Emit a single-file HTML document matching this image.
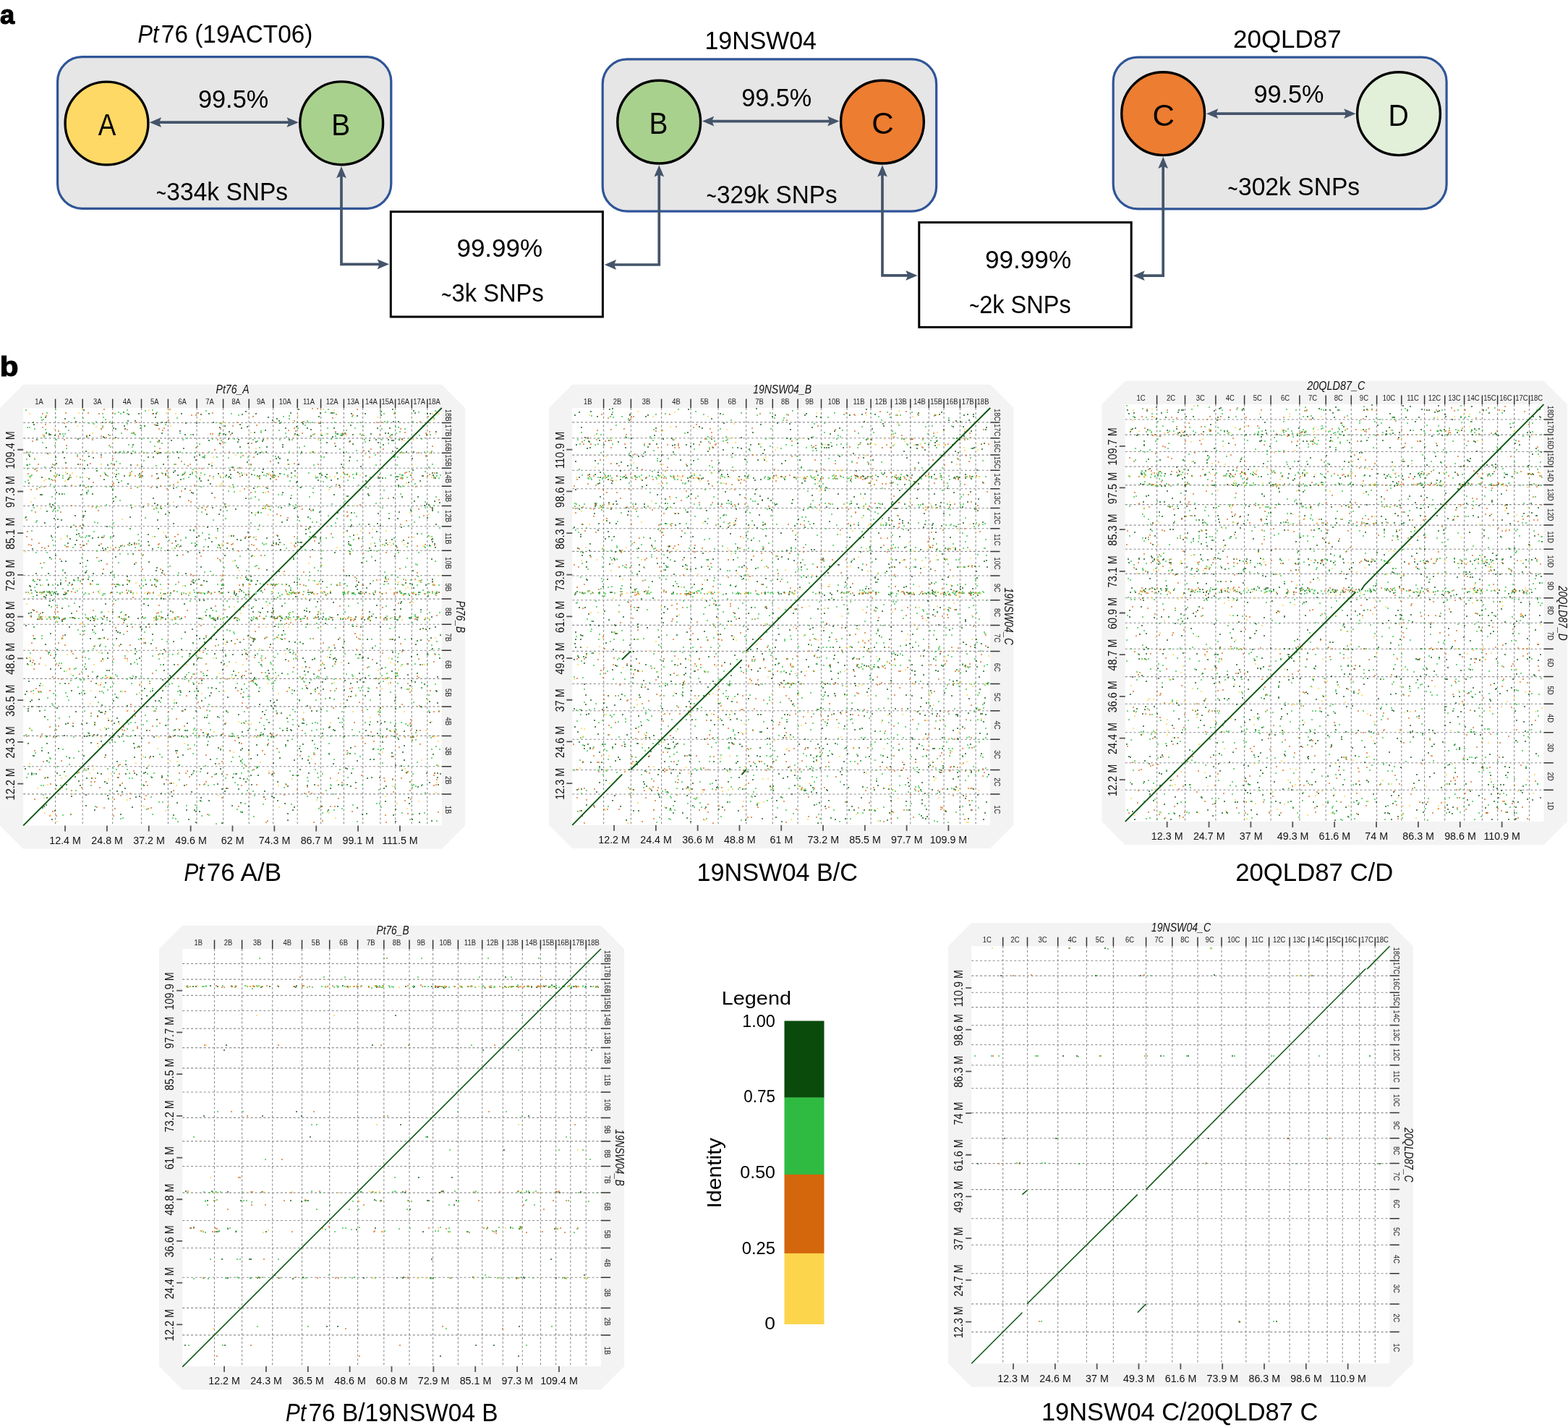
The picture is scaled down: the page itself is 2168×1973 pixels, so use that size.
<!DOCTYPE html>
<html><head><meta charset="utf-8"><style>
html,body{margin:0;padding:0;background:#fff;}
svg{display:block;}
text{font-family:'Liberation Sans', Arial, sans-serif;}
</style></head><body>
<svg width="2168" height="1973" viewBox="0 0 2168 1973">
<rect width="2168" height="1973" fill="#fff"/>
<rect x="79.6" y="78.6" width="461.2" height="209.7" rx="34" ry="34" fill="#e6e6e6" stroke="#2f5597" stroke-width="3.2"/>
<rect x="833.2" y="81.9" width="461.5" height="210.2" rx="34" ry="34" fill="#e6e6e6" stroke="#2f5597" stroke-width="3.2"/>
<rect x="1539.2" y="79.2" width="460.9" height="209.6" rx="34" ry="34" fill="#e6e6e6" stroke="#2f5597" stroke-width="3.2"/>
<rect x="540.3" y="292.7" width="293.1" height="145.3" fill="#fff" stroke="#000" stroke-width="3"/>
<rect x="1270.8" y="307.5" width="293.4" height="144.9" fill="#fff" stroke="#000" stroke-width="3"/>
<path d="M214.8 169.2 L404.8 169.2" fill="none" stroke="#44546a" stroke-width="3.7" stroke-linejoin="miter"/><path d="M206.8 169.2 L223.1 162.3 L220.1 169.2 L223.1 176.1 Z" fill="#44546a"/><path d="M412.8 169.2 L396.5 176.1 L399.5 169.2 L396.5 162.3 Z" fill="#44546a"/>
<path d="M979 167.6 L1152.5 167.6" fill="none" stroke="#44546a" stroke-width="3.7" stroke-linejoin="miter"/><path d="M971 167.6 L987.3 160.7 L984.3 167.6 L987.3 174.5 Z" fill="#44546a"/><path d="M1160.5 167.6 L1144.2 174.5 L1147.2 167.6 L1144.2 160.7 Z" fill="#44546a"/>
<path d="M1676 157.2 L1866.5 157.2" fill="none" stroke="#44546a" stroke-width="3.7" stroke-linejoin="miter"/><path d="M1668 157.2 L1684.3 150.3 L1681.3 157.2 L1684.3 164.1 Z" fill="#44546a"/><path d="M1874.5 157.2 L1858.2 164.1 L1861.2 157.2 L1858.2 150.3 Z" fill="#44546a"/>
<path d="M472 238 L472 365.3 L530 365.3" fill="none" stroke="#44546a" stroke-width="3.7" stroke-linejoin="miter"/><path d="M472 230 L478.9 246.3 L472 243.3 L465.1 246.3 Z" fill="#44546a"/><path d="M538 365.3 L521.7 372.2 L524.7 365.3 L521.7 358.4 Z" fill="#44546a"/>
<path d="M911.3 236.2 L911.3 366 L843.8 366" fill="none" stroke="#44546a" stroke-width="3.7" stroke-linejoin="miter"/><path d="M911.3 228.2 L918.2 244.5 L911.3 241.5 L904.4 244.5 Z" fill="#44546a"/><path d="M835.8 366 L852.1 359.1 L849.1 366 L852.1 372.9 Z" fill="#44546a"/>
<path d="M1220 236.2 L1220 380.9 L1260.6 380.9" fill="none" stroke="#44546a" stroke-width="3.7" stroke-linejoin="miter"/><path d="M1220 228.2 L1226.9 244.5 L1220 241.5 L1213.1 244.5 Z" fill="#44546a"/><path d="M1268.6 380.9 L1252.3 387.8 L1255.3 380.9 L1252.3 374 Z" fill="#44546a"/>
<path d="M1608.2 224.8 L1608.2 381.2 L1574.5 381.2" fill="none" stroke="#44546a" stroke-width="3.7" stroke-linejoin="miter"/><path d="M1608.2 216.8 L1615.1 233.1 L1608.2 230.1 L1601.3 233.1 Z" fill="#44546a"/><path d="M1566.5 381.2 L1582.8 374.3 L1579.8 381.2 L1582.8 388.1 Z" fill="#44546a"/>
<circle cx="147.5" cy="170.5" r="57.4" fill="#ffd966" stroke="#000" stroke-width="3.4"/>
<circle cx="472.2" cy="170.3" r="57.4" fill="#a9d18e" stroke="#000" stroke-width="3.4"/>
<circle cx="911.2" cy="168.6" r="57.4" fill="#a9d18e" stroke="#000" stroke-width="3.4"/>
<circle cx="1220" cy="168.6" r="57.4" fill="#ed7d31" stroke="#000" stroke-width="3.4"/>
<circle cx="1608.2" cy="157.2" r="57.4" fill="#ed7d31" stroke="#000" stroke-width="3.4"/>
<circle cx="1934" cy="157.2" r="57.4" fill="#e2f0d9" stroke="#000" stroke-width="3.4"/>
<text x="135.7" y="187.2" font-size="43.19" fill="#000" textLength="24.57" lengthAdjust="spacingAndGlyphs">A</text>
<text x="458.19" y="186.8" font-size="42.75" fill="#000" textLength="25.93" lengthAdjust="spacingAndGlyphs">B</text>
<text x="897.49" y="184.9" font-size="42.32" fill="#000" textLength="25.93" lengthAdjust="spacingAndGlyphs">B</text>
<text x="1205.29" y="184.9" font-size="42.32" fill="#000" textLength="30.48" lengthAdjust="spacingAndGlyphs">C</text>
<text x="1593.49" y="173.5" font-size="42.32" fill="#000" textLength="30.48" lengthAdjust="spacingAndGlyphs">C</text>
<text x="1919.47" y="174" font-size="42.32" fill="#000" textLength="28.28" lengthAdjust="spacingAndGlyphs">D</text>
<text x="190.48" y="58.8" font-size="34.35" font-style="italic" fill="#000" textLength="28.94" lengthAdjust="spacingAndGlyphs">Pt</text>
<text x="222.83" y="58.8" font-size="34.35" fill="#000" textLength="209.6" lengthAdjust="spacingAndGlyphs">76 (19ACT06)</text>
<text x="974.46" y="67.9" font-size="34.35" fill="#000" textLength="154.48" lengthAdjust="spacingAndGlyphs">19NSW04</text>
<text x="1705.05" y="65.7" font-size="34.35" fill="#000" textLength="149.54" lengthAdjust="spacingAndGlyphs">20QLD87</text>
<text x="274.06" y="149.2" font-size="34.35" fill="#000" textLength="97.07" lengthAdjust="spacingAndGlyphs">99.5%</text>
<text x="1025.26" y="146.8" font-size="34.35" fill="#000" textLength="97.07" lengthAdjust="spacingAndGlyphs">99.5%</text>
<text x="1733.46" y="142.4" font-size="34.35" fill="#000" textLength="97.07" lengthAdjust="spacingAndGlyphs">99.5%</text>
<text x="215.98" y="279.3" font-size="34.35" fill="#000" textLength="13.97" lengthAdjust="spacingAndGlyphs">~</text><text x="230.34" y="277" font-size="34.35" fill="#000" textLength="167.83" lengthAdjust="spacingAndGlyphs">334k SNPs</text>
<text x="976.68" y="283" font-size="34.35" fill="#000" textLength="13.97" lengthAdjust="spacingAndGlyphs">~</text><text x="991.05" y="280.7" font-size="34.35" fill="#000" textLength="166.51" lengthAdjust="spacingAndGlyphs">329k SNPs</text>
<text x="1697.58" y="272.6" font-size="34.35" fill="#000" textLength="13.97" lengthAdjust="spacingAndGlyphs">~</text><text x="1711.94" y="270.3" font-size="34.35" fill="#000" textLength="168.24" lengthAdjust="spacingAndGlyphs">302k SNPs</text>
<text x="631.43" y="355.2" font-size="34.35" fill="#000" textLength="118.67" lengthAdjust="spacingAndGlyphs">99.99%</text>
<text x="610.18" y="419.5" font-size="34.35" fill="#000" textLength="13.97" lengthAdjust="spacingAndGlyphs">~</text><text x="624.57" y="417.2" font-size="34.35" fill="#000" textLength="127.18" lengthAdjust="spacingAndGlyphs">3k SNPs</text>
<text x="1361.92" y="370.5" font-size="34.35" fill="#000" textLength="119.29" lengthAdjust="spacingAndGlyphs">99.99%</text>
<text x="1340.18" y="435.1" font-size="34.35" fill="#000" textLength="13.97" lengthAdjust="spacingAndGlyphs">~</text><text x="1354.17" y="432.8" font-size="34.35" fill="#000" textLength="126.57" lengthAdjust="spacingAndGlyphs">2k SNPs</text>
<text x="0.1" y="33.1" font-size="37.58" font-weight="bold" fill="#000" textLength="20.17" lengthAdjust="spacingAndGlyphs" stroke="#000" stroke-width="1.2">a</text>
<text x="-0.34" y="520.3" font-size="38.62" font-weight="bold" fill="#000" textLength="25.76" lengthAdjust="spacingAndGlyphs" stroke="#000" stroke-width="1.2">b</text>
<path d="M32.2 531.7 L610.8 531.7 L643.1 564 L643.1 1141.4 L610.8 1173.7 L32.2 1173.7 L-0.1 1141.4 L-0.1 564 Z" fill="#f3f3f3"/>
<rect x="32.2" y="564" width="578.6" height="577.4" fill="#fff"/>
<path d="M76.6 564V1141.4M114.2 564V1141.4M155.7 564V1141.4M195.5 564V1141.4M232.4 564V1141.4M272.1 564V1141.4M308.6 564V1141.4M344.2 564V1141.4M377.7 564V1141.4M411.2 564V1141.4M443.6 564V1141.4M475.4 564V1141.4M501.7 564V1141.4M525.9 564V1141.4M546.6 564V1141.4M569.3 564V1141.4M590.8 564V1141.4M32.2 584.5H610.8M32.2 605.9H610.8M32.2 626.3H610.8M32.2 647.2H610.8M32.2 672.2H610.8M32.2 699.5H610.8M32.2 727.8H610.8M32.2 761.3H610.8M32.2 795.8H610.8M32.2 828.1H610.8M32.2 863.2H610.8M32.2 899.3H610.8M32.2 938.4H610.8M32.2 976.9H610.8M32.2 1017.4H610.8M32.2 1059.8H610.8M32.2 1097.9H610.8" stroke="#8c8c8c" stroke-width="1.1" stroke-dasharray="3 2.9" fill="none"/>
<path d="M205 777h2M358 658h2M282 888h2M142 761h2M534 1008h2M365 988h2M584 589h2M598 1043h2M165 875h2M69 925h2M353 611h2M589 697h2M173 1070h2M223 792h2M424 863h2M271 962h2M72 830h2M390 681h2M547 755h2M186 582h2M141 793h2M519 608h2M484 588h2M80 1035h2M277 573h2M329 1020h2M217 588h2M239 1127h2M334 1012h2M127 803h2M414 1064h2M502 943h2M303 591h2M211 689h2M320 599h2M161 993h2M475 887h2M530 1090h2M275 629h2M208 890h2M49 793h2M356 709h2M484 754h2M383 741h2M454 1042h2M465 654h2M215 588h2M378 828h2M550 1022h2M166 1126h2M375 1071h2M89 672h2M482 637h2M412 566h2M579 1125h2M214 577h2M285 934h2M321 646h2M498 645h2M250 898h2M237 1101h2M155 677h2M350 885h2M378 1103h2M264 681h2M563 933h2M103 713h2M399 810h2M185 780h2M509 624h2M577 1088h2M41 914h2M91 820h2M254 655h2M116 959h2M570 789h2M77 681h2M406 703h2M224 789h2M331 815h2M57 660h2M574 891h2M271 879h2M84 719h2M431 760h2M427 704h2M89 579h2M604 936h2M533 747h2M542 566h2M386 750h2M224 940h2M493 943h2M243 972h2M331 888h2M532 1108h2M553 834h2M401 571h2M191 572h2M181 627h2M110 671h2M561 1068h2M487 614h2M608 1070h2M548 659h2M446 953h2M222 827h2M187 1102h2M40 631h2M283 897h2M35 865h2M38 1028h2M382 986h2M529 615h2M516 1050h2M63 619h2M34 960h2M554 832h2M304 1036h2M288 744h2M528 1026h2M522 710h2M183 615h2M218 731h2M373 662h2M521 998h2M312 657h2M204 739h2M558 1031h2M377 751h2M43 968h2M520 837h2M285 804h2M151 859h2M549 717h2M595 882h2M143 882h2M179 715h2M320 1114h2M483 1042h2M288 572h2M411 715h2M415 1039h2M140 975h2M61 991h2M118 791h2M398 848h2M596 773h2M127 1059h2M118 1114h2M355 803h2M526 574h2M565 1111h2M119 681h2M566 807h2M543 1127h2M506 1125h2M239 675h2M475 819h2M217 719h2M484 1087h2M249 663h2M139 1025h2M295 878h2M195 645h2M245 1047h2M156 592h2M202 977h2M386 852h2M321 759h2M292 682h2M336 1077h2M175 866h2M74 717h2M205 754h2M567 1004h2M553 842h2M303 613h2M287 756h2M76 768h2M397 636h2M331 587h2M477 1062h2M100 1004h2M501 809h2M78 979h2M207 1046h2M54 948h2M444 602h2M215 863h2M69 876h2M332 747h2M137 893h2M301 1034h2M300 1084h2M483 610h2M479 1063h2M269 755h2M231 697h2M290 1050h2M593 985h2M426 731h2M131 964h2M60 825h2M277 1063h2M511 1050h2M180 918h2M69 651h2M222 965h2M236 609h2M45 1045h2M263 808h2M373 1014h2M518 755h2M597 745h2M524 961h2M93 817h2M473 1005h2M192 1101h2M264 1071h2M300 731h2M519 938h2M339 822h2M223 584h2M521 1014h2M43 1071h2M365 1094h2M307 926h2M318 661h2M53 967h2M285 992h2M467 993h2M424 976h2M323 855h2M412 642h2M67 600h2M178 751h2M300 856h2M407 888h2M254 835h2M339 689h2M327 746h2M601 661h2M543 688h2M147 1083h2M340 801h2M175 998h2M292 749h2M267 733h2M448 924h2M116 1018h2M199 589h2M51 856h2M382 968h2M411 1072h2M459 604h2M576 738h2M546 980h2M202 962h2M300 991h2M487 601h2M223 1073h2M270 1137h2M291 958h2M304 1063h2M548 620h2M162 874h2M303 599h2M353 830h2M267 1066h2M387 760h2M545 769h2M417 1049h2M81 683h2M554 1059h2M550 672h2M277 665h2M525 727h2M112 1001h2M396 1007h2M157 642h2M85 859h2M266 889h2M349 887h2M604 972h2M222 1097h2M377 980h2M546 1058h2M127 683h2M211 1046h2M475 1018h2M549 761h2M267 919h2M545 1004h2M216 785h2M441 708h2M438 832h2M346 1072h2M267 946h2M406 805h2M308 600h2M185 1047h2M477 977h2M493 1117h2M168 1095h2M159 687h2M512 761h2M111 684h2M214 969h2M354 1030h2M328 785h2M96 745h2M310 768h2M112 730h2M175 976h2M521 724h2M480 686h2M268 1120h2M508 1017h2M582 1086h2M368 788h2M39 668h2M76 905h2M596 746h2M397 1125h2M568 941h2M386 585h2M339 569h2M213 696h2M431 819h2M410 666h2M41 970h2M305 814h2M67 837h2M335 964h2M455 965h2M527 924h2M312 1090h2M425 1051h2M438 1035h2M310 1094h2M580 870h2M244 768h2M555 687h2M64 1018h2M75 1121h2M577 687h2M381 634h2M394 912h2M156 693h2M600 693h2M510 1002h2M407 651h2M354 947h2M459 571h2M453 1120h2M91 1085h2M533 751h2M413 1035h2M485 726h2M549 857h2M256 793h2M544 843h2M34 1063h2M376 841h2M425 929h2M197 701h2M414 750h2M239 887h2M292 644h2M267 806h2M251 983h2M243 755h2M541 1046h2M376 581h2M152 792h2M569 1133h2M488 740h2M120 775h2M466 1115h2M528 661h2M55 684h2M241 651h2M287 664h2M370 577h2M114 726h2M160 872h2M127 744h2M379 976h2M181 702h2M390 615h2M334 573h2M399 697h2M418 890h2M93 751h2M366 595h2M522 661h2M573 571h2M185 1034h2M160 964h2M68 697h2M172 1090h2M602 725h2M510 758h2M313 888h2M358 974h2M63 1113h2M593 1082h2M568 908h2M67 662h2M308 884h2M141 871h2M497 940h2M171 589h2M142 604h2M239 653h2M481 917h2M173 1057h2M148 903h2M252 1044h2M374 976h2M125 1027h2M66 793h2M243 701h2M421 915h2M493 815h2M390 618h2M391 872h2M522 612h2M362 984h2M557 747h2M44 759h2M231 761h2M401 1009h2M315 607h2M117 792h2M581 885h2M121 1063h2M332 1037h2M211 572h2M272 911h2M280 1013h2M264 1095h2M451 612h2M306 1091h2M433 932h2M603 654h2M541 928h2M479 968h2M103 1074h2M282 992h2M277 784h2M150 927h2M443 782h2M216 674h2M590 716h2M332 1052h2M364 1102h2M347 1085h2M384 640h2M275 830h2M166 891h2M306 1138h2M338 744h2M431 912h2M429 959h2M46 844h2M242 1038h2M593 970h2M404 1072h2M460 833h2M115 713h2M420 928h2M334 1035h2M555 607h2M276 1107h2M177 573h2M339 1081h2M60 1115h2M409 667h2M347 709h2M397 1134h2M588 870h2M200 1068h2M571 813h2M284 851h2M369 675h2M343 1037h2M422 738h2M215 811h2M62 577h2M115 567h2M551 881h2M145 1044h2M255 676h2M89 792h2M463 915h2M408 825h2M482 796h2M259 763h2M343 1115h2M334 1123h2M133 651h2M244 1110h2M388 702h2M144 1081h2M156 969h2M140 985h2M139 775h2M478 796h2M205 863h2M572 693h2M163 667h2M573 943h2M228 711h2M289 962h2M593 869h2M463 617h2M542 902h2M66 1041h2M146 1008h2M499 778h2M293 702h2M57 684h2M261 904h2M77 641h2M97 1126h2M85 683h2M58 847h2M145 835h2M107 607h2M385 582h2M42 816h2M381 751h2M548 663h2M466 850h2M519 854h2M248 687h2M326 1070h2M398 642h2M330 1027h2M352 906h2M461 684h2M210 759h2M71 646h2M69 601h2M346 1049h2M541 1041h2M570 650h2M122 662h2M231 851h2M479 656h2M326 821h2M329 988h2M186 1017h2M236 1083h2M43 977h2M39 629h2M546 1119h2M198 835h2M159 811h2M464 912h2M239 724h2M597 897h2M382 579h2M143 605h2M161 1053h2M95 806h2M310 697h2M39 942h2M270 1122h2M119 1018h2M255 874h2M518 775h2M570 1019h2M281 803h2M90 1001h2M242 748h2M253 620h2M50 819h2M226 927h2M505 665h2M277 1103h2M294 584h2M93 663h2M302 711h2M389 878h2M260 1133h2M449 862h2M285 711h2M202 1062h2M347 769h2M173 850h2M526 569h2M342 613h2M182 1116h2M431 1024h2M427 944h2M149 996h2M143 852h2M163 998h2M241 1017h2M596 1135h2M70 701h2M484 963h2M455 1005h2M406 1116h2M176 669h2M362 841h2M46 1045h2M427 729h2M62 891h2M316 597h2M79 729h2M576 931h2M270 636h2M339 798h2M270 983h2M161 1094h2M248 955h2M278 941h2M159 770h2M229 584h2M334 657h2M62 826h2M98 1101h2M389 722h2M592 698h2M94 662h2M607 910h2M40 810h2M514 1018h2M35 715h2M508 683h2M342 879h2M355 1061h2M240 919h2M185 751h2M247 1058h2M404 1120h2M325 934h2M41 811h2M481 749h2M576 886h2M170 570h2M255 601h2M445 856h2M235 845h2M328 611h2M84 776h2M457 664h2M509 725h2M422 922h2M125 673h2M356 1072h2M581 843h2M550 583h2M427 830h2M351 598h2M466 709h2M138 985h2M389 838h2M225 919h2M342 802h2M424 592h2M225 828h2M183 766h2M108 1080h2M115 1045h2M179 731h2M485 709h2M506 813h2M97 729h2M341 590h2M440 576h2M236 1095h2M373 891h2M368 618h2M520 917h2M186 904h2M545 1011h2M233 709h2M385 790h2M141 758h2M186 897h2M149 1104h2M266 682h2M109 959h2M355 628h2M545 885h2M375 1101h2M581 977h2M145 759h2M399 887h2M541 746h2M298 884h2M257 1120h2M46 587h2M543 609h2M310 589h2M130 1002h2M147 927h2M176 582h2M493 575h2M184 1028h2M134 990h2M396 993h2M325 951h2M95 1048h2M410 601h2M342 736h2M397 1087h2M356 708h2M68 771h2M281 830h2M204 749h2M406 1051h2M53 977h2M411 750h2M67 902h2M126 1076h2M416 750h2M363 649h2M331 618h2M378 971h2M226 898h2M194 592h2M602 597h2M414 888h2M346 931h2M468 671h2M505 819h2M75 602h2M440 751h2M118 925h2M147 728h2M286 1030h2M418 586h2M192 655h2M248 596h2M291 841h2M420 844h2M110 779h2M120 643h2M71 1133h2M134 935h2M88 1067h2M597 654h2M266 805h2M104 984h2M123 1017h2M483 766h2M78 1069h2M388 986h2M90 640h2M413 968h2M346 892h2M545 1012h2M533 1087h2M556 1040h2M128 633h2M355 1044h2M456 1090h2M195 1021h2M396 897h2M322 928h2M215 789h2M597 749h2M496 905h2M425 819h2M408 751h2M68 831h2M67 601h2M386 634h2M209 1075h2M546 1136h2M76 632h2M267 918h2M566 948h2M271 952h2M443 981h2M75 703h2M493 1052h2M369 1030h2M605 1085h2M525 979h2M105 747h2M79 718h2M564 1103h2M148 1100h2M484 1034h2M165 625h2M427 1055h2M65 627h2M39 848h2M216 995h2M195 870h2M305 916h2M543 583h2M462 896h2M459 857h2M454 1006h2M129 1016h2M554 729h2M288 1107h2M127 871h2M319 886h2M341 639h2M246 633h2M386 1048h2M118 1099h2M114 715h2M130 1120h2M396 719h2M275 1122h2M38 980h2M460 911h2M191 1032h2M429 603h2M64 1052h2M122 1014h2M35 865h2M524 661h2M393 1111h2M412 1004h2M491 1082h2M154 1023h2M108 738h2M105 739h2M301 655h2M244 1038h2M549 915h2M109 839h2M159 605h2M373 969h2M333 953h2M262 733h2M228 1003h2M457 571h2M66 809h2M139 629h2M64 1103h2M275 764h2M307 899h2M90 590h2M445 943h2M531 998h2M558 1051h2M85 841h2M394 1030h2M350 675h2M569 634h2M58 1117h2M550 671h2M145 944h2M491 811h2M88 1017h2M103 753h2M314 964h2M130 999h2M532 599h2M473 646h2M525 853h2M89 878h2M119 604h2M434 911h2M210 877h2M90 776h2M365 1008h2M289 851h2M64 707h2M483 763h2M57 1038h2M496 931h2M255 936h2M500 1126h2M107 799h2M278 969h2M252 656h2M383 1107h2M204 837h2M428 729h2M444 657h2M509 685h2M481 752h2M329 1091h2M566 1081h2M537 717h2M584 869h2M255 981h2M444 1115h2M571 568h2M195 966h2M219 969h2M425 715h2M586 946h2M473 895h2M286 729h2M83 924h2M406 820h2M545 969h2M607 695h2M462 764h2M304 705h2M400 902h2M476 941h2M201 808h2M542 624h2M265 870h2M347 841h2M64 1028h2M129 858h2M504 962h2M551 708h2M558 1011h2M589 1069h2M140 862h2M556 899h2M350 939h2M72 698h2M418 1029h2M405 773h2M370 927h2M580 919h2M297 1056h2M429 594h2M449 659h2M580 665h2M348 941h2M401 689h2M116 648h2M311 907h2M484 728h2M567 657h2M298 1070h2M409 590h2M223 599h2M555 1065h2M175 797h2M290 669h2M104 583h2M422 732h2M377 1055h2M353 625h2M130 999h2M514 896h2M515 1036h2M332 1110h2M61 723h2M520 735h2M460 1056h2M383 1081h2M608 878h2M385 746h2M579 1137h2M389 931h2M188 1071h2M546 964h2M78 898h2M375 754h2M449 939h2M397 1024h2M200 889h2M202 1010h2M128 793h2M346 797h2M148 643h2M596 853h2M479 734h2M588 809h2M505 658h2M368 744h2M266 601h2M123 602h2M512 600h2M407 600h2M536 599h2M311 601h2M466 600h2M63 599h2M473 600h2M476 599h2M472 602h2M82 600h2M589 601h2M541 601h2M228 655h2M143 663h2M145 656h2M555 657h2M584 658h2M451 656h2M439 664h2M95 660h2M159 659h2M245 657h2M564 667h2M492 656h2M216 655h2M218 661h2M362 653h2M196 658h2M275 661h2M441 655h2M81 657h2M376 652h2M402 654h2M347 656h2M317 650h2M316 659h2M583 658h2M598 657h2M160 656h2M378 657h2M192 660h2M466 662h2M524 661h2M328 653h2M386 655h2M171 658h2M262 656h2M228 657h2M318 656h2M355 658h2M597 702h2M597 704h2M567 706h2M222 703h2M217 698h2M597 706h2M117 707h2M586 699h2M432 705h2M311 701h2M325 704h2M45 698h2M593 754h2M313 758h2M271 753h2M166 755h2M136 754h2M249 755h2M600 752h2M601 757h2M342 759h2M384 753h2M381 752h2M415 756h2M115 754h2M563 751h2M181 753h2M302 754h2M114 801h2M266 802h2M54 802h2M560 806h2M83 806h2M597 801h2M597 804h2M45 802h2M531 804h2M121 801h2M178 803h2M347 803h2M445 804h2M532 799h2M101 802h2M274 801h2M410 805h2M495 805h2M213 801h2M360 817h2M87 822h2M60 818h2M579 819h2M488 820h2M70 823h2M89 822h2M428 819h2M565 823h2M272 820h2M67 818h2M495 820h2M287 818h2M474 822h2M486 820h2M412 820h2M175 820h2M333 817h2M606 819h2M603 820h2M180 819h2M153 819h2M79 822h2M315 819h2M401 816h2M325 823h2M323 821h2M516 822h2M554 820h2M74 819h2M302 818h2M430 820h2M456 820h2M456 819h2M63 823h2M68 819h2M343 822h2M50 823h2M591 824h2M227 821h2M282 821h2M306 820h2M323 819h2M548 819h2M552 818h2M498 818h2M497 821h2M559 821h2M574 822h2M235 820h2M578 819h2M91 820h2M203 821h2M76 821h2M79 821h2M90 821h2M576 854h2M576 857h2M294 855h2M224 854h2M57 856h2M141 856h2M293 855h2M295 857h2M395 853h2M545 856h2M511 858h2M274 855h2M55 853h2M196 853h2M297 858h2M300 854h2M457 854h2M491 853h2M484 857h2M545 853h2M421 852h2M171 858h2M276 855h2M313 853h2M128 855h2M490 856h2M121 856h2M347 858h2M470 856h2M147 854h2M510 853h2M508 855h2M53 856h2M250 855h2M375 852h2M293 855h2M215 857h2M215 854h2M353 855h2M190 855h2M532 854h2M379 855h2M382 855h2M440 856h2M508 856h2M74 853h2M102 855h2M375 853h2M99 854h2M124 858h2M127 853h2M387 858h2M389 855h2M473 856h2M101 854h2M503 857h2M228 856h2M173 856h2M89 855h2M81 855h2M388 854h2M499 856h2M128 855h2M415 856h2M85 857h2M87 856h2M324 854h2M190 855h2M327 858h2M567 854h2M566 855h2M378 853h2M546 935h2M235 936h2M234 934h2M371 931h2M351 937h2M152 937h2M333 936h2M153 938h2M504 937h2M133 936h2M133 936h2M187 936h2M182 938h2M548 931h2M289 1019h2M286 1016h2M287 1015h2M320 1018h2M445 1014h2M528 1019h2M374 1019h2M377 1018h2M146 1016h2M305 1016h2M545 1018h2M134 1016h2M567 1019h2M169 1015h2M363 1015h2M359 1016h2M359 1017h2M83 808h2M209 809h2M374 808h2M465 809h2M308 809h2M493 809h2M79 809h2M99 808h2M569 808h2M50 808h2M335 808h2M395 808h2M306 809h2M353 808h2M215 572h2M594 572h2M250 572h2M442 571h2M590 572h2M353 572h2M485 572h2M504 572h2M576 905h2M497 905h2M590 905h2M334 905h2M339 904h2M341 905h2M321 905h2M262 904h2M296 904h2M590 904h2M224 904h2M65 1075h2M524 1075h2M604 1075h2M119 1076h2M321 1075h2M223 1075h2M513 1075h2M331 1076h2M507 1076h2M162 1075h2M217 627h2M432 625h2M86 625h2M474 626h2M595 626h2M221 626h2M159 626h2M367 625h2M523 945h2M484 945h2M89 945h2M352 945h2M132 945h2M254 1086h2M198 1086h2M226 1084h2M472 1086h2M434 1085h2M165 1086h2M77 1086h2M467 1085h2M110 1086h2M424 1086h2M479 1085h2M88 633h2M384 632h2M483 632h2M281 632h2M211 632h2M204 632h2M544 632h2M268 632h2M281 632h2M231 632h2M122 631h2M50 608h2M541 609h2M329 608h2M288 609h2M362 610h2M536 608h2M363 608h2M551 608h2M399 608h2M510 609h2M219 609h2M36 956h2M98 955h2M603 956h2M485 956h2M602 955h2M508 956h2M475 954h2M210 955h2M224 955h2M261 956h2M406 955h2M357 956h2M249 957h2M273 956h2M435 742h2M319 741h2M156 741h2M122 741h2M274 741h2M322 741h2M70 741h2M565 854h2M513 852h2M164 853h2M439 853h2M552 852h2M374 853h2M177 853h2M42 852h2M410 853h2M319 853h2M446 853h2M521 592h2M333 592h2M172 593h2M159 593h2M461 592h2M394 592h2M538 592h2M258 1010h2M247 1009h2M396 1010h2M462 1010h2M505 1010h2M390 1010h2M575 1010h2M402 1010h2M241 1009h2M342 1010h2M460 1009h2M255 1010h2M37 643h2M471 642h2M107 642h2M225 642h2M288 642h2M180 643h2M359 847h2M98 848h2M155 846h2M427 846h2M510 846h2M375 847h2M423 845h2M369 846h2M349 846h2M377 845h2M42 847h2M273 910h2M192 910h2M455 909h2M141 911h2M418 910h2M462 910h2M500 910h2M148 910h2M508 910h2M74 910h2M36 910h2M501 909h2M399 951h2M582 951h2M424 952h2M438 951h2M435 953h2M554 951h2M423 951h2M298 952h2M292 951h2M199 952h2M563 918h2M47 918h2M37 918h2M309 918h2M360 919h2M153 673h2M415 674h2M212 1019h2M250 1018h2M155 1019h2M77 1018h2M164 1019h2M285 1019h2M258 1019h2M235 1019h2M46 867h2M130 866h2M525 867h2M601 867h2M498 867h2M487 866h2M379 866h2M201 867h2M95 867h2M193 867h2M604 1069h2M306 1070h2M185 1069h2M286 1069h2M325 1070h2M139 1070h2M198 1069h2M43 1069h2M134 1069h2M485 1069h2M600 1069h2M376 1070h2M426 1069h2M49 1070h2M157 1000h2M258 1000h2M310 1001h2M594 999h2M119 1000h2M417 1000h2M526 1000h2M371 999h2M419 1000h2M93 1000h2M175 808h2M169 809h2M376 809h2M278 809h2M162 808h2M66 808h2M277 809h2M364 808h2M511 807h2M145 984h2M312 983h2M430 983h2M54 983h2M437 983h2M136 983h2M38 983h2M135 743h2M140 743h2M271 743h2M495 744h2M343 743h2M433 743h2M229 743h2M442 744h2M351 883h2M124 883h2M194 883h2M568 883h2M349 883h2M542 884h2M137 883h2M507 884h2M275 883h2M85 883h2M467 884h2M389 884h2M281 883h2M291 883h2M160 883h2M46 883h2M561 625h2M571 625h2M118 624h2M359 626h2M450 626h2M219 626h2M244 625h2M213 624h2M176 625h2M416 625h2M256 585h2M217 585h2M271 585h2M442 585h2M417 584h2M154 585h2M45 584h2M141 584h2" stroke="#135a16" stroke-width="2" stroke-opacity="0.72" fill="none"/>
<path d="M86 1127h2M158 1026h2M140 903h2M486 1009h2M423 1002h2M149 1007h2M199 874h2M35 567h2M88 855h2M487 1113h2M342 963h2M492 714h2M242 862h2M395 604h2M427 796h2M185 988h2M562 953h2M570 583h2M119 683h2M525 618h2M349 943h2M493 637h2M351 1100h2M163 778h2M414 888h2M245 795h2M452 1122h2M432 681h2M489 709h2M154 791h2M322 874h2M214 802h2M86 789h2M458 697h2M256 744h2M248 961h2M371 940h2M90 958h2M582 951h2M74 658h2M112 958h2M437 862h2M495 671h2M370 1023h2M582 978h2M495 951h2M354 1019h2M386 824h2M94 838h2M153 641h2M399 579h2M303 944h2M334 1055h2M231 1116h2M506 776h2M264 751h2M47 635h2M550 673h2M41 903h2M569 1086h2M40 1007h2M314 985h2M491 962h2M454 895h2M590 948h2M115 901h2M145 580h2M440 1118h2M255 810h2M100 934h2M465 717h2M606 983h2M220 1043h2M352 680h2M271 1117h2M528 689h2M359 807h2M147 857h2M524 985h2M379 941h2M358 619h2M195 624h2M73 754h2M530 678h2M188 960h2M404 1002h2M76 577h2M104 1093h2M450 1093h2M434 1018h2M486 576h2M486 820h2M240 972h2M109 741h2M509 952h2M549 798h2M65 965h2M578 570h2M501 590h2M384 878h2M88 928h2M489 1017h2M594 601h2M592 646h2M599 578h2M134 723h2M287 951h2M373 916h2M310 612h2M142 958h2M474 1019h2M574 1087h2M66 904h2M529 1035h2M357 691h2M247 1018h2M281 934h2M155 676h2M587 702h2M346 804h2M472 1118h2M476 693h2M520 1111h2M91 1091h2M323 680h2M488 746h2M282 791h2M596 898h2M428 883h2M438 1069h2M293 844h2M437 722h2M175 1008h2M551 608h2M199 828h2M262 831h2M288 1127h2M363 681h2M524 746h2M106 629h2M223 1047h2M518 893h2M352 687h2M346 723h2M486 864h2M170 877h2M410 745h2M59 1086h2M213 617h2M313 871h2M492 623h2M372 834h2M427 742h2M519 643h2M38 664h2M95 991h2M206 942h2M357 916h2M511 998h2M541 795h2M497 955h2M338 1111h2M584 816h2M424 1101h2M315 679h2M173 1052h2M438 1103h2M446 666h2M337 984h2M169 1131h2M101 1048h2M84 917h2M599 699h2M101 726h2M127 929h2M400 665h2M556 672h2M433 855h2M445 1124h2M507 981h2M434 1029h2M362 703h2M193 588h2M365 768h2M280 931h2M230 887h2M319 1053h2M476 807h2M171 855h2M288 739h2M248 599h2M545 570h2M66 902h2M449 570h2M89 827h2M531 791h2M385 595h2M210 907h2M360 596h2M175 1064h2M129 874h2M122 798h2M601 776h2M260 823h2M233 747h2M281 756h2M397 998h2M49 722h2M443 655h2M582 607h2M36 635h2M469 621h2M469 1064h2M405 902h2M110 877h2M326 782h2M413 969h2M179 937h2M564 953h2M553 683h2M260 930h2M552 597h2M419 942h2M607 1036h2M339 823h2M439 868h2M216 570h2M439 789h2M511 968h2M603 1135h2M394 1032h2M409 1072h2M72 747h2M367 658h2M67 854h2M64 764h2M361 921h2M587 694h2M76 1004h2M588 631h2M165 641h2M70 663h2M259 1036h2M132 583h2M404 929h2M138 891h2M34 716h2M606 905h2M322 674h2M319 646h2M554 999h2M434 785h2M354 782h2M330 647h2M81 702h2M277 654h2M324 1082h2M428 717h2M386 1007h2M341 800h2M268 1030h2M374 918h2M148 954h2M183 624h2M328 832h2M546 590h2M508 675h2M573 669h2M323 607h2M461 967h2M473 994h2M513 770h2M486 933h2M400 989h2M56 957h2M572 722h2M349 1094h2M78 1060h2M522 1036h2M217 611h2M520 762h2M121 900h2M433 740h2M269 825h2M73 959h2M160 1064h2M115 671h2M304 776h2M194 813h2M574 1013h2M601 568h2M389 822h2M91 1046h2M592 961h2M231 1072h2M156 723h2M368 995h2M421 588h2M332 1053h2M64 802h2M210 567h2M146 673h2M267 993h2M496 1012h2M234 783h2M361 899h2M190 739h2M564 1059h2M251 908h2M148 757h2M125 990h2M145 894h2M366 700h2M555 1124h2M286 820h2M210 1126h2M446 848h2M550 904h2M404 981h2M347 882h2M289 853h2M47 812h2M560 1001h2M285 904h2M562 772h2M70 839h2M405 911h2M57 879h2M166 1132h2M132 648h2M342 1066h2M283 1059h2M528 1055h2M191 747h2M259 1030h2M123 741h2M327 799h2M436 968h2M570 1126h2M294 719h2M40 1060h2M151 1027h2M215 644h2M463 723h2M45 825h2M160 638h2M156 892h2M57 785h2M180 999h2M155 1062h2M176 766h2M401 813h2M395 758h2M208 1102h2M140 1098h2M185 916h2M241 758h2M482 762h2M476 904h2M162 965h2M238 1131h2M278 708h2M402 1112h2M563 1003h2M102 578h2M313 831h2M329 574h2M435 999h2M523 1042h2M268 1007h2M290 790h2M481 838h2M152 742h2M334 1050h2M574 780h2M175 939h2M354 1060h2M460 1098h2M360 598h2M116 922h2M457 727h2M321 1047h2M119 789h2M224 1109h2M133 762h2M104 924h2M210 885h2M61 1076h2M426 1046h2M399 850h2M400 898h2M177 1001h2M586 1124h2M211 977h2M400 1066h2M502 771h2M332 1123h2M358 662h2M516 1035h2M316 839h2M266 1042h2M287 1025h2M230 626h2M221 971h2M496 725h2M71 687h2M402 685h2M538 869h2M53 850h2M72 809h2M129 735h2M423 841h2M212 962h2M74 643h2M428 736h2M360 1013h2M336 1062h2M165 766h2M340 789h2M526 1036h2M546 1000h2M535 937h2M514 743h2M364 1003h2M161 935h2M302 600h2M341 1077h2M382 881h2M535 583h2M424 582h2M461 939h2M232 994h2M532 797h2M478 595h2M200 1047h2M175 586h2M392 753h2M380 930h2M178 805h2M293 607h2M337 1000h2M156 689h2M349 839h2M408 910h2M579 602h2M105 733h2M472 984h2M309 785h2M536 613h2M319 572h2M57 1034h2M163 655h2M432 706h2M582 944h2M48 1041h2M135 808h2M188 901h2M490 1042h2M250 820h2M78 860h2M567 802h2M298 1139h2M183 1010h2M456 900h2M367 832h2M346 689h2M57 581h2M118 783h2M344 1007h2M149 601h2M301 892h2M220 904h2M43 734h2M606 897h2M154 729h2M181 945h2M596 1036h2M383 826h2M324 775h2M446 1008h2M270 965h2M86 814h2M449 966h2M116 637h2M392 1089h2M420 943h2M94 595h2M568 853h2M577 797h2M529 942h2M427 791h2M121 678h2M269 1113h2M198 637h2M204 606h2M56 577h2M197 767h2M249 747h2M88 683h2M198 855h2M589 966h2M450 744h2M328 825h2M131 876h2M571 1085h2M487 1063h2M72 975h2M352 712h2M394 1084h2M100 814h2M151 1093h2M607 847h2M421 933h2M348 1065h2M603 1058h2M216 1004h2M121 1013h2M167 1018h2M136 776h2M403 1022h2M573 852h2M311 1076h2M267 734h2M59 580h2M170 1025h2M545 631h2M407 658h2M509 934h2M403 959h2M469 806h2M389 684h2M76 962h2M200 568h2M518 629h2M245 1136h2M536 807h2M244 578h2M360 709h2M116 872h2M218 708h2M461 1120h2M148 658h2M182 992h2M219 1109h2M76 566h2M53 957h2M337 1057h2M478 932h2M182 618h2M546 931h2M65 995h2M149 1105h2M605 708h2M56 819h2M355 904h2M197 1002h2M453 713h2M94 968h2M165 692h2M308 837h2M592 807h2M421 1014h2M419 996h2M181 863h2M426 654h2M321 1015h2M522 984h2M569 1089h2M393 834h2M277 1108h2M331 843h2M515 803h2M431 1000h2M331 769h2M348 768h2M142 577h2M102 925h2M354 1062h2M283 965h2M552 978h2M493 1136h2M158 960h2M117 909h2M382 808h2M426 802h2M228 587h2M524 982h2M266 649h2M285 843h2M341 1093h2M79 706h2M542 1078h2M379 909h2M152 950h2M118 1065h2M509 922h2M542 900h2M160 650h2M576 1054h2M350 650h2M288 974h2M515 849h2M100 757h2M323 876h2M414 1032h2M397 932h2M175 996h2M316 915h2M70 773h2M167 665h2M149 648h2M283 746h2M50 720h2M311 717h2M523 1092h2M560 784h2M352 783h2M167 846h2M152 618h2M128 897h2M484 719h2M363 1112h2M432 675h2M593 755h2M242 1132h2M228 949h2M179 731h2M146 698h2M114 578h2M78 837h2M462 955h2M58 612h2M337 898h2M346 802h2M459 921h2M234 671h2M427 687h2M92 963h2M223 613h2M202 997h2M151 583h2M48 817h2M444 772h2M148 1063h2M296 1071h2M421 760h2M121 748h2M155 916h2M454 1028h2M582 738h2M299 1049h2M97 941h2M272 617h2M59 1099h2M143 950h2M579 715h2M48 648h2M75 616h2M384 701h2M586 756h2M534 852h2M286 989h2M574 1023h2M86 661h2M71 973h2M519 696h2M340 952h2M294 795h2M596 892h2M157 798h2M438 850h2M207 611h2M327 1119h2M457 607h2M247 1078h2M68 1048h2M356 732h2M151 981h2M107 950h2M399 575h2M121 679h2M110 660h2M436 839h2M282 630h2M188 912h2M141 589h2M175 567h2M504 611h2M537 710h2M336 957h2M525 568h2M350 1129h2M453 566h2M210 952h2M60 778h2M91 620h2M189 1033h2M267 816h2M603 887h2M60 604h2M384 863h2M541 911h2M383 904h2M108 1039h2M431 722h2M596 742h2M246 792h2M573 850h2M385 1040h2M278 1128h2M200 716h2M485 759h2M531 583h2M601 946h2M275 614h2M159 830h2M95 1057h2M177 615h2M69 670h2M397 657h2M112 929h2M237 980h2M480 1041h2M376 925h2M532 923h2M117 850h2M139 593h2M435 1034h2M276 1067h2M284 568h2M602 687h2M86 1036h2M425 1080h2M129 894h2M527 593h2M546 659h2M81 993h2M389 863h2M172 907h2M404 995h2M349 608h2M279 737h2M261 907h2M63 1019h2M300 734h2M600 904h2M317 872h2M215 980h2M587 1096h2M596 1048h2M443 762h2M393 877h2M524 1111h2M49 764h2M167 599h2M550 659h2M90 799h2M233 660h2M413 619h2M511 660h2M569 861h2M246 1058h2M43 706h2M257 1114h2M37 648h2M532 661h2M454 1043h2M497 1046h2M445 901h2M334 1097h2M326 783h2M433 1041h2M518 817h2M576 781h2M278 820h2M607 730h2M571 971h2M395 649h2M122 911h2M344 963h2M207 802h2M422 810h2M549 909h2M391 576h2M116 866h2M413 720h2M578 764h2M302 992h2M337 826h2M62 594h2M602 1032h2M115 1065h2M550 591h2M366 930h2M200 989h2M461 1050h2M130 722h2M451 812h2M478 686h2M135 971h2M61 646h2M418 994h2M202 1119h2M547 599h2M361 907h2M429 940h2M494 834h2M69 1049h2M246 949h2M508 762h2M209 828h2M34 666h2M131 1115h2M229 1003h2M305 586h2M202 828h2M156 945h2M526 1116h2M112 771h2M403 954h2M533 838h2M435 1064h2M300 757h2M564 727h2M517 751h2M332 1122h2M596 624h2M438 935h2M442 746h2M163 570h2M207 956h2M282 633h2M67 1054h2M550 764h2M339 997h2M129 586h2M102 834h2M321 670h2M443 782h2M420 617h2M96 854h2M195 607h2M114 873h2M548 643h2M405 771h2M545 1088h2M566 1133h2M155 1017h2M500 745h2M157 795h2M107 871h2M82 1072h2M384 684h2M330 1046h2M284 881h2M86 788h2M215 927h2M304 1037h2M358 726h2M186 601h2M183 599h2M539 602h2M412 602h2M394 599h2M432 601h2M452 600h2M497 600h2M502 602h2M465 606h2M63 598h2M89 600h2M87 603h2M86 600h2M309 600h2M473 600h2M444 602h2M464 600h2M463 599h2M258 606h2M463 603h2M185 600h2M181 599h2M470 602h2M471 600h2M263 601h2M556 657h2M555 657h2M552 656h2M451 661h2M590 658h2M97 660h2M451 660h2M251 657h2M253 662h2M599 659h2M603 658h2M86 658h2M179 657h2M368 655h2M487 656h2M351 657h2M492 654h2M608 657h2M606 661h2M41 659h2M42 658h2M492 656h2M438 660h2M340 657h2M191 657h2M282 656h2M265 655h2M144 654h2M364 657h2M311 659h2M436 661h2M436 660h2M40 659h2M43 657h2M380 658h2M377 658h2M78 656h2M488 661h2M265 653h2M270 658h2M315 660h2M255 653h2M376 660h2M92 655h2M161 663h2M555 660h2M304 660h2M192 660h2M402 660h2M181 652h2M178 658h2M565 652h2M475 655h2M333 654h2M294 659h2M275 663h2M524 656h2M476 656h2M387 655h2M223 654h2M587 652h2M260 660h2M231 658h2M480 664h2M562 660h2M556 661h2M392 656h2M357 659h2M539 657h2M540 657h2M408 698h2M408 702h2M132 702h2M407 701h2M180 698h2M133 700h2M366 703h2M567 704h2M400 698h2M221 702h2M46 702h2M273 703h2M215 702h2M216 703h2M594 701h2M212 704h2M528 702h2M480 699h2M313 706h2M279 702h2M73 705h2M373 705h2M372 700h2M75 696h2M72 707h2M594 755h2M314 751h2M66 755h2M562 756h2M89 754h2M482 754h2M483 753h2M269 751h2M271 753h2M528 753h2M531 754h2M301 753h2M164 757h2M245 753h2M186 757h2M222 758h2M218 757h2M191 752h2M193 755h2M543 752h2M587 757h2M362 751h2M178 754h2M304 758h2M171 755h2M367 752h2M364 753h2M306 801h2M269 803h2M557 801h2M83 802h2M47 804h2M45 803h2M110 804h2M533 801h2M102 803h2M410 799h2M581 805h2M492 800h2M200 802h2M195 803h2M413 801h2M434 803h2M124 808h2M217 803h2M216 804h2M177 803h2M441 804h2M107 802h2M110 803h2M371 803h2M582 802h2M43 820h2M375 821h2M375 818h2M578 822h2M488 821h2M486 821h2M135 818h2M475 819h2M473 819h2M353 819h2M353 821h2M69 820h2M71 818h2M165 820h2M177 817h2M117 820h2M168 819h2M58 819h2M273 820h2M591 819h2M591 818h2M497 819h2M183 821h2M142 821h2M221 820h2M476 821h2M286 820h2M211 820h2M474 821h2M57 820h2M490 822h2M281 820h2M261 820h2M399 822h2M480 821h2M395 818h2M183 820h2M402 821h2M603 818h2M515 820h2M448 819h2M307 820h2M553 820h2M73 821h2M115 822h2M35 819h2M282 821h2M343 817h2M401 820h2M397 822h2M144 821h2M141 823h2M228 821h2M106 817h2M398 822h2M399 819h2M445 820h2M528 821h2M244 818h2M419 818h2M601 820h2M601 821h2M384 820h2M552 817h2M403 819h2M68 821h2M161 819h2M450 823h2M560 821h2M560 821h2M122 821h2M571 819h2M499 821h2M426 822h2M234 823h2M291 820h2M580 819h2M403 820h2M405 818h2M64 818h2M65 819h2M564 821h2M565 823h2M336 819h2M557 821h2M597 820h2M587 821h2M481 818h2M362 819h2M253 820h2M268 819h2M239 817h2M91 820h2M593 819h2M250 821h2M77 818h2M518 818h2M427 819h2M60 819h2M89 856h2M565 855h2M124 854h2M139 854h2M470 856h2M295 855h2M347 854h2M393 856h2M547 857h2M509 855h2M278 856h2M449 856h2M222 855h2M420 855h2M200 854h2M539 855h2M586 857h2M64 856h2M410 856h2M455 853h2M215 852h2M215 856h2M355 856h2M217 856h2M309 854h2M481 853h2M593 857h2M212 854h2M216 856h2M400 854h2M509 856h2M346 857h2M241 854h2M242 856h2M317 855h2M118 854h2M134 856h2M435 853h2M121 855h2M108 855h2M551 854h2M55 855h2M222 854h2M380 855h2M77 854h2M450 855h2M295 855h2M294 854h2M74 854h2M593 857h2M353 854h2M533 857h2M411 854h2M248 856h2M237 857h2M419 855h2M418 855h2M74 856h2M450 857h2M453 856h2M397 855h2M291 855h2M167 855h2M103 855h2M171 856h2M367 852h2M79 853h2M80 854h2M389 854h2M130 855h2M131 852h2M414 856h2M365 855h2M328 855h2M398 853h2M330 857h2M328 855h2M290 852h2M534 857h2M349 856h2M577 854h2M307 856h2M304 856h2M329 930h2M159 933h2M369 936h2M367 935h2M370 939h2M105 937h2M121 935h2M111 940h2M110 940h2M369 938h2M487 935h2M414 936h2M417 939h2M418 938h2M353 939h2M546 930h2M527 934h2M115 940h2M266 932h2M440 936h2M451 936h2M384 934h2M153 937h2M260 941h2M257 933h2M299 936h2M194 935h2M534 931h2M537 937h2M204 938h2M145 934h2M141 937h2M183 935h2M254 939h2M437 937h2M547 935h2M549 934h2M320 933h2M320 1014h2M35 1016h2M444 1018h2M270 1017h2M274 1019h2M266 1014h2M549 1020h2M569 1024h2M361 1016h2M595 1020h2M523 1017h2M369 1018h2M307 809h2M598 809h2M479 810h2M213 808h2M197 810h2M160 808h2M606 809h2M164 809h2M163 808h2M576 809h2M55 809h2M378 808h2M557 809h2M141 572h2M64 571h2M158 572h2M175 572h2M166 572h2M461 571h2M530 572h2M491 905h2M311 905h2M238 905h2M270 906h2M232 905h2M404 904h2M245 904h2M591 905h2M456 905h2M439 1075h2M208 1074h2M178 1076h2M36 1075h2M424 1075h2M182 1076h2M480 1075h2M586 625h2M36 626h2M269 626h2M415 627h2M556 626h2M202 626h2M248 625h2M171 626h2M361 625h2M257 626h2M41 625h2M327 945h2M377 945h2M55 945h2M266 944h2M549 945h2M458 945h2M337 946h2M375 945h2M352 945h2M233 946h2M353 946h2M82 945h2M278 945h2M237 945h2M472 1085h2M281 1085h2M457 1086h2M583 1085h2M197 1085h2M83 1086h2M125 1086h2M295 1085h2M328 1085h2M281 1085h2M500 1085h2M287 1086h2M56 1086h2M456 1085h2M380 631h2M299 632h2M447 632h2M279 632h2M443 632h2M544 632h2M332 632h2M315 633h2M342 632h2M549 632h2M527 608h2M305 609h2M403 608h2M386 608h2M77 608h2M76 608h2M252 608h2M442 609h2M503 608h2M355 610h2M435 956h2M302 956h2M166 956h2M539 957h2M45 955h2M273 955h2M245 956h2M196 955h2M115 955h2M140 956h2M268 956h2M143 741h2M92 741h2M591 741h2M431 741h2M483 742h2M592 741h2M119 741h2M68 853h2M53 853h2M77 853h2M405 853h2M219 852h2M244 853h2M350 853h2M574 853h2M383 853h2M67 853h2M387 852h2M452 592h2M411 592h2M37 591h2M193 592h2M47 593h2M194 592h2M40 591h2M490 592h2M559 593h2M437 1009h2M430 1010h2M290 1009h2M77 1009h2M353 1009h2M538 1010h2M267 1009h2M547 1009h2M525 1010h2M257 1010h2M239 1010h2M270 1010h2M43 1010h2M40 642h2M597 642h2M254 642h2M36 643h2M346 642h2M346 643h2M240 642h2M433 643h2M166 847h2M222 846h2M377 846h2M581 846h2M593 847h2M140 846h2M139 847h2M238 847h2M298 845h2M400 847h2M476 846h2M283 846h2M439 846h2M357 846h2M404 846h2M219 911h2M494 910h2M104 910h2M360 910h2M298 910h2M274 909h2M495 910h2M434 910h2M276 910h2M508 951h2M340 952h2M417 952h2M499 951h2M358 951h2M376 952h2M221 919h2M117 918h2M590 918h2M447 919h2M189 918h2M81 917h2M38 919h2M555 919h2M573 918h2M414 674h2M553 673h2M243 674h2M189 674h2M455 674h2M368 675h2M355 673h2M121 673h2M54 674h2M74 674h2M505 674h2M277 673h2M101 1019h2M378 1019h2M294 1018h2M543 1018h2M323 1018h2M73 1019h2M127 1018h2M176 1018h2M179 1018h2M456 1018h2M318 1018h2M336 1018h2M528 1018h2M318 1018h2M253 1019h2M463 868h2M545 868h2M422 867h2M384 867h2M46 867h2M296 867h2M570 1070h2M333 1069h2M157 1069h2M106 1069h2M38 1070h2M322 1070h2M203 1070h2M445 1070h2M562 1068h2M212 1069h2M178 1069h2M46 1070h2M266 1069h2M504 999h2M186 999h2M438 1000h2M174 999h2M358 999h2M288 1000h2M333 1000h2M469 999h2M539 999h2M472 999h2M306 808h2M242 808h2M93 809h2M457 808h2M549 808h2M133 808h2M380 809h2M556 809h2M410 809h2M530 808h2M363 808h2M300 808h2M221 808h2M569 809h2M389 808h2M592 983h2M289 983h2M61 982h2M367 982h2M381 983h2M313 984h2M212 983h2M451 983h2M407 984h2M116 983h2M117 743h2M152 744h2M256 743h2M71 743h2M544 744h2M213 742h2M111 743h2M459 743h2M298 744h2M350 743h2M429 743h2M436 743h2M538 884h2M250 883h2M497 884h2M135 883h2M559 884h2M191 884h2M379 883h2M48 883h2M387 883h2M57 883h2M223 884h2M513 884h2M366 882h2M288 625h2M186 625h2M164 626h2M554 625h2M399 625h2M328 626h2M431 625h2M332 626h2M478 625h2M238 625h2M170 624h2M425 584h2M410 584h2M122 585h2M431 584h2M388 584h2M303 585h2M497 584h2M462 584h2M485 584h2M94 583h2" stroke="#3cc44e" stroke-width="2" stroke-opacity="0.72" fill="none"/>
<path d="M273 571h2M323 650h2M90 803h2M334 972h2M497 698h2M219 593h2M139 914h2M440 585h2M234 1083h2M339 903h2M125 986h2M42 677h2M361 930h2M395 862h2M47 1105h2M43 889h2M264 936h2M124 807h2M259 644h2M293 571h2M325 847h2M440 959h2M316 625h2M459 578h2M47 649h2M333 1028h2M201 1081h2M490 1032h2M510 737h2M268 671h2M346 942h2M216 802h2M219 611h2M425 816h2M368 698h2M110 635h2M191 761h2M324 890h2M499 1072h2M69 906h2M52 956h2M218 905h2M112 807h2M443 1097h2M599 984h2M603 570h2M414 1045h2M147 780h2M276 979h2M86 879h2M559 1019h2M533 1137h2M255 853h2M462 613h2M597 617h2M189 643h2M49 952h2M144 1047h2M286 1126h2M532 1127h2M329 762h2M213 809h2M72 1122h2M559 654h2M408 596h2M198 889h2M327 884h2M54 1064h2M580 1029h2M43 746h2M392 1099h2M192 1033h2M406 641h2M382 987h2M357 786h2M93 756h2M58 591h2M179 1104h2M446 889h2M82 773h2M355 1017h2M270 728h2M528 840h2M456 955h2M555 974h2M98 699h2M433 1137h2M163 1058h2M46 899h2M204 1118h2M456 1076h2M578 911h2M382 881h2M59 1053h2M262 1035h2M104 728h2M119 752h2M185 983h2M486 1122h2M332 959h2M337 676h2M179 1097h2M201 1100h2M580 583h2M84 1052h2M479 708h2M482 611h2M164 893h2M155 634h2M317 1038h2M413 700h2M313 1071h2M170 861h2M335 630h2M134 991h2M196 787h2M36 742h2M303 774h2M68 1005h2M68 955h2M232 984h2M457 738h2M72 936h2M277 938h2M352 873h2M542 1077h2M180 974h2M58 572h2M548 757h2M280 761h2M189 1007h2M474 653h2M360 768h2M430 1097h2M156 1128h2M397 716h2M531 1080h2M481 963h2M406 582h2M303 757h2M589 602h2M559 598h2M262 642h2M492 881h2M603 851h2M313 939h2M302 1056h2M435 1056h2M576 792h2M216 662h2M393 883h2M192 810h2M373 638h2M130 893h2M339 928h2M175 873h2M464 573h2M382 711h2M63 575h2M186 990h2M567 1105h2M284 1044h2M562 918h2M260 692h2M95 925h2M353 746h2M250 822h2M130 1081h2M243 1041h2M516 1025h2M548 1015h2M365 1043h2M550 834h2M520 584h2M566 833h2M552 786h2M220 620h2M528 903h2M98 901h2M484 858h2M434 1043h2M127 608h2M507 923h2M439 849h2M128 844h2M168 754h2M553 725h2M502 623h2M231 820h2M210 1004h2M410 911h2M133 1116h2M128 667h2M555 901h2M57 757h2M354 588h2M563 945h2M428 979h2M278 648h2M110 727h2M529 621h2M300 772h2M68 1128h2M442 1116h2M137 1089h2M296 688h2M350 1064h2M263 694h2M521 626h2M418 994h2M51 801h2M379 810h2M306 1053h2M158 1118h2M401 861h2M270 574h2M428 770h2M247 756h2M57 1015h2M368 881h2M250 679h2M139 603h2M243 994h2M533 764h2M80 920h2M179 657h2M563 1067h2M437 854h2M372 895h2M424 1088h2M219 837h2M257 962h2M116 1063h2M284 879h2M159 757h2M215 853h2M221 787h2M156 668h2M258 844h2M336 884h2M379 584h2M366 1105h2M284 1081h2M561 720h2M78 840h2M234 566h2M127 700h2M371 1069h2M46 925h2M179 892h2M150 616h2M588 630h2M277 769h2M578 704h2M189 1005h2M426 1095h2M490 876h2M72 664h2M331 647h2M419 809h2M419 583h2M369 1135h2M277 929h2M339 1059h2M314 1090h2M261 1074h2M84 939h2M304 614h2M527 584h2M292 1074h2M142 787h2M499 756h2M208 674h2M419 791h2M422 948h2M147 937h2M44 843h2M77 1128h2M164 1070h2M258 1066h2M553 890h2M115 877h2M184 598h2M462 1115h2M134 1028h2M224 595h2M460 979h2M438 565h2M204 697h2M245 739h2M277 865h2M405 923h2M493 566h2M141 1030h2M110 642h2M440 927h2M361 913h2M155 670h2M113 909h2M387 713h2M210 931h2M535 753h2M489 999h2M362 1038h2M146 605h2M239 670h2M285 982h2M370 1028h2M307 795h2M89 892h2M50 676h2M239 1093h2M139 632h2M85 1089h2M500 844h2M242 642h2M500 1021h2M492 898h2M37 735h2M144 987h2M165 1057h2M263 794h2M221 672h2M36 719h2M280 902h2M98 671h2M512 1012h2M420 1097h2M187 778h2M55 848h2M80 1004h2M125 942h2M155 571h2M512 621h2M282 1084h2M125 1081h2M198 626h2M208 1117h2M605 1123h2M297 893h2M370 680h2M306 1103h2M599 1072h2M546 938h2M566 1001h2M184 1066h2M215 896h2M62 587h2M55 779h2M196 652h2M347 613h2M566 1093h2M175 911h2M491 1090h2M495 745h2M339 742h2M91 616h2M487 574h2M344 1098h2M345 881h2M469 838h2M480 713h2M170 1005h2M394 816h2M554 1076h2M553 593h2M176 753h2M469 882h2M159 625h2M536 689h2M275 900h2M551 1033h2M433 1043h2M270 619h2M157 1105h2M151 602h2M543 1046h2M50 651h2M205 1027h2M91 756h2M492 866h2M296 622h2M131 1076h2M273 971h2M264 574h2M53 751h2M310 843h2M559 1107h2M285 701h2M47 1038h2M139 593h2M183 826h2M479 714h2M573 801h2M602 823h2M445 1135h2M80 596h2M514 912h2M456 1115h2M382 1035h2M196 768h2M384 659h2M226 794h2M230 651h2M569 1023h2M510 663h2M434 748h2M523 988h2M50 846h2M567 995h2M464 670h2M283 705h2M230 676h2M555 608h2M474 788h2M410 1092h2M439 1086h2M357 867h2M83 708h2M128 1017h2M479 1038h2M472 1082h2M143 566h2M520 802h2M166 1100h2M354 759h2M323 817h2M112 1089h2M431 565h2M175 594h2M278 939h2M427 923h2M593 597h2M266 796h2M156 759h2M45 913h2M252 983h2M591 576h2M367 1137h2M543 1095h2M90 647h2M44 610h2M467 1104h2M592 886h2M398 914h2M576 755h2M563 1125h2M213 587h2M331 659h2M585 713h2M61 758h2M44 916h2M414 808h2M108 1068h2M80 603h2M216 848h2M397 642h2M143 1117h2M336 839h2M415 727h2M250 638h2M324 1024h2M474 867h2M433 741h2M392 790h2M228 901h2M64 900h2M124 641h2M479 1043h2M94 945h2M254 1004h2M445 917h2M341 979h2M98 1093h2M262 678h2M603 1078h2M159 868h2M365 815h2M501 765h2M599 915h2M524 601h2M229 1078h2M297 838h2M300 871h2M360 993h2M246 805h2M398 595h2M252 767h2M536 801h2M504 1028h2M286 927h2M156 835h2M606 691h2M168 1083h2M80 889h2M553 626h2M567 999h2M137 956h2M496 971h2M232 581h2M199 1105h2M153 997h2M245 667h2M256 1069h2M461 892h2M346 681h2M138 947h2M351 909h2M349 576h2M45 879h2M133 771h2M206 1048h2M328 955h2M329 1115h2M335 810h2M579 976h2M192 947h2M307 611h2M321 589h2M119 602h2M417 599h2M477 600h2M302 602h2M434 600h2M499 602h2M538 604h2M290 600h2M293 600h2M60 602h2M473 599h2M318 601h2M463 597h2M588 599h2M228 657h2M146 657h2M96 657h2M600 654h2M76 659h2M77 658h2M179 654h2M376 657h2M599 661h2M38 655h2M340 656h2M186 658h2M194 659h2M193 658h2M590 658h2M75 664h2M270 652h2M593 656h2M375 659h2M358 661h2M370 656h2M555 662h2M553 661h2M209 658h2M138 658h2M378 660h2M373 657h2M194 657h2M330 655h2M522 659h2M381 663h2M224 655h2M561 653h2M570 663h2M482 659h2M397 659h2M289 658h2M135 706h2M363 703h2M596 702h2M221 700h2M370 700h2M417 704h2M429 706h2M48 708h2M278 702h2M313 751h2M66 755h2M164 760h2M139 752h2M350 754h2M319 753h2M321 752h2M185 753h2M600 754h2M347 753h2M406 754h2M407 756h2M381 753h2M218 753h2M219 752h2M111 757h2M110 753h2M188 752h2M39 753h2M42 754h2M587 753h2M237 751h2M305 803h2M560 802h2M264 804h2M597 805h2M534 804h2M492 803h2M490 798h2M175 802h2M113 801h2M580 803h2M527 821h2M524 819h2M510 821h2M89 819h2M165 821h2M570 821h2M330 818h2M38 819h2M438 821h2M54 819h2M533 820h2M175 820h2M174 816h2M597 818h2M296 819h2M480 819h2M396 821h2M606 819h2M304 820h2M180 817h2M98 818h2M408 820h2M128 819h2M518 819h2M452 821h2M152 820h2M429 819h2M433 821h2M211 819h2M291 821h2M342 822h2M225 821h2M447 818h2M240 817h2M418 822h2M66 819h2M498 819h2M449 822h2M288 819h2M569 820h2M503 821h2M404 819h2M204 819h2M206 820h2M557 823h2M586 821h2M256 821h2M103 819h2M544 820h2M548 819h2M544 822h2M548 820h2M413 819h2M276 820h2M274 819h2M59 819h2M398 856h2M459 854h2M143 853h2M480 855h2M73 853h2M101 854h2M53 856h2M415 859h2M326 854h2M408 857h2M454 856h2M354 854h2M484 854h2M69 856h2M424 856h2M424 854h2M169 856h2M120 855h2M130 856h2M380 855h2M383 853h2M489 856h2M488 858h2M477 856h2M57 853h2M222 853h2M56 856h2M587 856h2M412 853h2M246 853h2M534 855h2M241 856h2M297 856h2M499 855h2M363 855h2M241 854h2M86 856h2M573 856h2M574 856h2M364 856h2M530 855h2M530 857h2M435 854h2M349 941h2M337 934h2M334 934h2M418 937h2M109 932h2M121 935h2M245 938h2M369 934h2M268 932h2M578 937h2M576 935h2M532 938h2M316 1018h2M375 1016h2M274 1017h2M307 1015h2M382 1016h2M597 1018h2M525 1018h2M374 1015h2M330 809h2M154 808h2M369 808h2M469 809h2M600 809h2M345 808h2M157 808h2M98 809h2M555 808h2M544 572h2M136 572h2M210 572h2M121 571h2M90 571h2M100 904h2M601 905h2M408 905h2M62 1075h2M530 1076h2M163 1075h2M578 626h2M279 626h2M206 945h2M539 944h2M274 945h2M203 1086h2M395 1085h2M165 1085h2M602 1085h2M354 1085h2M257 1085h2M69 1084h2M333 1086h2M599 1086h2M275 1085h2M510 632h2M106 631h2M350 632h2M300 608h2M88 608h2M566 957h2M396 956h2M594 955h2M172 956h2M42 956h2M55 956h2M345 742h2M228 741h2M406 742h2M382 740h2M241 742h2M509 853h2M552 853h2M358 852h2M501 853h2M42 853h2M577 853h2M141 591h2M304 593h2M226 592h2M406 592h2M75 1010h2M168 1009h2M580 1010h2M417 1010h2M567 1010h2M171 1010h2M206 1010h2M539 1011h2M277 1009h2M52 642h2M72 642h2M439 642h2M157 643h2M346 642h2M105 845h2M238 846h2M218 847h2M79 846h2M376 847h2M75 846h2M340 911h2M55 910h2M105 910h2M172 910h2M366 910h2M156 911h2M278 910h2M520 951h2M464 952h2M483 952h2M486 951h2M53 918h2M284 918h2M245 919h2M77 918h2M462 918h2M583 919h2M574 673h2M180 675h2M367 674h2M469 674h2M118 674h2M60 673h2M233 1019h2M571 1019h2M73 1019h2M55 1019h2M239 1018h2M533 1019h2M36 1018h2M182 867h2M206 867h2M247 1069h2M561 1069h2M378 1069h2M600 1069h2M467 1069h2M311 1000h2M100 1000h2M336 999h2M220 1000h2M380 808h2M598 808h2M232 808h2M438 808h2M500 809h2M500 982h2M175 983h2M214 983h2M606 984h2M142 743h2M564 743h2M540 884h2M85 882h2M495 883h2M148 884h2M432 883h2M352 884h2M365 883h2M36 625h2M146 584h2M327 584h2M188 584h2M88 585h2M591 584h2" stroke="#d9732a" stroke-width="2" stroke-opacity="0.72" fill="none"/>
<path d="M351 769h2M228 1121h2M461 567h2M78 1136h2M384 807h2M66 628h2M89 665h2M371 704h2M602 1096h2M186 700h2M51 1090h2M499 893h2M591 968h2M125 955h2M187 1055h2M60 1103h2M489 699h2M234 856h2M558 609h2M483 764h2M526 829h2M217 1035h2M501 1021h2M456 999h2M111 862h2M222 815h2M97 1125h2M548 1111h2M239 694h2M563 812h2M527 885h2M176 901h2M571 608h2M446 1021h2M132 590h2M454 677h2M533 734h2M232 1112h2M246 902h2M243 1086h2M113 565h2M585 870h2M504 628h2M58 948h2M562 1118h2M109 814h2M539 916h2M369 945h2M164 1001h2M285 1014h2M453 897h2M292 640h2M511 992h2M553 921h2M295 1012h2M318 825h2M434 955h2M43 920h2M369 837h2M542 1087h2M61 1124h2M235 589h2M295 977h2M514 732h2M91 928h2M137 816h2M566 709h2M430 1049h2M187 806h2M454 1124h2M605 1025h2M306 668h2M321 776h2M559 1063h2M135 1032h2M468 939h2M353 709h2M523 981h2M391 794h2M558 984h2M301 1100h2M343 1041h2M446 566h2M47 689h2M369 608h2M83 745h2M567 1081h2M311 891h2M191 673h2M437 1106h2M316 741h2M144 1006h2M497 878h2M233 567h2M547 932h2M136 902h2M403 1077h2M139 944h2M222 952h2M129 919h2M92 905h2M322 1040h2M465 1079h2M444 781h2M127 1059h2M55 703h2M97 932h2M96 924h2M525 937h2M537 937h2M491 938h2M456 817h2M441 846h2M157 655h2M463 1131h2M302 672h2M45 959h2M410 658h2M461 944h2M234 1052h2M570 833h2M197 1046h2M366 681h2M313 921h2M555 749h2M113 863h2M402 751h2M465 757h2M346 1001h2M306 1032h2M381 936h2M470 973h2M278 959h2M142 913h2M452 908h2M586 919h2M127 624h2M42 694h2M398 848h2M560 814h2M397 642h2M126 702h2M313 886h2M148 763h2M445 916h2M342 1000h2M385 1116h2M245 666h2M329 998h2M417 923h2M512 752h2M384 882h2M532 1101h2M34 763h2M376 818h2M244 1053h2M101 1098h2M353 620h2M330 789h2M205 567h2M394 904h2M426 779h2M128 1064h2M582 1051h2M371 1066h2M62 920h2M370 712h2M192 958h2M498 734h2M124 973h2M84 1076h2M603 1082h2M358 897h2M231 625h2M427 730h2M599 580h2M148 993h2M306 937h2M522 940h2M176 982h2M74 593h2M40 1056h2M198 1115h2M218 625h2M332 848h2M308 659h2M306 797h2M106 589h2M538 750h2M539 815h2M276 580h2M578 1108h2M529 978h2M466 808h2M281 895h2M521 577h2M205 1058h2M40 572h2M359 1054h2M531 939h2M60 665h2M419 985h2M260 943h2M561 668h2M36 835h2M347 826h2M550 805h2M323 839h2M528 1040h2M152 757h2M346 598h2M493 739h2M605 796h2M309 956h2M168 718h2M175 1106h2M47 633h2M331 679h2M239 1083h2M367 867h2M332 799h2M237 758h2M421 827h2M605 1058h2M77 1091h2M69 1127h2M198 799h2M325 629h2M302 931h2M475 817h2M160 1009h2M550 926h2M325 916h2M246 1008h2M225 736h2M240 968h2M175 914h2M487 984h2M391 867h2M471 916h2M601 600h2M231 1032h2M305 670h2M411 575h2M149 1077h2M62 663h2M254 1028h2M474 737h2M210 742h2M90 1073h2M135 947h2M384 959h2M491 960h2M355 659h2M522 927h2M406 602h2M478 602h2M127 599h2M450 600h2M443 599h2M58 601h2M470 659h2M455 659h2M119 660h2M76 658h2M90 653h2M180 656h2M567 656h2M105 659h2M99 654h2M497 657h2M462 659h2M435 658h2M337 655h2M96 661h2M596 660h2M41 661h2M269 652h2M303 658h2M294 662h2M371 654h2M276 657h2M480 655h2M254 656h2M482 658h2M233 660h2M365 702h2M136 701h2M592 711h2M214 702h2M313 700h2M558 753h2M529 753h2M306 752h2M306 754h2M540 754h2M584 755h2M546 804h2M532 801h2M178 805h2M432 803h2M440 807h2M578 803h2M136 820h2M434 822h2M183 821h2M188 820h2M222 824h2M408 822h2M405 818h2M443 818h2M397 821h2M199 820h2M303 821h2M219 823h2M261 819h2M262 820h2M556 823h2M56 822h2M40 821h2M399 822h2M572 820h2M591 821h2M401 857h2M54 852h2M541 854h2M509 856h2M221 857h2M62 853h2M326 856h2M486 856h2M217 855h2M483 854h2M475 854h2M213 856h2M240 855h2M52 855h2M279 854h2M131 856h2M384 852h2M394 855h2M510 857h2M555 857h2M592 855h2M587 854h2M587 854h2M379 857h2M173 855h2M78 853h2M77 859h2M499 852h2M470 854h2M212 858h2M171 851h2M307 855h2M329 930h2M154 937h2M151 936h2M372 937h2M146 936h2M323 937h2M319 937h2M567 1018h2M327 1020h2M358 1019h2M394 809h2M58 809h2M597 572h2M242 572h2M229 571h2M606 572h2M108 571h2M271 904h2M594 626h2M194 945h2M536 945h2M65 1085h2M384 1086h2M294 632h2M155 608h2M439 608h2M168 956h2M595 742h2M353 742h2M525 853h2M162 853h2M302 852h2M138 1009h2M42 1009h2M588 1010h2M544 1010h2M569 643h2M139 642h2M149 846h2M40 909h2M294 910h2M226 910h2M537 910h2M41 911h2M565 952h2M527 952h2M399 952h2M569 952h2M257 919h2M335 919h2M545 918h2M444 919h2M358 673h2M402 675h2M342 674h2M318 674h2M139 1019h2M603 1018h2M575 1018h2M599 1019h2M219 1019h2M350 1019h2M398 867h2M442 868h2M153 1070h2M123 1069h2M596 998h2M131 1000h2M437 808h2M126 808h2M278 808h2M374 809h2M599 808h2M252 810h2M343 809h2M571 743h2M92 743h2M434 744h2M297 743h2M139 883h2M86 883h2M198 883h2M601 882h2M428 625h2M435 626h2M347 626h2M217 625h2M306 585h2M309 584h2" stroke="#fdd54d" stroke-width="2" stroke-opacity="0.72" fill="none"/>
<path d="M76.6 551.5V564M114.2 551.5V564M155.7 551.5V564M195.5 551.5V564M232.4 551.5V564M272.1 551.5V564M308.6 551.5V564M344.2 551.5V564M377.7 551.5V564M411.2 551.5V564M443.6 551.5V564M475.4 551.5V564M501.7 551.5V564M525.9 551.5V564M546.6 551.5V564M569.3 551.5V564M590.8 551.5V564M610.8 584.5H624.1M610.8 605.9H624.1M610.8 626.3H624.1M610.8 647.2H624.1M610.8 672.2H624.1M610.8 699.5H624.1M610.8 727.8H624.1M610.8 761.3H624.1M610.8 795.8H624.1M610.8 828.1H624.1M610.8 863.2H624.1M610.8 899.3H624.1M610.8 938.4H624.1M610.8 976.9H624.1M610.8 1017.4H624.1M610.8 1059.8H624.1M610.8 1097.9H624.1" stroke="#333" stroke-width="1.5" fill="none"/>
<path d="M90.06 1141.4V1149.4M147.92 1141.4V1149.4M205.78 1141.4V1149.4M263.64 1141.4V1149.4M321.5 1141.4V1149.4M379.36 1141.4V1149.4M437.22 1141.4V1149.4M495.08 1141.4V1149.4M552.94 1141.4V1149.4M24.2 1083.66H32.2M24.2 1025.92H32.2M24.2 968.18H32.2M24.2 910.44H32.2M24.2 852.7H32.2M24.2 794.96H32.2M24.2 737.22H32.2M24.2 679.48H32.2M24.2 621.74H32.2" stroke="#555" stroke-width="1.8" fill="none"/>
<text x="48.27" y="559.2" font-size="11.01" fill="#222" textLength="11.59" lengthAdjust="spacingAndGlyphs">1A</text>
<text x="89.38" y="559.2" font-size="11.01" fill="#222" textLength="11.59" lengthAdjust="spacingAndGlyphs">2A</text>
<text x="128.99" y="559.2" font-size="11.01" fill="#222" textLength="11.59" lengthAdjust="spacingAndGlyphs">3A</text>
<text x="169.72" y="559.2" font-size="11.01" fill="#222" textLength="11.59" lengthAdjust="spacingAndGlyphs">4A</text>
<text x="207.98" y="559.2" font-size="11.01" fill="#222" textLength="11.59" lengthAdjust="spacingAndGlyphs">5A</text>
<text x="246.23" y="559.2" font-size="11.01" fill="#222" textLength="11.59" lengthAdjust="spacingAndGlyphs">6A</text>
<text x="284.33" y="559.2" font-size="11.01" fill="#222" textLength="11.59" lengthAdjust="spacingAndGlyphs">7A</text>
<text x="320.42" y="559.2" font-size="11.01" fill="#222" textLength="11.59" lengthAdjust="spacingAndGlyphs">8A</text>
<text x="354.96" y="559.2" font-size="11.01" fill="#222" textLength="11.59" lengthAdjust="spacingAndGlyphs">9A</text>
<text x="385.68" y="559.2" font-size="11.01" fill="#222" textLength="16.85" lengthAdjust="spacingAndGlyphs">10A</text>
<text x="418.98" y="559.2" font-size="11.01" fill="#222" textLength="16.15" lengthAdjust="spacingAndGlyphs">11A</text>
<text x="450.73" y="559.2" font-size="11.01" fill="#222" textLength="16.85" lengthAdjust="spacingAndGlyphs">12A</text>
<text x="479.78" y="559.2" font-size="11.01" fill="#222" textLength="16.85" lengthAdjust="spacingAndGlyphs">13A</text>
<text x="505.03" y="559.2" font-size="11.01" fill="#222" textLength="16.85" lengthAdjust="spacingAndGlyphs">14A</text>
<text x="527.48" y="559.2" font-size="11.01" fill="#222" textLength="16.85" lengthAdjust="spacingAndGlyphs">15A</text>
<text x="549.18" y="559.2" font-size="11.01" fill="#222" textLength="16.85" lengthAdjust="spacingAndGlyphs">16A</text>
<text x="571.28" y="559.2" font-size="11.01" fill="#222" textLength="16.85" lengthAdjust="spacingAndGlyphs">17A</text>
<text x="592.03" y="559.2" font-size="11.01" fill="#222" textLength="16.85" lengthAdjust="spacingAndGlyphs">18A</text>
<text transform="translate(616.3 1119.65) rotate(90)" x="-5.9" y="0" font-size="11.01" fill="#222" textLength="11.59" lengthAdjust="spacingAndGlyphs">1B</text>
<text transform="translate(616.3 1078.85) rotate(90)" x="-5.78" y="0" font-size="11.01" fill="#222" textLength="11.59" lengthAdjust="spacingAndGlyphs">2B</text>
<text transform="translate(616.3 1038.6) rotate(90)" x="-5.72" y="0" font-size="11.01" fill="#222" textLength="11.59" lengthAdjust="spacingAndGlyphs">3B</text>
<text transform="translate(616.3 997.15) rotate(90)" x="-5.65" y="0" font-size="11.01" fill="#222" textLength="11.59" lengthAdjust="spacingAndGlyphs">4B</text>
<text transform="translate(616.3 957.65) rotate(90)" x="-5.73" y="0" font-size="11.01" fill="#222" textLength="11.59" lengthAdjust="spacingAndGlyphs">5B</text>
<text transform="translate(616.3 918.85) rotate(90)" x="-5.78" y="0" font-size="11.01" fill="#222" textLength="11.59" lengthAdjust="spacingAndGlyphs">6B</text>
<text transform="translate(616.3 881.25) rotate(90)" x="-5.78" y="0" font-size="11.01" fill="#222" textLength="11.59" lengthAdjust="spacingAndGlyphs">7B</text>
<text transform="translate(616.3 845.65) rotate(90)" x="-5.74" y="0" font-size="11.01" fill="#222" textLength="11.59" lengthAdjust="spacingAndGlyphs">8B</text>
<text transform="translate(616.3 811.95) rotate(90)" x="-5.75" y="0" font-size="11.01" fill="#222" textLength="11.59" lengthAdjust="spacingAndGlyphs">9B</text>
<text transform="translate(616.3 778.55) rotate(90)" x="-8.54" y="0" font-size="11.01" fill="#222" textLength="16.85" lengthAdjust="spacingAndGlyphs">10B</text>
<text transform="translate(616.3 744.55) rotate(90)" x="-8.18" y="0" font-size="11.01" fill="#222" textLength="16.15" lengthAdjust="spacingAndGlyphs">11B</text>
<text transform="translate(616.3 713.65) rotate(90)" x="-8.54" y="0" font-size="11.01" fill="#222" textLength="16.85" lengthAdjust="spacingAndGlyphs">12B</text>
<text transform="translate(616.3 685.85) rotate(90)" x="-8.54" y="0" font-size="11.01" fill="#222" textLength="16.85" lengthAdjust="spacingAndGlyphs">13B</text>
<text transform="translate(616.3 659.7) rotate(90)" x="-8.54" y="0" font-size="11.01" fill="#222" textLength="16.85" lengthAdjust="spacingAndGlyphs">14B</text>
<text transform="translate(616.3 636.75) rotate(90)" x="-8.54" y="0" font-size="11.01" fill="#222" textLength="16.85" lengthAdjust="spacingAndGlyphs">15B</text>
<text transform="translate(616.3 616.1) rotate(90)" x="-8.54" y="0" font-size="11.01" fill="#222" textLength="16.85" lengthAdjust="spacingAndGlyphs">16B</text>
<text transform="translate(616.3 595.2) rotate(90)" x="-8.54" y="0" font-size="11.01" fill="#222" textLength="16.85" lengthAdjust="spacingAndGlyphs">17B</text>
<text transform="translate(616.3 574.25) rotate(90)" x="-8.54" y="0" font-size="11.01" fill="#222" textLength="16.85" lengthAdjust="spacingAndGlyphs">18B</text>
<text x="68.25" y="1166.7" font-size="15.36" fill="#111" textLength="43.68" lengthAdjust="spacingAndGlyphs">12.4 M</text>
<text x="126.29" y="1166.7" font-size="15.36" fill="#111" textLength="43.68" lengthAdjust="spacingAndGlyphs">24.8 M</text>
<text x="184.24" y="1166.7" font-size="15.36" fill="#111" textLength="43.68" lengthAdjust="spacingAndGlyphs">37.2 M</text>
<text x="242.21" y="1166.7" font-size="15.36" fill="#111" textLength="43.68" lengthAdjust="spacingAndGlyphs">49.6 M</text>
<text x="305.84" y="1166.7" font-size="15.36" fill="#111" textLength="31.76" lengthAdjust="spacingAndGlyphs">62 M</text>
<text x="357.73" y="1166.7" font-size="15.36" fill="#111" textLength="43.68" lengthAdjust="spacingAndGlyphs">74.3 M</text>
<text x="415.65" y="1166.7" font-size="15.36" fill="#111" textLength="43.68" lengthAdjust="spacingAndGlyphs">86.7 M</text>
<text x="473.49" y="1166.7" font-size="15.36" fill="#111" textLength="43.68" lengthAdjust="spacingAndGlyphs">99.1 M</text>
<text x="528.22" y="1166.7" font-size="15.36" fill="#111" textLength="49.5" lengthAdjust="spacingAndGlyphs">111.5 M</text>
<text transform="translate(20.4 1084.36) rotate(-90)" x="-22.05" y="0" font-size="16.23" fill="#111" textLength="44.17" lengthAdjust="spacingAndGlyphs">12.2 M</text>
<text transform="translate(20.4 1026.62) rotate(-90)" x="-21.87" y="0" font-size="16.23" fill="#111" textLength="44.17" lengthAdjust="spacingAndGlyphs">24.3 M</text>
<text transform="translate(20.4 968.88) rotate(-90)" x="-21.78" y="0" font-size="16.23" fill="#111" textLength="44.17" lengthAdjust="spacingAndGlyphs">36.5 M</text>
<text transform="translate(20.4 911.14) rotate(-90)" x="-21.67" y="0" font-size="16.23" fill="#111" textLength="44.17" lengthAdjust="spacingAndGlyphs">48.6 M</text>
<text transform="translate(20.4 853.4) rotate(-90)" x="-21.87" y="0" font-size="16.23" fill="#111" textLength="44.17" lengthAdjust="spacingAndGlyphs">60.8 M</text>
<text transform="translate(20.4 795.66) rotate(-90)" x="-21.87" y="0" font-size="16.23" fill="#111" textLength="44.17" lengthAdjust="spacingAndGlyphs">72.9 M</text>
<text transform="translate(20.4 737.92) rotate(-90)" x="-21.81" y="0" font-size="16.23" fill="#111" textLength="44.17" lengthAdjust="spacingAndGlyphs">85.1 M</text>
<text transform="translate(20.4 680.18) rotate(-90)" x="-21.83" y="0" font-size="16.23" fill="#111" textLength="44.17" lengthAdjust="spacingAndGlyphs">97.3 M</text>
<text transform="translate(20.4 622.44) rotate(-90)" x="-26.06" y="0" font-size="16.23" fill="#111" textLength="52.2" lengthAdjust="spacingAndGlyphs">109.4 M</text>
<text x="298.58" y="543.8" font-size="15.8" font-style="italic" fill="#111" textLength="46.17" lengthAdjust="spacingAndGlyphs">Pt76_A</text>
<text transform="translate(630.9 852.7) rotate(90)" x="-22.26" y="0" font-size="15.8" font-style="italic" fill="#111" textLength="44.57" lengthAdjust="spacingAndGlyphs">Pt76_B</text>
<path d="M791.3 531.7 L1369.2 531.7 L1401.5 564 L1401.5 1140.8 L1369.2 1173.1 L791.3 1173.1 L759 1140.8 L759 564 Z" fill="#f3f3f3"/>
<rect x="791.3" y="564" width="577.9" height="576.8" fill="#fff"/>
<path d="M834.6 564V1140.8M872.4 564V1140.8M914.6 564V1140.8M955.1 564V1140.8M993 564V1140.8M1031.7 564V1140.8M1068.3 564V1140.8M1103.1 564V1140.8M1135.5 564V1140.8M1171.1 564V1140.8M1204.1 564V1140.8M1232.4 564V1140.8M1258.8 564V1140.8M1284.3 564V1140.8M1305.1 564V1140.8M1327.4 564V1140.8M1349.1 564V1140.8M791.3 583.9H1369.2M791.3 605.8H1369.2M791.3 629.1H1369.2M791.3 650.3H1369.2M791.3 675.7H1369.2M791.3 702.5H1369.2M791.3 730.7H1369.2M791.3 762.4H1369.2M791.3 796H1369.2M791.3 829.8H1369.2M791.3 864.4H1369.2M791.3 900.4H1369.2M791.3 945.5H1369.2M791.3 982.8H1369.2M791.3 1022.2H1369.2M791.3 1064.5H1369.2M791.3 1098H1369.2" stroke="#8c8c8c" stroke-width="1.1" stroke-dasharray="3 2.9" fill="none"/>
<path d="M1092 1016h2M1194 990h2M1017 1055h2M1208 1092h2M1038 926h2M1049 712h2M1153 959h2M1114 912h2M975 1116h2M1275 1131h2M1349 790h2M1119 870h2M1213 1086h2M804 768h2M1053 1132h2M1318 681h2M1152 987h2M910 1064h2M1171 842h2M914 629h2M1029 635h2M1076 877h2M993 652h2M1250 670h2M948 977h2M1174 743h2M1187 744h2M974 721h2M1136 1007h2M1272 786h2M1335 928h2M1302 766h2M1301 630h2M1001 1063h2M1011 879h2M1167 1004h2M951 686h2M1290 1074h2M919 788h2M1107 646h2M842 566h2M1221 589h2M1247 720h2M946 1045h2M814 761h2M1076 1070h2M1302 801h2M1144 792h2M1360 776h2M894 868h2M1009 738h2M1226 1134h2M1250 757h2M1334 857h2M1128 576h2M846 1107h2M1143 1000h2M1030 708h2M866 920h2M1341 680h2M932 776h2M1121 1095h2M1080 1136h2M1322 926h2M1043 683h2M1168 805h2M1121 760h2M910 1099h2M978 624h2M1044 786h2M1125 907h2M1331 888h2M1350 922h2M1181 945h2M1158 683h2M1009 809h2M845 874h2M1128 1096h2M1106 778h2M1048 947h2M859 960h2M1231 941h2M1058 839h2M1024 605h2M1133 1046h2M1330 701h2M955 1070h2M940 918h2M1046 804h2M995 650h2M1210 805h2M1243 678h2M1060 1021h2M1074 585h2M1206 636h2M1179 627h2M1278 1097h2M998 1116h2M1054 627h2M1120 1086h2M980 787h2M846 926h2M822 656h2M1290 745h2M977 802h2M1323 1068h2M856 761h2M968 611h2M1276 933h2M804 1128h2M1010 859h2M1304 594h2M1124 928h2M1154 944h2M871 812h2M1356 1042h2M917 779h2M1264 933h2M990 853h2M1306 1121h2M1015 906h2M957 742h2M1299 840h2M858 639h2M1082 1076h2M1354 953h2M1226 1047h2M1282 854h2M1181 1009h2M803 1121h2M850 876h2M1206 940h2M1210 773h2M1001 916h2M1310 798h2M1301 727h2M956 995h2M832 981h2M1087 761h2M813 849h2M1037 898h2M1334 656h2M1287 806h2M1298 1095h2M881 863h2M1161 1067h2M943 957h2M808 840h2M1202 756h2M1278 989h2M856 797h2M1066 938h2M798 1012h2M1183 651h2M1065 692h2M1203 765h2M1356 890h2M1150 1043h2M1056 636h2M1320 624h2M1358 667h2M1225 790h2M899 1039h2M931 696h2M1171 799h2M819 859h2M1064 1087h2M1185 1045h2M832 1029h2M804 879h2M1158 781h2M865 1134h2M1094 1098h2M952 970h2M908 779h2M895 618h2M862 659h2M1276 729h2M1293 736h2M979 908h2M1252 892h2M916 607h2M1222 654h2M950 730h2M985 942h2M863 1032h2M849 1100h2M1228 1091h2M1366 1071h2M842 723h2M1028 782h2M1358 722h2M872 606h2M999 622h2M854 1047h2M877 815h2M880 647h2M1273 965h2M1044 677h2M1229 1124h2M822 1005h2M935 1057h2M1339 966h2M911 1102h2M1079 737h2M1006 729h2M840 962h2M949 874h2M1107 929h2M842 780h2M1128 1046h2M802 884h2M1304 710h2M914 994h2M1128 652h2M884 964h2M870 630h2M1180 687h2M807 1031h2M810 777h2M1157 817h2M1243 778h2M826 1015h2M1130 842h2M821 710h2M1061 689h2M848 742h2M1075 773h2M1272 977h2M1123 868h2M1159 781h2M952 1044h2M1105 1076h2M831 1064h2M947 781h2M1301 570h2M1178 911h2M1215 879h2M947 931h2M891 625h2M1005 1109h2M869 581h2M1309 675h2M1209 573h2M1317 1010h2M810 904h2M930 1124h2M935 852h2M1092 594h2M949 1131h2M932 1032h2M976 831h2M961 786h2M950 598h2M1000 585h2M883 781h2M1158 916h2M1140 1115h2M1240 906h2M1073 1107h2M940 636h2M1011 1027h2M1154 1028h2M949 1100h2M1260 797h2M816 569h2M811 802h2M1225 790h2M922 1095h2M877 926h2M1010 934h2M1212 702h2M1315 639h2M1040 598h2M807 917h2M1144 962h2M997 996h2M951 566h2M909 936h2M1249 1057h2M1191 1007h2M1025 1032h2M1321 843h2M1239 703h2M959 808h2M841 857h2M1305 958h2M1132 672h2M1175 664h2M835 845h2M1147 600h2M1342 1066h2M1053 692h2M1051 587h2M930 1026h2M949 708h2M857 651h2M995 787h2M1148 1131h2M1198 957h2M1142 863h2M892 919h2M1152 829h2M1277 899h2M850 865h2M918 1023h2M1288 730h2M829 687h2M909 653h2M1017 789h2M1189 1052h2M828 1082h2M1058 741h2M1130 1029h2M892 661h2M903 1017h2M922 702h2M1362 594h2M908 684h2M1313 743h2M1315 810h2M1338 783h2M860 988h2M995 572h2M1110 705h2M955 955h2M953 884h2M957 1083h2M1128 1051h2M1278 622h2M815 864h2M795 638h2M1102 959h2M982 996h2M1205 593h2M1180 823h2M1056 622h2M919 696h2M955 683h2M1053 904h2M1269 571h2M1338 1132h2M1274 1111h2M829 660h2M1053 691h2M1138 872h2M1103 718h2M1140 946h2M1175 727h2M935 878h2M874 937h2M1268 984h2M886 1003h2M1084 1017h2M865 702h2M1015 848h2M890 1084h2M914 855h2M841 695h2M1200 952h2M1307 1122h2M1084 1007h2M954 973h2M1122 591h2M1219 845h2M1193 633h2M1338 986h2M828 1040h2M1342 596h2M1359 1133h2M1011 970h2M1054 808h2M1046 1113h2M1151 866h2M970 814h2M1357 621h2M1194 583h2M966 590h2M794 574h2M902 827h2M958 637h2M1017 704h2M1146 721h2M793 729h2M1022 684h2M1195 683h2M893 671h2M796 615h2M1166 1085h2M1200 921h2M1235 728h2M809 974h2M1274 920h2M930 810h2M1047 636h2M1006 692h2M1043 1101h2M1031 740h2M1246 873h2M1303 921h2M1012 627h2M1060 1007h2M1330 1045h2M904 602h2M1176 696h2M995 877h2M1034 1045h2M1349 914h2M1200 814h2M847 898h2M916 861h2M838 720h2M1295 846h2M1281 1129h2M1334 1042h2M1232 1122h2M880 794h2M1100 842h2M978 950h2M828 668h2M1177 1115h2M1076 917h2M1052 1012h2M1243 718h2M827 865h2M1034 966h2M1196 814h2M1060 1059h2M1058 800h2M1242 1037h2M926 1118h2M1192 1088h2M1334 859h2M824 1095h2M1114 798h2M1253 633h2M949 787h2M1245 1065h2M1142 701h2M945 933h2M1279 1132h2M1329 868h2M989 837h2M840 735h2M1126 663h2M1084 1043h2M814 656h2M1352 690h2M1214 923h2M807 946h2M1350 799h2M1233 694h2M802 742h2M811 620h2M922 771h2M1311 581h2M1359 998h2M919 724h2M815 752h2M1293 927h2M882 631h2M917 847h2M878 1007h2M810 988h2M1228 822h2M1181 935h2M1043 664h2M1050 686h2M1330 813h2M1324 1022h2M888 631h2M1068 848h2M1139 848h2M1045 565h2M1020 1013h2M1006 1081h2M1214 737h2M1170 1109h2M971 765h2M1050 924h2M1018 994h2M806 908h2M820 1114h2M848 772h2M1255 733h2M808 605h2M803 982h2M1054 759h2M1361 1124h2M1190 1103h2M857 1115h2M861 853h2M1018 919h2M875 1121h2M800 1026h2M1220 586h2M973 1022h2M1297 864h2M1091 586h2M1211 1080h2M985 773h2M1299 700h2M1202 934h2M1153 906h2M887 673h2M1350 650h2M1007 1027h2M1050 1012h2M1323 990h2M1335 891h2M1324 626h2M1347 783h2M1134 577h2M1072 1130h2M1280 972h2M1185 981h2M1279 1015h2M1038 747h2M1096 848h2M1299 983h2M999 1002h2M846 565h2M1273 1128h2M1231 867h2M857 967h2M803 591h2M1354 1014h2M1317 942h2M1231 1107h2M1316 615h2M1237 905h2M1086 930h2M1179 910h2M1176 777h2M1153 596h2M827 724h2M927 942h2M906 592h2M1080 770h2M1024 620h2M1213 872h2M909 1071h2M933 710h2M1149 939h2M1357 987h2M1157 703h2M837 1079h2M1364 1015h2M889 941h2M993 1119h2M1220 656h2M955 856h2M1112 665h2M1033 870h2M1209 798h2M1171 1042h2M1268 677h2M1330 1005h2M1021 855h2M1067 576h2M813 610h2M1002 680h2M912 638h2M1228 716h2M1177 895h2M1132 819h2M1105 636h2M1363 591h2M1019 619h2M1213 922h2M1209 799h2M1321 728h2M1125 1113h2M1099 746h2M949 644h2M1006 859h2M1294 760h2M1312 871h2M1339 581h2M837 889h2M1063 703h2M931 794h2M1327 583h2M1341 1029h2M1021 1075h2M798 907h2M1066 705h2M1113 1093h2M836 745h2M1347 892h2M1261 877h2M1310 843h2M957 1114h2M1337 694h2M1256 1087h2M1186 785h2M1165 619h2M941 742h2M882 1121h2M1295 987h2M1145 829h2M1349 658h2M1068 933h2M1095 974h2M1160 631h2M1263 666h2M1269 1068h2M1103 943h2M1080 641h2M1091 871h2M1114 572h2M1112 729h2M802 878h2M967 943h2M1345 576h2M852 876h2M1334 1104h2M1344 814h2M1079 1102h2M816 968h2M1232 904h2M1074 801h2M834 615h2M993 640h2M812 606h2M1161 985h2M987 1002h2M930 625h2M849 864h2M1349 980h2M1292 819h2M795 874h2M1285 1058h2M1314 815h2M900 754h2M799 909h2M1363 1109h2M1005 966h2M1272 760h2M794 1005h2M1040 1078h2M825 576h2M1360 972h2M1087 998h2M802 739h2M1088 988h2M934 959h2M1027 800h2M1137 772h2M1268 615h2M927 1069h2M920 1117h2M898 744h2M1345 724h2M1286 955h2M1261 1022h2M992 877h2M1088 1074h2M926 933h2M1140 678h2M1249 624h2M877 658h2M805 1054h2M1303 1059h2M1317 590h2M1226 953h2M1353 936h2M1041 908h2M1187 821h2M867 712h2M989 836h2M951 665h2M988 831h2M1299 904h2M960 771h2M1317 1077h2M1326 1116h2M1188 1008h2M1257 890h2M794 890h2M815 1034h2M805 764h2M1197 566h2M1120 701h2M1331 590h2M1321 582h2M1286 787h2M1285 976h2M1091 932h2M809 909h2M1361 965h2M1098 1072h2M1255 1082h2M1334 661h2M892 576h2M895 953h2M989 1079h2M1034 848h2M1023 923h2M886 828h2M947 923h2M1144 990h2M954 617h2M882 990h2M962 901h2M881 867h2M1363 775h2M1158 931h2M1326 608h2M1252 1108h2M1141 674h2M1267 689h2M973 873h2M1209 1121h2M826 733h2M910 881h2M1274 1082h2M919 690h2M1213 801h2M1134 662h2M995 728h2M1340 1113h2M846 1033h2M841 742h2M1016 720h2M974 929h2M1046 730h2M1137 951h2M886 950h2M901 804h2M1149 822h2M819 903h2M1349 884h2M1079 944h2M1276 907h2M1083 941h2M1132 1110h2M855 846h2M950 708h2M932 1108h2M866 1016h2M1008 1063h2M800 704h2M1200 897h2M1237 703h2M1087 911h2M870 892h2M1300 658h2M1274 1106h2M1145 1107h2M1269 669h2M954 787h2M875 901h2M1151 895h2M1213 858h2M943 1124h2M1117 891h2M934 1029h2M880 844h2M1265 1050h2M1035 621h2M815 768h2M1289 850h2M880 1057h2M1196 661h2M1154 1133h2M1331 1100h2M1143 1093h2M1282 831h2M838 978h2M983 579h2M1046 897h2M1243 742h2M1068 1087h2M1168 868h2M1298 1008h2M1184 865h2M1140 957h2M916 914h2M954 1136h2M1321 1088h2M1351 1099h2M829 653h2M1160 592h2M1120 1044h2M1323 1007h2M1117 922h2M948 615h2M834 972h2M1193 743h2M1292 612h2M1085 637h2M1228 719h2M1093 969h2M850 763h2M956 1091h2M924 756h2M1112 1022h2M1263 822h2M1277 710h2M867 644h2M851 693h2M1217 1022h2M1024 797h2M993 973h2M1330 1046h2M925 755h2M1000 712h2M1189 763h2M1168 1132h2M1300 695h2M970 592h2M887 664h2M943 947h2M1146 881h2M1342 1068h2M852 641h2M1033 1067h2M1019 960h2M849 975h2M1098 1086h2M1149 617h2M810 801h2M1012 1028h2M795 677h2M1269 640h2M1163 1071h2M856 1050h2M1191 788h2M869 1064h2M1290 843h2M922 761h2M945 771h2M1128 797h2M1030 1134h2M810 1113h2M890 701h2M1267 620h2M883 790h2M1294 990h2M1287 659h2M1130 899h2M1174 878h2M839 801h2M857 663h2M1095 691h2M1327 815h2M1130 1138h2M1209 1011h2M822 637h2M800 570h2M1291 683h2M889 1081h2M1324 1074h2M1167 960h2M1122 685h2M1309 1091h2M1179 926h2M997 656h2M1228 780h2M937 710h2M1303 1062h2M983 607h2M1260 607h2M1294 610h2M1332 603h2M841 609h2M1121 605h2M814 611h2M1204 608h2M854 611h2M928 606h2M1092 607h2M1087 606h2M1197 608h2M865 605h2M1249 607h2M1322 606h2M828 609h2M1117 607h2M1080 659h2M1021 659h2M1244 663h2M1244 660h2M846 665h2M1213 659h2M1097 660h2M840 658h2M1079 659h2M1239 662h2M965 662h2M1041 661h2M1254 658h2M1253 657h2M1069 658h2M865 660h2M864 661h2M852 658h2M955 658h2M953 660h2M1192 658h2M1195 662h2M1193 659h2M1005 656h2M1115 659h2M1084 663h2M1291 656h2M1318 661h2M1199 659h2M840 663h2M950 661h2M1325 660h2M1322 659h2M1324 661h2M909 657h2M1130 657h2M1051 663h2M800 660h2M1319 660h2M1343 659h2M1184 658h2M1033 659h2M1271 660h2M969 662h2M971 661h2M1342 662h2M1063 662h2M1260 657h2M1182 658h2M1185 659h2M1006 659h2M1029 658h2M920 704h2M1347 704h2M1186 702h2M1199 704h2M868 707h2M844 704h2M976 706h2M1351 706h2M822 700h2M823 698h2M1313 698h2M1258 760h2M1320 760h2M1125 760h2M959 758h2M1310 760h2M858 762h2M1196 820h2M1091 818h2M1076 821h2M1253 819h2M1255 821h2M1330 820h2M1341 821h2M1257 821h2M959 820h2M1304 822h2M1305 819h2M1057 819h2M1033 820h2M1249 820h2M950 821h2M1339 820h2M843 819h2M1003 821h2M1163 819h2M1210 819h2M1311 822h2M827 820h2M1321 818h2M1322 818h2M1241 817h2M954 822h2M874 819h2M1083 819h2M1079 821h2M1075 819h2M1257 820h2M1030 819h2M1163 819h2M1020 821h2M1342 820h2M890 818h2M1293 824h2M1147 820h2M804 820h2M794 822h2M1275 821h2M1192 821h2M1288 820h2M1289 821h2M1262 820h2M828 819h2M797 818h2M795 820h2M1351 823h2M930 819h2M845 819h2M928 821h2M1057 821h2M1090 822h2M948 821h2M1231 821h2M1139 823h2M1289 818h2M1288 816h2M1280 821h2M1283 819h2M852 921h2M1194 920h2M1197 921h2M1334 920h2M1184 921h2M1207 922h2M1146 920h2M1147 921h2M872 921h2M871 921h2M1077 947h2M1317 947h2M1093 947h2M1143 945h2M988 946h2M1008 946h2M1089 945h2M1182 948h2M1265 943h2M1364 945h2M1007 947h2M1008 946h2M1322 941h2M1282 946h2M919 948h2M1044 946h2M1096 945h2M944 944h2M944 946h2M916 1065h2M1119 1063h2M1163 1062h2M1194 1068h2M1133 1062h2M1299 1068h2M891 1066h2M1008 1064h2M930 1064h2M939 1069h2M1301 1065h2M803 1091h2M900 1093h2M875 1092h2M950 1088h2M1318 1091h2M1288 1092h2M1172 1089h2M1320 1092h2M1068 1093h2M1123 1089h2M1345 1091h2M1142 1092h2M950 1089h2M1221 1090h2M1111 1093h2M943 1091h2M991 1088h2M990 1089h2M1026 1091h2M797 1092h2M1272 1092h2M893 1087h2M1360 613h2M958 614h2M1135 614h2M907 614h2M1102 613h2M1120 811h2M1105 812h2M1175 812h2M1327 811h2M937 811h2M833 811h2M1016 811h2M1252 811h2M1249 812h2M1124 1053h2M1219 1054h2M831 1054h2M986 1053h2M1049 1053h2M1166 1053h2M816 1054h2M1068 1053h2M1289 1054h2M918 1053h2M850 1052h2M953 1053h2M1019 1053h2M879 1053h2M962 1020h2M892 1020h2M1323 1021h2M1063 1021h2M1009 1020h2M1193 1022h2M1082 1020h2M897 1020h2M1260 1020h2M1302 1020h2M930 1020h2M1141 1021h2M1063 1021h2M1015 1021h2M815 619h2M1346 619h2M1145 619h2M1344 620h2M1142 619h2M1139 619h2M864 619h2M985 619h2M1258 619h2M1127 620h2M1236 784h2M810 784h2M943 783h2M1229 785h2M1332 784h2M1265 784h2M921 784h2M1323 784h2M1107 784h2M1146 783h2M969 784h2M1364 784h2M1129 784h2M1025 784h2M1276 1036h2M1267 1035h2M1137 1035h2M1050 1034h2M1267 1034h2M896 1034h2M1291 1035h2M1132 1034h2M923 1035h2M1169 1034h2M1289 1035h2M1302 1035h2M815 1035h2M807 1035h2M925 1035h2M1187 1034h2M1116 1034h2M919 1034h2M890 697h2M1071 698h2M1250 697h2M1047 697h2M852 697h2M1010 697h2M1184 697h2M878 697h2M1348 697h2M847 697h2M992 697h2M1232 697h2M822 696h2M1275 697h2M1073 697h2M1022 1029h2M880 1028h2M863 1029h2M1143 1029h2M850 1029h2M1104 1029h2M936 1028h2M812 1029h2M923 1029h2M1270 1029h2M881 1028h2M978 774h2M1238 774h2M1013 774h2M1180 773h2M1089 773h2M1097 775h2M849 774h2M1038 774h2M1136 774h2M1305 773h2M1280 1045h2M954 1045h2M1050 1046h2M1144 1045h2M896 1046h2M1220 1045h2M1201 1046h2M1046 1045h2M1066 996h2M1009 995h2M821 996h2M1210 840h2M918 839h2M922 842h2M800 840h2M1059 841h2M882 840h2M1038 840h2M1355 987h2M813 987h2M1362 988h2M1205 987h2M976 988h2M1175 988h2M1084 988h2M1003 988h2M1271 987h2M1229 987h2M1321 988h2M1288 987h2M1015 987h2M1323 988h2M1051 988h2M1047 988h2M1129 981h2M915 980h2M1254 980h2M1237 980h2M1134 979h2M1177 980h2M793 980h2M963 980h2M895 574h2M1292 574h2M1332 574h2M1191 573h2M1345 573h2M1337 573h2M870 573h2M1112 574h2M845 573h2M1298 573h2M1174 574h2M870 574h2M1071 574h2M1071 919h2M1301 920h2M1185 919h2M1009 918h2M1167 920h2M1128 918h2M1330 919h2M1260 919h2M850 920h2M932 919h2M1331 723h2M1124 724h2M1289 724h2M939 724h2M1278 725h2M1255 723h2M851 724h2M1247 723h2M1152 911h2M793 912h2M1072 911h2M947 911h2M1187 911h2M1055 911h2M966 911h2M1215 911h2M1290 911h2M879 911h2M1125 928h2M1296 928h2M959 928h2M1260 927h2M1359 928h2M1264 928h2M960 928h2M1148 928h2M1047 928h2M881 927h2M881 928h2M802 895h2M1194 895h2M795 895h2M1160 895h2M1131 895h2M1261 895h2M1347 895h2M1222 895h2M1365 895h2M1071 895h2M1208 895h2M845 668h2M1108 668h2M1202 668h2M979 669h2M1232 668h2M826 669h2M943 962h2M972 962h2M883 961h2M1252 961h2M809 961h2M1260 962h2M1154 962h2M1315 962h2M1320 758h2M1285 757h2M798 758h2M1306 758h2M882 758h2M1019 757h2M1093 758h2M1217 757h2M1020 697h2M1094 696h2M1020 697h2M1293 698h2M1219 697h2M997 697h2M1232 697h2M1089 1061h2M1065 1060h2M1230 1060h2M1318 1060h2M1283 1060h2M828 1060h2M1037 1059h2M1045 1060h2M1054 726h2M1034 726h2M1229 726h2M1057 725h2M1098 727h2M933 726h2M1186 726h2M1224 726h2M1288 726h2M1014 726h2M1042 726h2M804 725h2M876 884h2M795 884h2M1072 885h2M1229 884h2M1040 884h2M1013 884h2M964 884h2M1294 884h2M1048 614h2M932 615h2M1292 616h2M897 614h2M1199 614h2M1266 615h2M1283 615h2M1144 615h2M1356 614h2M929 616h2M1037 615h2M1145 615h2M1256 1120h2M1194 1120h2M1180 1120h2M1173 1120h2M1342 1120h2M1020 1121h2M1201 1120h2M1280 1119h2" stroke="#135a16" stroke-width="2" stroke-opacity="0.72" fill="none"/>
<path d="M1340 922h2M810 1093h2M1349 847h2M794 696h2M1252 1114h2M1189 612h2M1255 1095h2M998 755h2M1031 886h2M1134 641h2M1010 1075h2M1267 848h2M996 1044h2M889 979h2M1128 1075h2M1156 839h2M829 932h2M1269 893h2M804 779h2M1083 578h2M1141 731h2M924 1132h2M1063 851h2M935 860h2M994 837h2M926 1101h2M852 1068h2M1092 879h2M1279 771h2M1066 606h2M801 1051h2M1176 714h2M1358 974h2M1201 993h2M1036 623h2M1350 810h2M886 1071h2M798 1122h2M1065 713h2M801 614h2M979 611h2M1348 944h2M935 976h2M965 962h2M912 725h2M1331 1126h2M909 871h2M1177 972h2M872 782h2M1121 892h2M948 724h2M891 1038h2M977 858h2M1200 642h2M926 1133h2M1308 808h2M1226 1021h2M1122 1074h2M1123 604h2M1064 1046h2M887 947h2M1215 702h2M912 912h2M909 732h2M1067 847h2M967 1110h2M1132 909h2M830 601h2M880 759h2M1238 824h2M805 1030h2M1241 660h2M1218 881h2M967 1081h2M803 914h2M1043 693h2M1315 878h2M1041 1095h2M960 1063h2M1219 717h2M1032 705h2M1192 1124h2M1267 1008h2M1010 581h2M1121 1060h2M1142 1003h2M1184 1043h2M1103 787h2M935 1090h2M1355 900h2M925 764h2M950 1111h2M1358 1047h2M1281 849h2M936 1073h2M1081 922h2M1110 796h2M1149 1042h2M989 1027h2M995 593h2M1244 661h2M1171 1066h2M1228 999h2M1292 901h2M976 1132h2M1325 774h2M1006 1034h2M1085 843h2M1348 803h2M1008 1109h2M1313 1038h2M1041 1072h2M1236 835h2M1043 1056h2M1160 1136h2M1026 834h2M832 804h2M1039 720h2M1346 1033h2M840 1115h2M933 1081h2M1175 832h2M1350 979h2M1064 571h2M931 1034h2M1274 647h2M1016 752h2M852 755h2M947 668h2M905 748h2M1087 573h2M999 846h2M1312 1045h2M1295 1136h2M1110 1042h2M797 997h2M980 745h2M1318 727h2M1137 980h2M1088 805h2M1276 845h2M1006 1021h2M984 646h2M1140 998h2M1211 1077h2M793 1065h2M933 804h2M1299 655h2M1330 737h2M1337 757h2M1113 753h2M1356 996h2M1279 590h2M962 1103h2M1209 1026h2M1137 967h2M1121 798h2M1262 808h2M949 782h2M1216 1135h2M1344 853h2M1085 946h2M1153 571h2M1008 1099h2M1119 725h2M1108 715h2M1293 908h2M1040 693h2M900 770h2M1112 781h2M910 892h2M951 1089h2M919 572h2M917 767h2M952 758h2M1209 1051h2M1336 659h2M1241 691h2M812 787h2M1055 998h2M942 960h2M908 634h2M1310 672h2M1161 604h2M1198 839h2M1011 632h2M959 1116h2M1033 745h2M805 879h2M928 914h2M943 668h2M1120 1025h2M957 825h2M1361 876h2M824 839h2M980 644h2M1049 748h2M858 930h2M1033 735h2M1149 711h2M1209 708h2M1175 1132h2M1341 996h2M1208 919h2M1090 1090h2M1059 874h2M1240 713h2M1230 577h2M1132 832h2M1291 807h2M1191 918h2M1163 883h2M926 725h2M1051 618h2M816 873h2M1334 1079h2M911 799h2M1334 808h2M1267 1061h2M1036 709h2M1337 1030h2M1308 1026h2M934 688h2M1068 998h2M1311 845h2M1038 1101h2M1214 576h2M1042 914h2M868 579h2M863 939h2M1029 795h2M1101 934h2M879 707h2M930 1114h2M820 1033h2M974 677h2M1287 958h2M838 1038h2M1067 777h2M817 870h2M843 989h2M1242 588h2M1060 1107h2M1336 741h2M1164 902h2M845 811h2M1310 1137h2M983 654h2M1107 798h2M1158 809h2M859 872h2M981 1010h2M1251 1005h2M1218 654h2M1221 1116h2M840 1050h2M1169 810h2M1260 570h2M923 634h2M899 921h2M1238 832h2M920 782h2M824 600h2M1294 752h2M1265 840h2M906 696h2M1129 740h2M1036 961h2M1235 903h2M1317 752h2M976 881h2M1219 1070h2M1159 1000h2M964 686h2M1095 568h2M1027 866h2M1024 996h2M1237 599h2M843 1060h2M1097 976h2M1103 767h2M1240 1131h2M921 878h2M1028 760h2M823 973h2M978 604h2M1170 980h2M1243 1073h2M1018 1045h2M1063 964h2M1125 660h2M999 959h2M855 910h2M807 609h2M1005 789h2M1234 600h2M1283 1100h2M1021 784h2M1029 796h2M1228 811h2M987 799h2M1297 898h2M1138 776h2M1358 637h2M1364 1074h2M1123 1062h2M1214 696h2M1233 720h2M1054 732h2M1041 744h2M1297 970h2M810 730h2M802 798h2M1113 715h2M1224 723h2M1125 883h2M1345 1060h2M1096 1019h2M1108 965h2M1025 801h2M911 949h2M1060 863h2M1128 623h2M1352 1117h2M1257 786h2M1123 692h2M1252 703h2M1233 596h2M916 674h2M1054 760h2M1012 646h2M999 713h2M1061 893h2M1024 1134h2M1056 1056h2M953 906h2M828 877h2M898 604h2M1230 1101h2M1037 1108h2M1262 1062h2M805 1019h2M1039 914h2M1026 902h2M1139 961h2M1037 690h2M1034 657h2M793 936h2M1211 889h2M1234 616h2M995 863h2M1210 845h2M1306 1004h2M1101 631h2M1207 598h2M1192 925h2M1316 1035h2M1126 701h2M1128 1112h2M1074 1117h2M1293 997h2M1180 909h2M977 989h2M1164 595h2M903 623h2M1341 633h2M882 1005h2M956 812h2M960 1004h2M996 1129h2M1015 963h2M988 867h2M907 929h2M1003 955h2M845 774h2M960 714h2M1235 1020h2M830 626h2M1001 869h2M835 1036h2M1185 1124h2M917 796h2M909 1097h2M1109 774h2M873 752h2M1312 712h2M1302 647h2M1040 1009h2M1346 728h2M1103 1004h2M1324 849h2M872 644h2M1177 775h2M1003 604h2M1259 1111h2M1103 958h2M1136 1041h2M1330 1115h2M946 737h2M840 1016h2M1212 805h2M1342 946h2M989 904h2M991 667h2M1125 1081h2M986 687h2M1043 840h2M1190 922h2M1360 921h2M1115 787h2M796 982h2M1111 720h2M1176 693h2M1156 887h2M1327 930h2M1158 1021h2M855 1019h2M873 632h2M1339 1019h2M1067 834h2M1013 1009h2M1177 994h2M1247 906h2M1274 1031h2M1186 599h2M872 1020h2M1226 915h2M1269 1001h2M973 746h2M1150 658h2M1172 848h2M1096 1125h2M1076 1017h2M1164 948h2M1327 701h2M1054 756h2M1126 669h2M1244 893h2M1017 810h2M898 681h2M1134 674h2M800 649h2M1010 694h2M1240 670h2M1137 963h2M1082 581h2M1196 1047h2M881 771h2M1120 1009h2M807 953h2M832 784h2M1202 939h2M1208 1120h2M889 743h2M1241 1000h2M893 1013h2M964 635h2M1362 1007h2M1008 789h2M1214 819h2M865 785h2M946 599h2M1114 1045h2M1166 1008h2M942 1081h2M1114 1097h2M1279 720h2M961 1105h2M987 610h2M1349 723h2M931 628h2M1118 806h2M969 1116h2M980 837h2M1307 878h2M858 709h2M1213 914h2M903 904h2M881 714h2M897 944h2M1181 962h2M943 902h2M847 939h2M817 859h2M1084 886h2M1016 762h2M1236 911h2M859 576h2M1099 791h2M944 831h2M796 880h2M1024 571h2M1139 585h2M1006 963h2M1363 830h2M1144 577h2M1070 578h2M1185 619h2M828 1062h2M920 801h2M851 588h2M1159 630h2M1119 650h2M1145 661h2M857 659h2M1316 869h2M878 1047h2M1312 940h2M1189 744h2M1283 676h2M1244 574h2M982 895h2M1154 777h2M932 663h2M1293 805h2M1218 639h2M844 1006h2M1123 780h2M1188 816h2M1213 793h2M1293 913h2M1123 819h2M847 577h2M1163 826h2M1105 1087h2M1166 836h2M1015 1016h2M1010 1088h2M1009 810h2M1282 600h2M945 812h2M1063 968h2M1008 942h2M870 1098h2M1093 761h2M889 627h2M1207 718h2M995 716h2M1018 912h2M1013 1011h2M1221 889h2M1240 1016h2M1063 898h2M922 696h2M891 802h2M853 721h2M1307 823h2M1211 876h2M1334 716h2M1029 1091h2M959 973h2M797 833h2M993 940h2M794 700h2M995 994h2M1310 780h2M901 652h2M1295 1049h2M1346 984h2M1303 1032h2M910 1023h2M1213 710h2M1123 877h2M935 934h2M1123 623h2M927 1103h2M992 1089h2M871 926h2M913 894h2M1157 739h2M1178 1000h2M1270 1126h2M921 1035h2M1359 979h2M830 814h2M1137 669h2M855 837h2M953 936h2M1154 637h2M874 944h2M1233 740h2M915 736h2M1048 849h2M1007 1033h2M1256 664h2M1198 900h2M1138 920h2M1139 598h2M831 800h2M799 736h2M1320 612h2M988 831h2M871 1031h2M1029 880h2M1331 684h2M817 903h2M1065 906h2M1219 675h2M1223 792h2M1016 765h2M832 996h2M1226 570h2M1328 687h2M895 817h2M1288 589h2M1133 1132h2M863 784h2M813 662h2M959 1104h2M965 938h2M1031 820h2M1218 581h2M903 594h2M873 792h2M1137 860h2M1066 903h2M1060 973h2M796 834h2M1315 589h2M803 1097h2M826 641h2M961 569h2M1290 603h2M1216 1011h2M1032 639h2M1234 753h2M1243 1086h2M949 688h2M1039 1102h2M807 971h2M1149 875h2M892 985h2M843 887h2M1134 691h2M972 849h2M845 991h2M947 705h2M1143 1073h2M1311 578h2M1118 865h2M1205 777h2M1080 993h2M843 771h2M1222 1014h2M859 810h2M900 990h2M1244 904h2M1066 1104h2M1325 1066h2M860 782h2M886 753h2M1177 638h2M931 901h2M1044 1090h2M1318 606h2M862 1026h2M1315 908h2M1237 797h2M969 815h2M1334 749h2M1062 751h2M1350 888h2M978 717h2M817 575h2M911 700h2M1338 1073h2M995 972h2M897 658h2M907 1137h2M1151 754h2M1065 803h2M1072 1051h2M1285 872h2M1158 938h2M1293 1062h2M1193 908h2M1278 1114h2M1353 783h2M1270 701h2M894 843h2M981 1084h2M1256 913h2M1008 988h2M1307 868h2M1276 844h2M843 576h2M858 814h2M1336 904h2M1161 1081h2M936 1008h2M1251 1085h2M994 893h2M879 814h2M1059 731h2M885 998h2M1047 855h2M1323 809h2M1064 617h2M1099 740h2M1343 1107h2M1353 1026h2M1193 713h2M1101 1076h2M985 863h2M1120 855h2M935 1040h2M1362 746h2M1121 730h2M1005 608h2M889 784h2M835 656h2M1203 572h2M1272 942h2M1195 859h2M1220 865h2M1120 658h2M876 978h2M857 814h2M1335 953h2M811 1038h2M1246 844h2M1189 683h2M1359 1022h2M867 832h2M848 874h2M984 1083h2M1353 856h2M1107 647h2M1105 983h2M1267 870h2M811 856h2M907 662h2M1116 679h2M828 664h2M911 1130h2M835 824h2M1191 735h2M1081 1103h2M900 767h2M1213 870h2M923 1004h2M1217 1044h2M913 976h2M1148 612h2M1195 1020h2M1125 586h2M1221 979h2M995 808h2M1226 1028h2M1283 971h2M1231 773h2M1078 971h2M1145 634h2M925 1046h2M1198 985h2M803 598h2M1234 832h2M937 566h2M1046 1111h2M1186 888h2M1075 854h2M854 998h2M923 1096h2M1072 769h2M1120 958h2M1015 853h2M1227 966h2M1054 722h2M1099 843h2M832 770h2M984 1021h2M1080 762h2M1248 855h2M1112 878h2M1003 712h2M1177 639h2M983 1033h2M1363 768h2M805 937h2M812 817h2M900 1077h2M1265 757h2M1353 958h2M846 570h2M1360 874h2M853 912h2M835 820h2M1000 722h2M1107 788h2M913 1008h2M1131 1126h2M852 773h2M986 882h2M1143 675h2M935 821h2M833 1071h2M1321 1123h2M1291 872h2M1199 639h2M1065 593h2M1351 767h2M823 831h2M1095 911h2M1291 1135h2M1322 926h2M1070 1038h2M959 621h2M1302 678h2M1005 828h2M812 818h2M1074 788h2M1239 821h2M1176 666h2M1040 761h2M1080 801h2M1344 827h2M1290 878h2M917 788h2M1248 732h2M931 1043h2M1124 1048h2M1295 847h2M986 803h2M908 637h2M1184 869h2M904 924h2M1264 647h2M844 761h2M1019 771h2M1345 837h2M864 998h2M1265 888h2M890 616h2M1149 827h2M1123 1000h2M957 895h2M995 939h2M1191 590h2M1265 774h2M1020 1091h2M1083 928h2M1310 906h2M869 668h2M1075 869h2M845 747h2M984 827h2M1020 841h2M1034 758h2M827 999h2M1117 721h2M1287 700h2M1286 609h2M869 627h2M1192 780h2M1323 634h2M1221 836h2M795 733h2M955 642h2M1033 700h2M969 978h2M1039 856h2M1192 983h2M1275 843h2M1146 1038h2M914 660h2M1348 800h2M935 807h2M1145 886h2M832 824h2M1295 609h2M999 610h2M1294 605h2M1101 608h2M900 606h2M902 609h2M976 607h2M1275 608h2M1199 607h2M1158 602h2M1156 607h2M798 608h2M929 608h2M1088 606h2M1337 607h2M1058 607h2M1198 607h2M1246 607h2M1326 605h2M864 604h2M826 606h2M843 606h2M1003 609h2M1157 662h2M1153 660h2M1300 660h2M1299 659h2M1312 663h2M1135 659h2M1301 660h2M901 659h2M886 657h2M1033 661h2M906 660h2M965 661h2M1242 662h2M1287 661h2M845 661h2M1121 660h2M1362 659h2M930 658h2M860 660h2M832 661h2M918 659h2M1204 659h2M843 658h2M1210 657h2M1233 659h2M883 659h2M1100 662h2M866 661h2M1056 661h2M1061 660h2M1057 659h2M812 661h2M1113 661h2M1236 659h2M1152 657h2M1151 662h2M1301 663h2M878 660h2M959 657h2M1176 659h2M931 661h2M936 663h2M1341 660h2M967 657h2M916 657h2M1083 661h2M1084 662h2M1021 664h2M1292 662h2M1320 662h2M1324 662h2M838 660h2M1165 660h2M1162 659h2M832 662h2M1249 659h2M998 659h2M1110 662h2M1242 663h2M1323 659h2M996 658h2M1001 660h2M911 658h2M1153 661h2M873 661h2M873 661h2M1238 660h2M1242 663h2M1245 656h2M1130 657h2M1132 665h2M1061 663h2M826 660h2M1279 658h2M1311 658h2M1123 661h2M804 657h2M1284 659h2M1173 661h2M1171 662h2M1202 659h2M816 661h2M817 663h2M816 661h2M1273 662h2M956 658h2M1344 659h2M1064 661h2M1062 660h2M1182 661h2M926 658h2M927 659h2M836 661h2M880 660h2M832 699h2M833 702h2M1016 700h2M1193 700h2M967 703h2M1201 705h2M1118 701h2M1116 703h2M922 702h2M926 701h2M895 700h2M1256 700h2M1060 704h2M803 702h2M800 699h2M829 699h2M1295 702h2M1348 703h2M831 705h2M830 701h2M1310 703h2M1313 704h2M1279 701h2M1360 758h2M1361 758h2M903 759h2M1258 761h2M1227 760h2M1298 762h2M1295 759h2M987 759h2M1019 759h2M834 761h2M832 759h2M802 763h2M1311 758h2M1309 759h2M1202 761h2M1202 758h2M1169 757h2M1037 820h2M1095 820h2M1068 821h2M999 822h2M1330 818h2M1328 820h2M1231 819h2M1230 823h2M1019 819h2M1317 820h2M1322 817h2M1320 820h2M806 820h2M806 821h2M1056 820h2M857 822h2M1270 822h2M962 818h2M1012 820h2M952 821h2M953 818h2M957 820h2M1296 819h2M1329 819h2M849 820h2M1199 820h2M1358 818h2M1359 819h2M1094 819h2M1175 821h2M1210 822h2M1029 821h2M1034 819h2M948 817h2M1206 817h2M1306 821h2M1341 819h2M1344 819h2M1067 819h2M1172 819h2M894 821h2M894 821h2M982 820h2M836 821h2M1325 820h2M1162 820h2M948 821h2M1127 821h2M987 819h2M1170 818h2M882 821h2M1136 821h2M1203 819h2M1353 819h2M1319 822h2M895 820h2M893 821h2M1192 816h2M1194 818h2M1048 822h2M1045 821h2M966 817h2M877 817h2M1354 820h2M859 818h2M1021 820h2M1351 820h2M1353 820h2M1353 820h2M1345 819h2M1064 820h2M1068 821h2M1066 819h2M920 818h2M1330 819h2M1332 820h2M801 819h2M1283 821h2M1278 820h2M1282 819h2M983 821h2M1166 820h2M1169 820h2M968 820h2M964 817h2M828 821h2M828 819h2M1017 821h2M1019 820h2M1349 820h2M808 820h2M899 819h2M897 821h2M1345 822h2M1084 819h2M816 821h2M1312 821h2M1310 818h2M930 821h2M881 818h2M1034 821h2M1034 819h2M1047 822h2M1046 821h2M1061 819h2M1259 820h2M1259 820h2M819 820h2M1233 820h2M1291 819h2M1291 822h2M977 821h2M1316 819h2M1319 821h2M1364 919h2M968 923h2M917 922h2M1338 923h2M1244 920h2M962 921h2M1334 922h2M1186 923h2M1202 923h2M1147 923h2M1205 925h2M1208 922h2M1096 922h2M1053 946h2M1325 945h2M1318 945h2M1147 946h2M933 946h2M1307 952h2M1309 947h2M1008 948h2M1008 945h2M1106 946h2M943 951h2M919 945h2M1366 944h2M1365 944h2M1365 946h2M1088 944h2M1091 950h2M1361 947h2M1006 947h2M1325 949h2M922 947h2M1136 943h2M1135 949h2M1094 945h2M1022 1061h2M1210 1065h2M1270 1064h2M1267 1067h2M1123 1066h2M1348 1071h2M1031 1063h2M1030 1065h2M1027 1065h2M962 1065h2M1352 1066h2M1061 1063h2M1298 1064h2M1298 1067h2M893 1067h2M1005 1066h2M1107 1067h2M1334 1065h2M1093 1066h2M1098 1058h2M828 1062h2M826 1065h2M968 1062h2M968 1063h2M838 1066h2M837 1065h2M897 1090h2M1273 1094h2M1112 1091h2M1065 1092h2M1124 1092h2M889 1089h2M915 1094h2M1265 1088h2M1067 1089h2M1107 1092h2M1295 1097h2M920 1095h2M984 1091h2M868 1089h2M1270 1089h2M1269 1087h2M1233 1092h2M1237 1094h2M1315 1090h2M1265 1093h2M1198 1089h2M1278 613h2M846 614h2M1253 614h2M1203 613h2M826 614h2M840 812h2M1059 812h2M896 812h2M1167 812h2M1197 811h2M966 1053h2M1175 1053h2M980 1053h2M937 1052h2M927 1053h2M1189 1052h2M1181 1053h2M995 1053h2M991 1020h2M802 1020h2M1190 1020h2M1305 1020h2M1336 1020h2M1348 1021h2M1248 1020h2M1315 1021h2M1362 1020h2M1314 619h2M1012 619h2M1122 619h2M1079 620h2M1135 619h2M980 619h2M1342 620h2M1294 619h2M1114 619h2M1047 785h2M923 784h2M983 784h2M1324 784h2M1263 784h2M1333 784h2M1232 784h2M1059 783h2M1139 784h2M1037 1035h2M1298 1035h2M1007 1035h2M1205 1035h2M1311 1035h2M1167 1035h2M887 1034h2M1234 1034h2M1064 1035h2M1247 1035h2M1339 1034h2M846 1035h2M1007 696h2M874 697h2M1174 697h2M1309 697h2M1070 696h2M1166 697h2M959 697h2M982 698h2M796 697h2M910 1029h2M1064 1029h2M836 1029h2M1157 1029h2M834 1029h2M1204 1029h2M902 1028h2M945 1029h2M834 1029h2M1060 1029h2M1203 1029h2M1014 1029h2M976 774h2M1321 774h2M1296 774h2M1052 775h2M926 774h2M1249 774h2M1306 774h2M1233 774h2M1232 1045h2M1066 1045h2M1018 1045h2M1355 1045h2M1259 1046h2M872 1046h2M1275 1046h2M1330 1045h2M1134 1045h2M1059 1045h2M1074 1046h2M981 1046h2M1129 1045h2M1280 1046h2M928 995h2M961 995h2M1351 995h2M896 996h2M948 995h2M894 995h2M1034 995h2M1219 996h2M1087 995h2M864 994h2M1303 995h2M1175 995h2M1144 841h2M1212 841h2M949 840h2M954 839h2M974 840h2M991 842h2M1311 840h2M1339 840h2M876 840h2M949 988h2M848 988h2M834 988h2M802 988h2M953 988h2M892 987h2M1124 987h2M1311 987h2M896 981h2M1146 980h2M1288 980h2M1352 981h2M814 981h2M801 981h2M1214 980h2M821 980h2M1319 980h2M964 980h2M1131 981h2M999 573h2M1166 573h2M972 573h2M1269 574h2M906 573h2M1238 574h2M1046 574h2M1185 919h2M1129 918h2M820 920h2M1222 920h2M1330 918h2M1304 920h2M933 919h2M1075 918h2M1237 920h2M977 724h2M1186 723h2M1073 725h2M1006 724h2M921 724h2M1225 724h2M1314 725h2M1101 724h2M1269 723h2M1361 724h2M1324 725h2M1031 724h2M1347 911h2M1215 912h2M1142 910h2M887 928h2M1161 929h2M973 928h2M1031 928h2M978 929h2M1093 928h2M839 928h2M1064 928h2M1010 928h2M1024 928h2M1079 929h2M1000 928h2M1035 896h2M1142 895h2M1298 894h2M1147 895h2M1103 894h2M1137 895h2M944 895h2M954 896h2M1175 894h2M1297 896h2M1309 668h2M996 668h2M946 669h2M1234 667h2M921 668h2M1327 669h2M1258 669h2M854 962h2M1003 963h2M917 962h2M1210 962h2M1170 961h2M1351 961h2M930 962h2M863 962h2M905 758h2M1241 757h2M852 757h2M1093 757h2M1252 756h2M1233 758h2M1099 758h2M1331 758h2M1190 757h2M1237 757h2M1140 696h2M1147 697h2M1327 698h2M1004 696h2M1120 697h2M1235 696h2M1196 697h2M807 697h2M824 696h2M1331 697h2M1269 698h2M1150 697h2M1216 697h2M1272 698h2M966 698h2M1145 1060h2M1362 1062h2M1114 1060h2M924 1060h2M1175 726h2M1156 726h2M1249 727h2M1307 726h2M1313 726h2M1056 725h2M1220 726h2M1352 727h2M1217 726h2M992 725h2M1358 725h2M861 885h2M881 884h2M827 884h2M1276 884h2M1093 884h2M889 883h2M848 884h2M977 885h2M1084 884h2M1254 615h2M1136 615h2M822 615h2M1086 615h2M1170 615h2M1162 614h2M1186 615h2M1156 615h2M1094 616h2M1121 616h2M826 614h2M1253 1120h2M925 1120h2M932 1120h2M903 1120h2M927 1120h2M1086 1120h2M1152 1120h2M1204 1120h2" stroke="#3cc44e" stroke-width="2" stroke-opacity="0.72" fill="none"/>
<path d="M1331 1055h2M796 1064h2M868 833h2M900 924h2M844 594h2M1203 631h2M1333 670h2M850 999h2M1090 1038h2M931 608h2M1162 792h2M1185 1056h2M820 714h2M861 902h2M865 601h2M1117 1129h2M833 677h2M1101 907h2M871 839h2M1313 841h2M888 803h2M1118 900h2M1018 971h2M1355 915h2M968 895h2M937 978h2M1038 941h2M1015 677h2M1317 1100h2M1291 956h2M966 695h2M914 902h2M1110 991h2M1206 648h2M1036 939h2M890 785h2M821 1116h2M1034 1083h2M1300 901h2M972 1062h2M1113 1000h2M960 754h2M848 910h2M801 1121h2M1287 736h2M1070 649h2M1326 760h2M836 931h2M972 1133h2M1232 720h2M1205 662h2M1129 909h2M838 717h2M859 761h2M934 590h2M1258 1099h2M917 710h2M917 816h2M855 784h2M1169 571h2M1050 572h2M859 821h2M1017 856h2M1182 709h2M1022 1089h2M906 596h2M1186 1117h2M880 840h2M978 783h2M807 1138h2M1041 769h2M901 756h2M825 595h2M1236 795h2M1075 793h2M1168 1109h2M831 1045h2M1354 735h2M1309 850h2M1195 889h2M1319 1022h2M1121 991h2M1032 820h2M986 865h2M915 595h2M1094 610h2M1117 1102h2M917 911h2M893 772h2M1184 911h2M1340 658h2M856 947h2M987 908h2M1221 1136h2M958 591h2M962 1045h2M1217 744h2M841 1003h2M1289 754h2M870 785h2M1272 792h2M1182 708h2M912 734h2M814 817h2M981 593h2M985 1138h2M1236 1066h2M1242 695h2M1302 1117h2M1155 1074h2M820 658h2M1187 923h2M807 911h2M1304 668h2M907 761h2M923 755h2M941 664h2M1055 913h2M1242 1029h2M1333 1133h2M953 869h2M1090 945h2M816 770h2M993 1114h2M865 781h2M1196 571h2M1345 866h2M1208 670h2M1142 862h2M869 676h2M1006 774h2M931 931h2M929 856h2M876 750h2M1086 1013h2M1127 884h2M926 1017h2M1289 636h2M804 611h2M1178 807h2M1364 680h2M985 811h2M1078 804h2M961 689h2M897 1069h2M1015 698h2M844 641h2M1026 1015h2M996 976h2M1181 596h2M1055 968h2M1125 1090h2M1261 945h2M964 926h2M932 755h2M1126 636h2M935 835h2M1297 939h2M1006 1007h2M1172 704h2M1356 905h2M879 1007h2M1184 958h2M1059 1065h2M1034 922h2M823 736h2M901 705h2M1362 878h2M1128 1130h2M1302 852h2M1340 599h2M871 801h2M1156 995h2M1091 765h2M1337 922h2M1333 597h2M1023 742h2M925 763h2M916 740h2M1310 614h2M937 753h2M1223 1011h2M1298 990h2M913 790h2M825 1054h2M1208 844h2M1154 594h2M1047 940h2M1152 779h2M1009 838h2M1003 669h2M983 598h2M1313 788h2M805 725h2M1186 959h2M989 726h2M881 871h2M1146 973h2M1303 733h2M966 911h2M1281 1037h2M980 1016h2M1077 999h2M1338 684h2M1278 996h2M1083 1108h2M980 960h2M1209 696h2M1291 575h2M887 1136h2M1112 934h2M1300 1116h2M1096 973h2M1283 1016h2M1093 840h2M1246 602h2M1044 817h2M984 672h2M935 842h2M903 1132h2M936 1082h2M1225 1061h2M862 593h2M867 968h2M1212 936h2M1242 729h2M1359 594h2M1302 814h2M963 860h2M855 644h2M966 662h2M792 1029h2M1033 1130h2M810 1106h2M1252 569h2M1034 1036h2M1272 907h2M1062 700h2M978 665h2M916 1040h2M1129 784h2M857 824h2M1241 713h2M1130 589h2M1039 592h2M857 861h2M978 1123h2M1285 776h2M957 876h2M1252 851h2M1234 1123h2M1262 1130h2M1141 1118h2M902 663h2M1254 1076h2M871 1100h2M983 637h2M874 855h2M892 1103h2M1107 1091h2M841 1016h2M1214 854h2M795 709h2M962 587h2M1285 756h2M844 664h2M1020 664h2M1226 744h2M1243 951h2M974 1118h2M1343 782h2M917 818h2M980 621h2M1137 995h2M1224 669h2M1036 797h2M1017 717h2M1144 995h2M1068 1007h2M1201 901h2M1005 612h2M833 937h2M937 1078h2M903 1080h2M1163 868h2M1282 749h2M852 681h2M823 671h2M1288 757h2M1274 852h2M948 642h2M932 710h2M829 636h2M1044 966h2M1038 1130h2M1026 1115h2M797 1103h2M1264 648h2M1284 745h2M925 687h2M883 917h2M1097 1035h2M1006 798h2M1292 789h2M905 1107h2M982 779h2M872 1056h2M1184 640h2M875 576h2M1275 855h2M1342 975h2M871 580h2M1231 653h2M945 942h2M1195 875h2M973 1092h2M1092 813h2M807 808h2M907 772h2M1040 1010h2M906 940h2M1313 1041h2M943 840h2M1161 658h2M1138 774h2M1221 754h2M1186 633h2M1301 1041h2M1029 688h2M928 837h2M1100 869h2M1292 852h2M922 646h2M1023 875h2M1237 842h2M1027 930h2M1225 659h2M834 982h2M1032 786h2M896 969h2M875 932h2M1274 618h2M877 628h2M1163 899h2M1047 1116h2M1094 631h2M1201 1110h2M797 938h2M1248 818h2M1074 769h2M1231 1132h2M1362 893h2M1095 734h2M1016 725h2M1229 917h2M1335 630h2M971 1092h2M833 880h2M1333 731h2M1235 686h2M1091 657h2M1169 985h2M1292 1007h2M1066 764h2M1108 840h2M1235 1004h2M1011 670h2M916 997h2M1291 668h2M892 1017h2M882 1012h2M1335 1101h2M1145 1116h2M827 815h2M1197 847h2M951 984h2M1310 984h2M834 967h2M866 969h2M1200 886h2M1154 641h2M1305 643h2M808 734h2M883 744h2M914 1021h2M1086 1137h2M1098 842h2M917 731h2M925 1063h2M1192 886h2M1290 599h2M1333 1007h2M839 1119h2M1028 664h2M1205 827h2M922 1040h2M1358 1073h2M1023 668h2M1192 740h2M1179 1034h2M1312 701h2M1216 569h2M857 689h2M858 764h2M891 950h2M960 918h2M941 692h2M935 1099h2M840 578h2M1052 808h2M1324 635h2M1200 641h2M970 808h2M887 973h2M871 656h2M1083 950h2M1182 877h2M1308 914h2M1013 651h2M932 907h2M981 613h2M1009 835h2M948 679h2M1211 664h2M1013 847h2M1257 939h2M1040 629h2M1087 581h2M907 960h2M978 1112h2M1310 854h2M1339 638h2M944 795h2M1366 614h2M1076 1002h2M1135 810h2M838 681h2M1274 951h2M1055 865h2M928 859h2M1045 946h2M986 835h2M1075 855h2M1264 666h2M1197 781h2M1319 843h2M984 618h2M1133 1040h2M1336 595h2M995 661h2M793 781h2M835 897h2M976 996h2M1339 1107h2M872 576h2M859 1031h2M1334 659h2M919 651h2M1342 694h2M1090 966h2M942 734h2M887 649h2M1161 733h2M1052 765h2M1138 649h2M1043 856h2M937 614h2M993 953h2M793 672h2M992 992h2M1034 920h2M1285 808h2M953 977h2M983 604h2M1341 605h2M1258 608h2M1261 607h2M1332 606h2M1333 608h2M844 609h2M836 610h2M974 607h2M812 605h2M1275 606h2M1203 608h2M1235 604h2M824 608h2M1113 662h2M1085 659h2M814 659h2M1099 660h2M1068 661h2M1112 662h2M1111 660h2M943 658h2M1137 661h2M878 663h2M893 660h2M1080 659h2M1252 663h2M958 661h2M1190 659h2M1189 661h2M1238 657h2M1237 660h2M1072 657h2M864 657h2M852 658h2M1353 659h2M1024 663h2M1294 662h2M1176 662h2M1189 660h2M1192 663h2M936 658h2M1340 660h2M1324 662h2M1198 661h2M1250 661h2M836 658h2M797 663h2M1324 663h2M1155 658h2M812 657h2M1239 661h2M1134 663h2M1072 665h2M1154 662h2M1155 658h2M920 661h2M931 659h2M1279 658h2M1324 661h2M1320 661h2M964 661h2M1155 662h2M1283 656h2M917 661h2M1205 658h2M1184 659h2M1273 659h2M1259 661h2M1181 657h2M930 660h2M836 659h2M1349 704h2M1012 700h2M1279 705h2M1282 701h2M1201 700h2M795 703h2M866 701h2M844 702h2M805 701h2M831 701h2M1351 699h2M1294 702h2M996 700h2M820 704h2M875 700h2M878 704h2M1235 703h2M1226 763h2M959 763h2M960 763h2M1022 758h2M1310 760h2M1313 759h2M913 760h2M800 759h2M1110 763h2M1110 757h2M1171 760h2M1193 820h2M804 819h2M1211 820h2M894 819h2M1132 821h2M954 819h2M951 820h2M1341 818h2M1173 818h2M857 818h2M963 820h2M1300 821h2M1329 820h2M1199 821h2M1097 821h2M1303 820h2M951 820h2M952 822h2M1246 818h2M1250 822h2M946 821h2M1321 823h2M948 823h2M1340 821h2M985 821h2M1210 821h2M940 821h2M879 822h2M1052 820h2M1325 819h2M920 819h2M1203 820h2M877 819h2M983 819h2M1023 821h2M973 821h2M892 817h2M1285 821h2M1204 819h2M1201 819h2M1341 823h2M1191 820h2M1166 820h2M1255 820h2M1260 822h2M1178 820h2M1274 818h2M1342 823h2M1084 820h2M877 823h2M1090 820h2M1347 820h2M881 820h2M818 819h2M951 821h2M1313 823h2M1272 820h2M1318 817h2M1098 817h2M1254 923h2M968 919h2M847 919h2M834 923h2M1333 921h2M1184 919h2M997 921h2M1293 920h2M1219 921h2M1220 922h2M1223 924h2M1094 922h2M1095 921h2M1092 920h2M1057 923h2M1080 945h2M1317 946h2M1231 945h2M1107 945h2M1152 946h2M1154 945h2M1212 947h2M1215 946h2M1218 944h2M1138 945h2M918 1067h2M920 1065h2M1027 1065h2M863 1067h2M978 1064h2M1360 1068h2M1358 1063h2M1248 1062h2M1246 1065h2M918 1063h2M1105 1063h2M1312 1066h2M1313 1065h2M1231 1064h2M1334 1066h2M827 1067h2M941 1065h2M1301 1068h2M1300 1065h2M807 1090h2M997 1089h2M1269 1094h2M1064 1088h2M1207 1089h2M1341 1090h2M1343 1090h2M1139 1089h2M948 1090h2M989 1092h2M1264 1091h2M1338 1090h2M890 1093h2M1108 1089h2M1296 1093h2M1302 1091h2M919 1092h2M870 1091h2M908 1093h2M909 1089h2M902 1088h2M899 1091h2M799 1091h2M1196 1093h2M821 1091h2M1188 614h2M816 614h2M989 614h2M890 614h2M806 614h2M1202 614h2M1306 615h2M1145 811h2M1237 811h2M797 812h2M827 1054h2M1247 1054h2M931 1053h2M1069 1053h2M1086 1053h2M1041 1054h2M1265 1054h2M1035 1053h2M805 1053h2M1052 1053h2M1108 1052h2M874 1053h2M1145 1054h2M977 1021h2M1342 1020h2M1086 1020h2M1281 1021h2M985 1020h2M878 1021h2M1124 618h2M844 619h2M932 619h2M1219 619h2M1275 619h2M1230 619h2M938 619h2M909 619h2M1174 618h2M799 784h2M1343 784h2M1252 784h2M911 784h2M1061 785h2M1233 784h2M1032 1035h2M1330 1035h2M1199 1034h2M1112 1036h2M1113 1034h2M1127 1035h2M1343 1034h2M819 1035h2M1319 697h2M822 698h2M1145 696h2M984 695h2M1013 1029h2M978 1029h2M943 774h2M1169 774h2M891 774h2M1308 773h2M1134 774h2M1250 774h2M1150 774h2M949 1045h2M897 1045h2M986 1046h2M820 1045h2M873 1046h2M1235 1045h2M1299 1045h2M1335 995h2M1299 996h2M1261 995h2M1057 840h2M1254 840h2M805 841h2M1178 988h2M939 987h2M1091 989h2M1149 988h2M1099 987h2M1134 988h2M1162 987h2M918 987h2M986 988h2M1186 989h2M925 987h2M1026 981h2M1042 980h2M1354 981h2M1024 981h2M1194 981h2M1246 980h2M1180 573h2M925 573h2M1229 573h2M831 573h2M1089 574h2M1240 574h2M1268 573h2M1181 574h2M997 920h2M1340 918h2M1147 919h2M987 919h2M1092 918h2M866 918h2M1286 919h2M1306 918h2M936 920h2M1172 724h2M1242 724h2M1008 723h2M928 724h2M872 725h2M1057 724h2M1353 725h2M1243 724h2M1088 911h2M797 911h2M1043 912h2M1236 912h2M826 912h2M1039 912h2M1242 928h2M1325 928h2M830 927h2M1062 928h2M1074 928h2M882 928h2M1180 928h2M1320 928h2M1244 928h2M1228 895h2M1060 895h2M1341 894h2M1283 894h2M1315 895h2M1324 896h2M1200 668h2M812 669h2M1359 668h2M1219 669h2M915 668h2M1230 668h2M992 961h2M1236 961h2M1086 962h2M850 962h2M834 961h2M1026 962h2M960 962h2M912 962h2M1055 758h2M1231 758h2M930 758h2M970 758h2M1132 698h2M834 698h2M841 697h2M1260 698h2M1029 697h2M896 1060h2M1091 1060h2M1216 1060h2M1141 1060h2M1314 1060h2M1323 1061h2M1289 1060h2M1313 1061h2M1065 1061h2M1106 725h2M1111 726h2M910 726h2M1008 727h2M1180 725h2M927 727h2M1089 725h2M993 884h2M1155 884h2M1051 884h2M978 885h2M997 885h2M1119 885h2M930 884h2M1225 615h2M898 614h2M863 614h2M966 615h2M988 615h2M937 616h2M922 615h2M1127 616h2M1300 1119h2M1343 1120h2M1100 1119h2M855 1119h2M966 1120h2M834 1119h2M1249 1120h2M903 1120h2M1001 1120h2" stroke="#d9732a" stroke-width="2" stroke-opacity="0.72" fill="none"/>
<path d="M989 921h2M951 1069h2M1295 598h2M1169 949h2M822 646h2M1304 912h2M1118 1083h2M955 885h2M1250 610h2M886 722h2M1186 770h2M1054 1077h2M803 707h2M1031 1011h2M1325 1012h2M1085 788h2M1025 1013h2M1091 1019h2M1019 793h2M1285 962h2M1048 1110h2M1138 868h2M1189 895h2M1061 936h2M1027 744h2M1317 797h2M1107 1003h2M1027 1108h2M821 602h2M1178 734h2M951 912h2M860 801h2M906 887h2M852 1077h2M1093 1133h2M1351 622h2M1225 915h2M1328 943h2M1333 623h2M1213 1135h2M881 1110h2M1010 766h2M1270 840h2M964 1103h2M1322 642h2M1007 761h2M1116 1133h2M1007 992h2M945 946h2M1156 650h2M1289 702h2M1035 729h2M1274 775h2M1086 1036h2M828 904h2M1127 651h2M805 1018h2M1034 802h2M912 642h2M1325 825h2M1294 768h2M1192 843h2M1339 782h2M1055 634h2M873 926h2M1315 1039h2M1099 1067h2M1158 1006h2M1297 1103h2M1293 1076h2M937 933h2M1227 989h2M910 669h2M1102 979h2M1061 1077h2M1101 738h2M826 847h2M1264 773h2M1312 694h2M1066 959h2M932 958h2M991 876h2M985 959h2M1008 1045h2M1336 1137h2M816 704h2M1212 1118h2M1366 907h2M946 786h2M1103 1087h2M1105 815h2M998 1094h2M1218 998h2M1095 921h2M1132 679h2M1161 739h2M1344 949h2M801 1062h2M1058 632h2M1146 808h2M1254 877h2M915 596h2M959 655h2M1295 838h2M1077 950h2M867 1138h2M962 660h2M1332 619h2M1004 594h2M1045 891h2M846 779h2M992 856h2M1096 867h2M974 1134h2M1197 574h2M1116 985h2M934 1011h2M1134 676h2M1291 1079h2M875 640h2M1262 820h2M1199 790h2M1191 716h2M1299 659h2M847 827h2M1325 733h2M1242 568h2M1202 748h2M1233 846h2M890 1015h2M1016 612h2M917 1026h2M1196 630h2M1032 902h2M1183 1126h2M916 642h2M926 690h2M970 827h2M938 850h2M1315 900h2M1203 666h2M1304 597h2M1318 834h2M1306 908h2M1314 809h2M964 794h2M874 1056h2M1057 862h2M1008 1067h2M1187 870h2M1283 1030h2M1234 1092h2M1006 1092h2M973 802h2M850 874h2M1122 795h2M837 631h2M1226 1063h2M855 846h2M1105 660h2M1012 966h2M810 906h2M1199 898h2M926 590h2M978 576h2M1163 651h2M1263 863h2M1356 613h2M1333 593h2M1008 677h2M1186 949h2M861 923h2M900 693h2M898 900h2M1014 881h2M803 1007h2M1343 851h2M1340 760h2M1169 701h2M1161 650h2M807 1008h2M1011 984h2M1010 864h2M935 760h2M1252 885h2M1055 1109h2M1268 868h2M962 966h2M880 974h2M1266 984h2M1213 792h2M1280 858h2M1126 905h2M1250 606h2M1241 1104h2M1180 1035h2M1099 931h2M902 576h2M1338 1137h2M1356 994h2M1217 724h2M913 839h2M1014 586h2M1130 885h2M1101 780h2M1163 852h2M995 1048h2M971 1095h2M1197 759h2M793 939h2M816 847h2M1283 958h2M1128 571h2M1029 1120h2M1033 794h2M1070 1024h2M1028 1001h2M1261 576h2M1341 772h2M842 1083h2M992 969h2M1075 661h2M1110 879h2M824 774h2M1059 638h2M1031 787h2M948 1061h2M1037 944h2M1256 750h2M982 653h2M1174 895h2M881 569h2M1048 1052h2M932 570h2M967 665h2M1118 838h2M833 882h2M1296 615h2M1211 908h2M1071 622h2M889 1021h2M833 720h2M1193 689h2M1257 693h2M1290 975h2M979 763h2M879 968h2M1231 1124h2M1241 586h2M1012 605h2M1341 946h2M1229 1086h2M1200 726h2M1282 760h2M1068 910h2M1329 1057h2M1352 1093h2M1283 755h2M844 789h2M1066 971h2M918 1116h2M1251 926h2M845 605h2M1232 604h2M1233 601h2M1222 607h2M1108 606h2M1007 606h2M1115 659h2M1069 662h2M843 663h2M885 662h2M873 660h2M1186 661h2M1073 659h2M851 664h2M1353 659h2M1340 660h2M916 657h2M1019 662h2M942 660h2M1008 660h2M1349 659h2M1248 659h2M939 659h2M910 660h2M1153 658h2M1129 661h2M796 660h2M1126 659h2M1282 658h2M956 661h2M836 660h2M1031 662h2M1132 705h2M1194 699h2M1198 703h2M1280 705h2M1279 701h2M877 704h2M927 702h2M896 701h2M829 702h2M833 758h2M1262 762h2M1317 757h2M1177 756h2M859 762h2M1140 762h2M1096 822h2M1200 818h2M1188 819h2M1190 821h2M1300 822h2M1245 819h2M1030 821h2M993 819h2M941 821h2M981 818h2M979 819h2M1326 821h2M1355 821h2M1030 819h2M866 820h2M1329 819h2M1277 821h2M1293 817h2M1350 821h2M1309 820h2M881 822h2M877 818h2M1350 820h2M883 822h2M956 819h2M1293 820h2M1098 821h2M959 921h2M1201 922h2M1095 944h2M1191 947h2M916 945h2M1262 946h2M1361 946h2M1325 944h2M1092 947h2M862 1064h2M1349 1066h2M1197 1069h2M1064 1062h2M838 1064h2M873 1092h2M1012 1091h2M952 1092h2M953 1093h2M1323 1089h2M1324 1093h2M1319 1093h2M1069 1091h2M1222 1089h2M1109 1091h2M1029 1086h2M897 1091h2M1236 614h2M1209 614h2M1272 614h2M1270 811h2M941 812h2M1144 811h2M1128 1053h2M1336 1053h2M1288 1053h2M1301 1053h2M1311 1021h2M1277 1020h2M1162 1019h2M1074 619h2M1171 784h2M1329 784h2M1175 783h2M1056 784h2M1277 784h2M1088 1035h2M1221 1035h2M842 697h2M1286 697h2M887 1029h2M1231 773h2M1309 774h2M886 774h2M803 775h2M1053 774h2M1247 775h2M1294 774h2M831 1045h2M1160 1046h2M841 1045h2M1281 996h2M992 995h2M1139 841h2M1076 841h2M1306 842h2M983 987h2M1247 988h2M916 988h2M837 988h2M952 988h2M999 981h2M1294 574h2M814 574h2M1234 919h2M798 919h2M971 723h2M1202 724h2M1014 723h2M937 911h2M975 929h2M1167 928h2M1125 928h2M887 928h2M1114 928h2M909 929h2M811 895h2M1169 895h2M828 894h2M1130 668h2M1000 668h2M1167 962h2M1336 961h2M1199 962h2M1103 961h2M975 962h2M1233 757h2M809 757h2M865 757h2M1005 758h2M1167 697h2M903 1060h2M1029 1060h2M814 725h2M1340 725h2M1192 885h2M1048 884h2M879 884h2M1017 885h2M1343 884h2M1202 884h2M1050 614h2M1305 615h2M1210 615h2M1298 615h2M1140 615h2M1263 615h2M1200 1120h2M1305 1120h2M836 1120h2" stroke="#fdd54d" stroke-width="2" stroke-opacity="0.72" fill="none"/>
<path d="M834.6 551.5V564M872.4 551.5V564M914.6 551.5V564M955.1 551.5V564M993 551.5V564M1031.7 551.5V564M1068.3 551.5V564M1103.1 551.5V564M1135.5 551.5V564M1171.1 551.5V564M1204.1 551.5V564M1232.4 551.5V564M1258.8 551.5V564M1284.3 551.5V564M1305.1 551.5V564M1327.4 551.5V564M1349.1 551.5V564M1369.2 583.9H1382.5M1369.2 605.8H1382.5M1369.2 629.1H1382.5M1369.2 650.3H1382.5M1369.2 675.7H1382.5M1369.2 702.5H1382.5M1369.2 730.7H1382.5M1369.2 762.4H1382.5M1369.2 796H1382.5M1369.2 829.8H1382.5M1369.2 864.4H1382.5M1369.2 900.4H1382.5M1369.2 945.5H1382.5M1369.2 982.8H1382.5M1369.2 1022.2H1382.5M1369.2 1064.5H1382.5M1369.2 1098H1382.5" stroke="#333" stroke-width="1.5" fill="none"/>
<path d="M849.09 1140.8V1148.8M906.88 1140.8V1148.8M964.67 1140.8V1148.8M1022.46 1140.8V1148.8M1080.25 1140.8V1148.8M1138.04 1140.8V1148.8M1195.83 1140.8V1148.8M1253.62 1140.8V1148.8M1311.41 1140.8V1148.8M783.3 1083.12H791.3M783.3 1025.44H791.3M783.3 967.76H791.3M783.3 910.08H791.3M783.3 852.4H791.3M783.3 794.72H791.3M783.3 737.04H791.3M783.3 679.36H791.3M783.3 621.68H791.3" stroke="#555" stroke-width="1.8" fill="none"/>
<text x="807.05" y="559.2" font-size="11.01" fill="#222" textLength="11.59" lengthAdjust="spacingAndGlyphs">1B</text>
<text x="847.72" y="559.2" font-size="11.01" fill="#222" textLength="11.59" lengthAdjust="spacingAndGlyphs">2B</text>
<text x="887.78" y="559.2" font-size="11.01" fill="#222" textLength="11.59" lengthAdjust="spacingAndGlyphs">3B</text>
<text x="929.2" y="559.2" font-size="11.01" fill="#222" textLength="11.59" lengthAdjust="spacingAndGlyphs">4B</text>
<text x="968.32" y="559.2" font-size="11.01" fill="#222" textLength="11.59" lengthAdjust="spacingAndGlyphs">5B</text>
<text x="1006.57" y="559.2" font-size="11.01" fill="#222" textLength="11.59" lengthAdjust="spacingAndGlyphs">6B</text>
<text x="1044.22" y="559.2" font-size="11.01" fill="#222" textLength="11.59" lengthAdjust="spacingAndGlyphs">7B</text>
<text x="1079.96" y="559.2" font-size="11.01" fill="#222" textLength="11.59" lengthAdjust="spacingAndGlyphs">8B</text>
<text x="1113.55" y="559.2" font-size="11.01" fill="#222" textLength="11.59" lengthAdjust="spacingAndGlyphs">9B</text>
<text x="1144.76" y="559.2" font-size="11.01" fill="#222" textLength="16.85" lengthAdjust="spacingAndGlyphs">10B</text>
<text x="1179.42" y="559.2" font-size="11.01" fill="#222" textLength="16.15" lengthAdjust="spacingAndGlyphs">11B</text>
<text x="1209.71" y="559.2" font-size="11.01" fill="#222" textLength="16.85" lengthAdjust="spacingAndGlyphs">12B</text>
<text x="1237.06" y="559.2" font-size="11.01" fill="#222" textLength="16.85" lengthAdjust="spacingAndGlyphs">13B</text>
<text x="1263.01" y="559.2" font-size="11.01" fill="#222" textLength="16.85" lengthAdjust="spacingAndGlyphs">14B</text>
<text x="1286.16" y="559.2" font-size="11.01" fill="#222" textLength="16.85" lengthAdjust="spacingAndGlyphs">15B</text>
<text x="1307.71" y="559.2" font-size="11.01" fill="#222" textLength="16.85" lengthAdjust="spacingAndGlyphs">16B</text>
<text x="1329.71" y="559.2" font-size="11.01" fill="#222" textLength="16.85" lengthAdjust="spacingAndGlyphs">17B</text>
<text x="1350.61" y="559.2" font-size="11.01" fill="#222" textLength="16.85" lengthAdjust="spacingAndGlyphs">18B</text>
<text transform="translate(1374.7 1119.4) rotate(90)" x="-6.23" y="0" font-size="11.01" fill="#222" textLength="12.11" lengthAdjust="spacingAndGlyphs">1C</text>
<text transform="translate(1374.7 1081.25) rotate(90)" x="-6.11" y="0" font-size="11.01" fill="#222" textLength="12.11" lengthAdjust="spacingAndGlyphs">2C</text>
<text transform="translate(1374.7 1043.35) rotate(90)" x="-6.05" y="0" font-size="11.01" fill="#222" textLength="12.11" lengthAdjust="spacingAndGlyphs">3C</text>
<text transform="translate(1374.7 1002.5) rotate(90)" x="-5.98" y="0" font-size="11.01" fill="#222" textLength="12.11" lengthAdjust="spacingAndGlyphs">4C</text>
<text transform="translate(1374.7 964.15) rotate(90)" x="-6.06" y="0" font-size="11.01" fill="#222" textLength="12.11" lengthAdjust="spacingAndGlyphs">5C</text>
<text transform="translate(1374.7 922.95) rotate(90)" x="-6.11" y="0" font-size="11.01" fill="#222" textLength="12.11" lengthAdjust="spacingAndGlyphs">6C</text>
<text transform="translate(1374.7 882.4) rotate(90)" x="-6.11" y="0" font-size="11.01" fill="#222" textLength="12.11" lengthAdjust="spacingAndGlyphs">7C</text>
<text transform="translate(1374.7 847.1) rotate(90)" x="-6.07" y="0" font-size="11.01" fill="#222" textLength="12.11" lengthAdjust="spacingAndGlyphs">8C</text>
<text transform="translate(1374.7 812.9) rotate(90)" x="-6.09" y="0" font-size="11.01" fill="#222" textLength="12.11" lengthAdjust="spacingAndGlyphs">9C</text>
<text transform="translate(1374.7 779.2) rotate(90)" x="-8.87" y="0" font-size="11.01" fill="#222" textLength="17.38" lengthAdjust="spacingAndGlyphs">10C</text>
<text transform="translate(1374.7 746.55) rotate(90)" x="-8.51" y="0" font-size="11.01" fill="#222" textLength="16.67" lengthAdjust="spacingAndGlyphs">11C</text>
<text transform="translate(1374.7 716.6) rotate(90)" x="-8.87" y="0" font-size="11.01" fill="#222" textLength="17.38" lengthAdjust="spacingAndGlyphs">12C</text>
<text transform="translate(1374.7 689.1) rotate(90)" x="-8.87" y="0" font-size="11.01" fill="#222" textLength="17.38" lengthAdjust="spacingAndGlyphs">13C</text>
<text transform="translate(1374.7 663) rotate(90)" x="-8.87" y="0" font-size="11.01" fill="#222" textLength="17.38" lengthAdjust="spacingAndGlyphs">14C</text>
<text transform="translate(1374.7 639.7) rotate(90)" x="-8.87" y="0" font-size="11.01" fill="#222" textLength="17.38" lengthAdjust="spacingAndGlyphs">15C</text>
<text transform="translate(1374.7 617.45) rotate(90)" x="-8.87" y="0" font-size="11.01" fill="#222" textLength="17.38" lengthAdjust="spacingAndGlyphs">16C</text>
<text transform="translate(1374.7 594.85) rotate(90)" x="-8.87" y="0" font-size="11.01" fill="#222" textLength="17.38" lengthAdjust="spacingAndGlyphs">17C</text>
<text transform="translate(1374.7 573.95) rotate(90)" x="-8.87" y="0" font-size="11.01" fill="#222" textLength="17.38" lengthAdjust="spacingAndGlyphs">18C</text>
<text x="827.28" y="1166.1" font-size="15.36" fill="#111" textLength="43.68" lengthAdjust="spacingAndGlyphs">12.2 M</text>
<text x="885.25" y="1166.1" font-size="15.36" fill="#111" textLength="43.68" lengthAdjust="spacingAndGlyphs">24.4 M</text>
<text x="943.13" y="1166.1" font-size="15.36" fill="#111" textLength="43.68" lengthAdjust="spacingAndGlyphs">36.6 M</text>
<text x="1001.03" y="1166.1" font-size="15.36" fill="#111" textLength="43.68" lengthAdjust="spacingAndGlyphs">48.8 M</text>
<text x="1064.59" y="1166.1" font-size="15.36" fill="#111" textLength="31.76" lengthAdjust="spacingAndGlyphs">61 M</text>
<text x="1116.41" y="1166.1" font-size="15.36" fill="#111" textLength="43.68" lengthAdjust="spacingAndGlyphs">73.2 M</text>
<text x="1174.26" y="1166.1" font-size="15.36" fill="#111" textLength="43.68" lengthAdjust="spacingAndGlyphs">85.5 M</text>
<text x="1232.03" y="1166.1" font-size="15.36" fill="#111" textLength="43.68" lengthAdjust="spacingAndGlyphs">97.7 M</text>
<text x="1285.64" y="1166.1" font-size="15.36" fill="#111" textLength="51.62" lengthAdjust="spacingAndGlyphs">109.9 M</text>
<text transform="translate(779.5 1083.82) rotate(-90)" x="-22.05" y="0" font-size="16.23" fill="#111" textLength="44.17" lengthAdjust="spacingAndGlyphs">12.3 M</text>
<text transform="translate(779.5 1026.14) rotate(-90)" x="-21.87" y="0" font-size="16.23" fill="#111" textLength="44.17" lengthAdjust="spacingAndGlyphs">24.6 M</text>
<text transform="translate(779.5 968.46) rotate(-90)" x="-15.75" y="0" font-size="16.23" fill="#111" textLength="32.12" lengthAdjust="spacingAndGlyphs">37 M</text>
<text transform="translate(779.5 910.78) rotate(-90)" x="-21.67" y="0" font-size="16.23" fill="#111" textLength="44.17" lengthAdjust="spacingAndGlyphs">49.3 M</text>
<text transform="translate(779.5 853.1) rotate(-90)" x="-21.87" y="0" font-size="16.23" fill="#111" textLength="44.17" lengthAdjust="spacingAndGlyphs">61.6 M</text>
<text transform="translate(779.5 795.42) rotate(-90)" x="-21.87" y="0" font-size="16.23" fill="#111" textLength="44.17" lengthAdjust="spacingAndGlyphs">73.9 M</text>
<text transform="translate(779.5 737.74) rotate(-90)" x="-21.81" y="0" font-size="16.23" fill="#111" textLength="44.17" lengthAdjust="spacingAndGlyphs">86.3 M</text>
<text transform="translate(779.5 680.06) rotate(-90)" x="-21.83" y="0" font-size="16.23" fill="#111" textLength="44.17" lengthAdjust="spacingAndGlyphs">98.6 M</text>
<text transform="translate(779.5 622.38) rotate(-90)" x="-25.52" y="0" font-size="16.23" fill="#111" textLength="51.13" lengthAdjust="spacingAndGlyphs">110.9 M</text>
<text x="1041.15" y="543.8" font-size="15.8" font-style="italic" fill="#111" textLength="80.88" lengthAdjust="spacingAndGlyphs">19NSW04_B</text>
<text transform="translate(1389.3 852.4) rotate(90)" x="-39.86" y="0" font-size="15.8" font-style="italic" fill="#111" textLength="79.29" lengthAdjust="spacingAndGlyphs">19NSW04_C</text>
<path d="M1555.8 526.8 L2134.5 526.8 L2166.8 559.1 L2166.8 1135.9 L2134.5 1168.2 L1555.8 1168.2 L1523.5 1135.9 L1523.5 559.1 Z" fill="#f3f3f3"/>
<rect x="1555.8" y="559.1" width="578.7" height="576.8" fill="#fff"/>
<path d="M1599.6 559.1V1135.9M1638.5 559.1V1135.9M1680.9 559.1V1135.9M1720.6 559.1V1135.9M1757.1 559.1V1135.9M1796.9 559.1V1135.9M1833.2 559.1V1135.9M1868.3 559.1V1135.9M1903.6 559.1V1135.9M1937.8 559.1V1135.9M1969.6 559.1V1135.9M1997.7 559.1V1135.9M2024.6 559.1V1135.9M2049.4 559.1V1135.9M2070.6 559.1V1135.9M2093.7 559.1V1135.9M2114.5 559.1V1135.9M1555.8 580H2134.5M1555.8 601.1H2134.5M1555.8 624.5H2134.5M1555.8 645.1H2134.5M1555.8 670.6H2134.5M1555.8 697.6H2134.5M1555.8 726.1H2134.5M1555.8 759.3H2134.5M1555.8 793.4H2134.5M1555.8 826.7H2134.5M1555.8 861.3H2134.5M1555.8 897.2H2134.5M1555.8 935.6H2134.5M1555.8 973.2H2134.5M1555.8 1012.8H2134.5M1555.8 1054.7H2134.5M1555.8 1092.3H2134.5" stroke="#8c8c8c" stroke-width="1.1" stroke-dasharray="3 2.9" fill="none"/>
<path d="M1750 718h2M1739 761h2M1852 770h2M1632 849h2M1863 921h2M1795 592h2M1787 938h2M1613 679h2M1840 935h2M1743 604h2M2088 770h2M1892 927h2M1577 839h2M1626 593h2M1822 1097h2M1767 964h2M1739 1046h2M1641 855h2M1775 853h2M1693 787h2M1863 1129h2M1691 747h2M2084 1068h2M2121 934h2M1971 933h2M2080 1060h2M2064 1088h2M2002 869h2M1979 1032h2M1582 981h2M1851 1060h2M2008 1116h2M1712 860h2M2018 827h2M2062 1133h2M1696 933h2M1847 723h2M1776 975h2M1745 1069h2M1865 612h2M2026 835h2M2118 1106h2M1590 732h2M1949 1003h2M1873 845h2M1606 950h2M1621 732h2M1721 1093h2M1820 754h2M2033 1012h2M1952 860h2M1929 851h2M2017 1036h2M2038 1015h2M1577 1016h2M2095 1116h2M1584 686h2M1711 931h2M2036 951h2M2048 1003h2M1920 591h2M1581 616h2M1687 804h2M2128 806h2M2083 698h2M1923 1100h2M1994 1026h2M2109 1062h2M2102 1093h2M1840 1030h2M2069 1116h2M1811 633h2M1605 853h2M1885 844h2M2093 758h2M1713 949h2M1652 703h2M2027 852h2M2019 927h2M1756 709h2M1628 570h2M2061 1098h2M1659 996h2M1963 703h2M1557 1029h2M1589 648h2M1686 1066h2M1627 1028h2M1846 622h2M1623 1067h2M1756 1097h2M1738 993h2M1715 793h2M2083 1123h2M1784 710h2M1774 595h2M1705 773h2M1645 823h2M1932 844h2M2075 683h2M2032 886h2M1798 1032h2M1915 1115h2M2128 566h2M1961 1079h2M1754 668h2M2106 820h2M1903 897h2M2067 953h2M1776 1045h2M1867 856h2M1993 822h2M1935 856h2M1679 921h2M1816 1064h2M1922 889h2M1966 1110h2M1683 905h2M1654 1123h2M2126 891h2M1840 701h2M2117 819h2M1579 827h2M2062 643h2M1769 1110h2M1819 967h2M1583 977h2M1976 1074h2M1647 658h2M1727 995h2M1821 820h2M1729 1120h2M1639 842h2M1744 1006h2M2070 1097h2M1877 1010h2M1626 794h2M1605 1070h2M1963 935h2M1933 605h2M2080 905h2M1602 708h2M2105 853h2M2065 945h2M1578 934h2M2055 643h2M1587 635h2M1905 966h2M2035 964h2M1568 1133h2M1958 702h2M2045 913h2M2032 634h2M1802 833h2M1835 1017h2M1600 657h2M1620 1003h2M1825 884h2M1589 1098h2M1742 1065h2M1904 588h2M1593 753h2M1940 723h2M2068 911h2M1882 626h2M1740 1089h2M1697 937h2M1633 1013h2M1707 736h2M1885 946h2M1857 963h2M1623 1125h2M1761 1081h2M1661 1103h2M2117 709h2M1829 781h2M1848 943h2M1849 1051h2M1838 618h2M2007 580h2M1725 649h2M2085 1133h2M1850 748h2M1915 718h2M1818 1028h2M2096 996h2M1832 750h2M2059 1043h2M2096 859h2M1925 786h2M1724 929h2M1624 862h2M2032 1094h2M1702 882h2M1934 598h2M1826 667h2M1670 826h2M2092 863h2M1669 1120h2M1581 816h2M1930 935h2M2123 796h2M1984 631h2M1792 696h2M1721 1076h2M1598 563h2M1659 767h2M2000 1113h2M1560 572h2M1692 966h2M1975 805h2M2003 1057h2M1710 672h2M1746 922h2M1986 616h2M1935 850h2M1954 1083h2M1734 876h2M1946 644h2M1649 745h2M2080 860h2M2061 858h2M2034 562h2M1807 903h2M1623 1020h2M2114 909h2M1612 1031h2M1770 994h2M1845 986h2M1668 640h2M1921 818h2M1567 571h2M1884 594h2M1750 599h2M1574 772h2M1561 844h2M1928 710h2M1707 995h2M2012 972h2M1877 1112h2M2001 1119h2M1677 1044h2M2030 958h2M1958 1071h2M1935 884h2M1757 761h2M2130 797h2M1838 888h2M1966 1051h2M2093 954h2M2114 754h2M1900 908h2M2111 883h2M2010 1030h2M1883 672h2M1718 1086h2M1717 567h2M1705 949h2M1715 873h2M2013 822h2M1685 968h2M1632 603h2M1660 1102h2M1627 1111h2M1789 662h2M2067 646h2M1629 994h2M1612 1066h2M1626 972h2M1600 924h2M1798 696h2M1997 1003h2M1673 587h2M1685 565h2M1630 598h2M1599 987h2M1860 1116h2M1734 784h2M2114 604h2M1925 1111h2M1992 1089h2M1688 819h2M2068 768h2M1667 743h2M1603 1086h2M2017 905h2M1858 867h2M1846 563h2M1913 656h2M2041 624h2M1858 932h2M2053 1117h2M1728 1097h2M1724 833h2M1707 1109h2M1896 560h2M1661 989h2M1581 615h2M1817 1014h2M1959 747h2M1970 661h2M1773 1091h2M1701 804h2M1815 801h2M2015 676h2M2031 736h2M1635 903h2M1950 850h2M1958 765h2M2129 905h2M2023 644h2M1972 643h2M2053 782h2M1589 800h2M1998 682h2M2069 1090h2M1588 1094h2M2094 613h2M1709 919h2M1889 609h2M1734 913h2M2123 1042h2M1991 665h2M1812 1023h2M1846 717h2M1842 729h2M1959 940h2M1934 811h2M1762 1016h2M1829 963h2M1988 561h2M1767 950h2M2060 876h2M1920 1125h2M1926 1095h2M1709 974h2M1727 882h2M1905 895h2M2095 1132h2M1602 1069h2M1631 694h2M2009 963h2M1634 859h2M1925 599h2M1750 1061h2M2030 1113h2M2008 719h2M1846 1009h2M1835 989h2M2095 1024h2M2068 952h2M1676 1128h2M1981 797h2M1638 1085h2M1803 713h2M1986 664h2M1687 564h2M1672 1073h2M1991 697h2M1669 912h2M2104 791h2M1867 832h2M1969 759h2M2037 1012h2M1576 669h2M2114 835h2M1969 618h2M2051 733h2M1595 977h2M1781 908h2M1936 1025h2M1666 978h2M1956 583h2M1852 661h2M2001 717h2M1655 982h2M1637 660h2M1982 1069h2M1852 1071h2M1595 773h2M2007 894h2M2088 591h2M1574 773h2M1633 717h2M1796 969h2M1915 718h2M1948 719h2M1979 603h2M2109 784h2M2062 847h2M1879 849h2M1820 1115h2M2063 765h2M1919 858h2M1974 949h2M1617 701h2M1805 832h2M2062 694h2M1908 980h2M1854 1022h2M1815 940h2M2079 660h2M1715 936h2M1864 812h2M1811 702h2M2091 876h2M1685 722h2M2111 598h2M1818 1081h2M1921 619h2M1828 744h2M2059 967h2M1750 813h2M1612 810h2M1816 924h2M1667 1075h2M1717 965h2M1582 1052h2M1685 1042h2M1863 920h2M1635 746h2M1644 1037h2M1591 769h2M1697 826h2M1744 1023h2M1996 594h2M2048 844h2M1716 1011h2M2075 842h2M1771 991h2M1982 1029h2M1795 678h2M1975 1009h2M1571 980h2M1580 1004h2M2087 825h2M2058 865h2M2024 865h2M2028 1050h2M1764 847h2M1768 943h2M1680 923h2M1900 1028h2M2122 871h2M1678 945h2M1913 767h2M1807 642h2M1877 635h2M1771 980h2M2120 933h2M1834 737h2M1920 1058h2M2032 798h2M1594 1107h2M2036 1055h2M1798 821h2M1997 573h2M1747 686h2M1810 1024h2M1706 940h2M1809 781h2M1937 867h2M2084 710h2M1620 689h2M1926 820h2M2014 798h2M1739 763h2M2116 696h2M1564 1084h2M1651 640h2M1646 869h2M2081 1072h2M1634 662h2M1610 672h2M1639 679h2M2075 1093h2M2048 1061h2M1997 977h2M1635 636h2M1683 772h2M1685 936h2M2123 620h2M1995 833h2M2129 1103h2M1630 1128h2M1787 1117h2M1801 1002h2M1755 617h2M1629 567h2M2107 977h2M1601 780h2M1745 1099h2M1889 1079h2M1587 685h2M1584 895h2M1909 687h2M2093 866h2M2033 583h2M1787 664h2M2011 1068h2M1793 884h2M1683 713h2M2001 601h2M1842 888h2M1747 879h2M1586 791h2M1797 895h2M1976 829h2M1972 798h2M1657 735h2M1738 1082h2M1955 659h2M1866 694h2M2108 1025h2M1785 1092h2M1901 810h2M1781 601h2M1888 680h2M2113 753h2M1587 897h2M1662 931h2M1989 654h2M1666 624h2M1667 807h2M1725 1084h2M1647 786h2M2027 696h2M1889 829h2M1718 806h2M1596 815h2M1867 631h2M1964 686h2M2104 1096h2M1953 1019h2M1854 1019h2M1780 661h2M2025 1005h2M1983 570h2M1968 740h2M1676 649h2M1748 584h2M1675 747h2M1823 731h2M2005 846h2M1860 1012h2M1746 641h2M1986 713h2M1920 1040h2M1609 694h2M1619 1025h2M2038 983h2M1820 896h2M1596 741h2M1956 695h2M1624 1102h2M2049 1060h2M1742 1041h2M1657 839h2M1915 661h2M1768 680h2M1667 828h2M1820 826h2M1575 877h2M2086 759h2M1971 1112h2M1603 636h2M1926 983h2M1668 636h2M1660 752h2M1565 936h2M1989 909h2M1609 1112h2M1877 1126h2M1811 759h2M2067 642h2M1719 1058h2M1598 579h2M1714 730h2M1939 663h2M1665 793h2M1735 1009h2M2047 872h2M1974 1041h2M1667 733h2M2096 932h2M1603 694h2M1818 921h2M1811 1011h2M1814 578h2M1561 853h2M2045 801h2M1793 602h2M1618 1133h2M1841 756h2M1680 1001h2M1933 1100h2M2060 1072h2M1854 585h2M1835 1073h2M1579 987h2M1821 1024h2M1896 566h2M1603 603h2M1751 724h2M1840 1032h2M1613 885h2M1655 844h2M1972 688h2M1610 655h2M1720 999h2M1857 590h2M2126 913h2M1964 703h2M2118 628h2M1868 785h2M1629 975h2M1767 675h2M1791 749h2M1725 953h2M2105 1087h2M1664 1003h2M1699 1054h2M2013 702h2M1842 571h2M2017 963h2M2060 969h2M1801 680h2M1765 821h2M2052 770h2M1843 1100h2M2004 999h2M1898 1098h2M1718 565h2M1911 862h2M2063 775h2M1745 796h2M1869 1034h2M1779 926h2M1833 630h2M1923 1133h2M1839 605h2M2043 715h2M2031 791h2M2015 991h2M1807 1047h2M1948 949h2M1948 686h2M1869 976h2M1932 1129h2M1637 763h2M2032 926h2M1800 1097h2M1929 862h2M2046 1016h2M1930 936h2M1794 773h2M1596 1019h2M1857 602h2M1611 577h2M2064 873h2M1937 724h2M1887 736h2M1735 862h2M1921 572h2M2081 890h2M1891 1081h2M1742 924h2M2117 1002h2M1655 806h2M1723 663h2M1839 766h2M1633 879h2M2089 951h2M1965 566h2M2122 772h2M1794 762h2M1930 735h2M1743 659h2M1768 1127h2M1879 626h2M1584 876h2M2081 1112h2M1588 1056h2M1823 565h2M1797 938h2M1618 656h2M1704 870h2M1667 738h2M2062 692h2M1733 1044h2M1592 771h2M2106 998h2M1792 616h2M1693 754h2M2131 749h2M1949 562h2M1677 702h2M1714 638h2M2111 1105h2M1669 630h2M1728 882h2M1865 932h2M1936 1061h2M1847 959h2M1914 1124h2M1668 755h2M1785 910h2M2130 625h2M1710 851h2M1606 1044h2M1807 959h2M1724 1096h2M1571 602h2M1924 791h2M2051 741h2M1839 776h2M2112 644h2M1775 1043h2M1729 982h2M1949 595h2M1978 668h2M1747 854h2M1964 594h2M1578 865h2M2125 827h2M1633 567h2M1618 1079h2M1861 977h2M2083 955h2M2100 615h2M1595 854h2M2086 1061h2M1857 863h2M1684 1056h2M1895 1012h2M1815 1109h2M1679 1111h2M2001 923h2M1982 928h2M1977 863h2M1845 1003h2M2073 832h2M1763 1108h2M1605 571h2M1903 764h2M1861 952h2M1931 1021h2M2032 827h2M1939 619h2M2126 702h2M1693 997h2M2130 860h2M2121 741h2M1977 867h2M1652 944h2M1967 1123h2M1646 818h2M1939 561h2M2005 824h2M1725 1059h2M1678 824h2M1726 700h2M2023 881h2M2094 1133h2M1925 666h2M1672 596h2M1674 759h2M2094 983h2M1961 823h2M2102 833h2M1936 799h2M1568 736h2M1845 1134h2M1962 911h2M2028 1106h2M1654 790h2M1838 1059h2M1679 771h2M2065 1108h2M1886 1054h2M1807 871h2M1653 926h2M1690 762h2M1652 852h2M1831 660h2M2025 669h2M1873 1045h2M1987 569h2M2010 777h2M1565 1122h2M1892 781h2M2017 1034h2M1698 613h2M1767 965h2M1911 609h2M1698 966h2M1747 966h2M2023 975h2M1875 1107h2M1606 714h2M1922 960h2M2044 699h2M1580 694h2M2019 645h2M2071 1103h2M1736 872h2M1678 620h2M1737 1126h2M1682 581h2M1749 797h2M1775 807h2M2044 867h2M2038 593h2M1997 1061h2M1715 635h2M1860 800h2M1641 737h2M1951 769h2M2058 571h2M1821 778h2M1781 905h2M1806 1080h2M1649 848h2M1593 776h2M1744 683h2M1725 712h2M1788 914h2M2028 636h2M1704 1040h2M1589 1101h2M2090 659h2M2035 798h2M1767 697h2M1589 1046h2M1978 909h2M1738 987h2M2047 661h2M1959 912h2M1955 729h2M1958 1120h2M1832 725h2M1744 910h2M1628 703h2M1783 648h2M1886 1033h2M1967 674h2M1756 896h2M2106 710h2M2010 772h2M1837 642h2M1960 824h2M1722 601h2M1779 987h2M1847 1121h2M1738 924h2M1615 853h2M1749 595h2M1677 1060h2M1766 845h2M1664 969h2M1581 1081h2M1686 895h2M1758 831h2M1682 1027h2M1685 943h2M1961 990h2M1879 921h2M1969 634h2M2044 1100h2M1754 1016h2M1626 646h2M1865 787h2M1686 877h2M2026 791h2M1995 823h2M2011 653h2M1623 712h2M1678 863h2M1584 942h2M1569 592h2M1613 595h2M1987 596h2M1696 596h2M1628 599h2M1586 594h2M2067 599h2M2115 598h2M1673 595h2M1565 593h2M1562 597h2M1563 594h2M1637 597h2M1692 596h2M2034 595h2M1803 598h2M1855 597h2M1663 597h2M2044 593h2M2014 598h2M1916 596h2M1916 600h2M1991 595h2M2020 595h2M1578 655h2M1578 656h2M1800 654h2M1886 657h2M1962 657h2M1731 656h2M1603 652h2M1949 655h2M2116 656h2M1665 656h2M1666 656h2M1665 657h2M1704 650h2M1630 652h2M1583 651h2M1803 656h2M1716 653h2M1772 659h2M1629 657h2M1697 651h2M1720 654h2M1642 650h2M2058 656h2M1863 658h2M2112 655h2M1696 670h2M2071 669h2M1759 670h2M2021 670h2M1870 670h2M1822 671h2M2029 668h2M2025 671h2M1712 670h2M2114 670h2M1676 671h2M1965 671h2M1592 670h2M2061 671h2M1579 670h2M2126 671h2M1930 668h2M1756 671h2M1638 670h2M1637 671h2M1638 672h2M1795 672h2M1723 668h2M1851 669h2M1851 669h2M1827 670h2M1704 671h2M2017 669h2M1866 669h2M1963 668h2M1959 670h2M1678 671h2M1990 671h2M1811 671h2M1931 671h2M1927 672h2M1605 672h2M1974 701h2M1878 701h2M1640 700h2M1860 699h2M1935 699h2M1889 698h2M2082 698h2M1867 699h2M1864 701h2M1950 742h2M1797 743h2M1931 741h2M1701 742h2M1583 744h2M2074 742h2M1732 745h2M1570 787h2M2065 788h2M1640 784h2M1791 788h2M1688 785h2M1620 788h2M1719 787h2M1721 786h2M1837 789h2M1959 786h2M2041 819h2M2042 816h2M1670 821h2M1676 815h2M1797 817h2M2028 819h2M2047 816h2M2095 817h2M1612 816h2M1693 817h2M2106 818h2M1611 817h2M1987 817h2M1836 816h2M2093 815h2M1846 818h2M1807 813h2M1810 818h2M2003 819h2M2100 817h2M1866 816h2M1667 818h2M1662 815h2M1845 816h2M1636 820h2M1583 814h2M1582 818h2M2085 821h2M1611 814h2M1622 816h2M1954 819h2M1973 817h2M1856 818h2M1788 819h2M1916 816h2M1869 818h2M1580 816h2M1679 815h2M2070 820h2M2072 816h2M1778 820h2M1924 816h2M1760 815h2M2093 819h2M1733 814h2M1842 815h2M2091 818h2M1728 819h2M1779 819h2M1965 813h2M1604 814h2M1749 815h2M1749 815h2M1601 818h2M1857 819h2M1879 817h2M1878 815h2M2001 818h2M1839 819h2M1844 819h2M1562 819h2M1894 816h2M1895 818h2M1569 819h2M1983 812h2M1663 819h2M1949 816h2M1757 818h2M1803 817h2M1667 819h2M1768 812h2M1715 821h2M1713 819h2M1688 817h2M1899 816h2M1805 957h2M1929 959h2M2073 959h2M1871 958h2M2045 957h2M2113 960h2M1871 956h2M1562 960h2M1749 961h2M1980 1010h2M1983 1014h2M2108 1011h2M1949 1012h2M1952 1011h2M1949 1013h2M1966 1014h2M1688 1012h2M1772 1010h2M1892 1011h2M2040 911h2M1999 912h2M1770 911h2M1957 911h2M1961 912h2M2033 911h2M1574 911h2M1582 911h2M2111 911h2M2097 912h2M1714 714h2M1963 713h2M2036 713h2M2124 713h2M1703 714h2M1909 714h2M1651 713h2M1946 713h2M1932 713h2M1637 714h2M2059 713h2M2123 713h2M1684 718h2M1657 719h2M1743 718h2M2076 719h2M1826 718h2M1662 719h2M1794 780h2M1825 779h2M1633 779h2M1618 778h2M2051 779h2M1970 779h2M2077 779h2M1790 779h2M1917 779h2M1773 779h2M1959 780h2M1741 779h2M1924 982h2M1679 983h2M1652 983h2M1567 983h2M1997 982h2M1945 983h2M2019 984h2M1826 984h2M2008 983h2M1858 638h2M1991 639h2M2029 637h2M1794 638h2M1939 638h2M2031 638h2M1924 639h2M1864 639h2M1650 601h2M1738 601h2M1640 601h2M1993 602h2M1744 601h2M1586 601h2M1572 601h2M2035 601h2M1636 602h2M1781 602h2M1915 601h2M1765 601h2M1596 601h2M2068 601h2M2071 602h2M1772 658h2M1938 658h2M1816 659h2M1627 658h2M1893 658h2M1917 658h2M1803 658h2M2015 657h2M1859 659h2M1699 658h2M1988 734h2M1995 733h2M1775 733h2M1816 733h2M1913 732h2M1617 732h2M1808 1046h2M2077 1047h2M1950 1047h2M1860 1047h2M1808 1049h2M1562 1047h2M1560 1046h2M1604 1047h2M2039 1048h2M1854 1047h2M1835 1110h2M2098 1109h2M2091 1108h2M1729 1108h2M1710 1109h2M1902 1109h2M1784 1108h2M1719 1108h2M1692 1108h2M1741 610h2M1806 610h2M1814 610h2M1814 610h2M1838 610h2M1839 609h2M1881 610h2M1963 610h2M2037 610h2M2039 611h2M1801 610h2M1743 609h2M1742 610h2M1581 610h2M1910 723h2M1888 724h2M1662 723h2M1710 724h2M1864 723h2M1777 722h2M2087 724h2M1770 723h2M1593 723h2M1622 723h2M1927 723h2M1902 723h2M1890 724h2M1719 724h2M1731 898h2M1782 897h2M1775 897h2M1869 898h2M1885 897h2M2006 896h2M2047 830h2M1709 830h2M1580 830h2M1678 568h2M1945 567h2M1585 568h2M1975 567h2M1972 567h2M2050 567h2M1849 567h2M1838 567h2M1832 567h2M1989 568h2M1885 567h2M1635 567h2M1889 566h2M2079 568h2M1558 567h2M1654 904h2M1574 905h2M1679 905h2M1780 905h2M1584 904h2M1607 904h2M2018 905h2M1888 775h2M1722 776h2M1728 775h2M1826 775h2M2038 775h2M1973 776h2M2117 774h2M1971 776h2M1900 776h2M1891 776h2M1713 775h2M2032 776h2M1689 1124h2M2007 1125h2M1918 1124h2M2093 1124h2M2055 1124h2M1695 1123h2M2054 1124h2M2003 1123h2M1696 1124h2M1964 897h2M1608 898h2M1857 897h2M1581 898h2M1991 897h2M1980 898h2M1791 896h2M1921 897h2M1863 898h2M1592 813h2M1917 814h2M1658 815h2M1697 813h2M1799 813h2M1939 814h2M1740 813h2M1791 813h2M1752 813h2M1564 813h2M1749 814h2M1752 813h2M1797 814h2M1733 815h2M2038 813h2M1862 851h2M1990 852h2M1775 852h2M1804 851h2M2108 851h2M1937 851h2M2102 852h2M2057 851h2M2128 851h2M2045 851h2M2067 852h2M1559 773h2M1886 774h2M1856 773h2M1808 773h2M1723 773h2M1581 773h2M2060 774h2M1686 773h2M1834 774h2M1608 773h2M2109 774h2M1660 773h2M2076 774h2M1742 772h2M1669 774h2M2077 773h2M1827 774h2M2043 773h2M1986 773h2M1595 774h2M1769 773h2M1607 774h2M2068 773h2M2081 656h2M1577 655h2M1964 655h2M2118 655h2M2083 656h2M2119 656h2M1904 655h2M1781 655h2M1700 655h2M2063 655h2M1960 655h2M1676 938h2M2026 939h2M1908 939h2M1621 939h2M2000 939h2M1998 939h2M2091 939h2M1890 938h2M1781 940h2M1936 939h2M1601 938h2M1725 940h2M2129 577h2M1807 576h2M1698 577h2M1649 576h2M1742 577h2M1925 577h2M1568 577h2M2019 577h2M1683 577h2M1961 577h2M2119 576h2M1943 577h2M1998 576h2M2128 576h2M1844 577h2M1639 576h2M1888 576h2M1927 577h2M1964 794h2M2026 794h2M2067 794h2M1677 794h2M2073 794h2M2088 794h2M1625 794h2M1712 793h2M1926 792h2M1760 794h2M1861 794h2M2125 1084h2M2011 1084h2M2078 1085h2M1856 1085h2M1644 1085h2M2003 1084h2M2074 1085h2M1813 1085h2M1727 1085h2M2057 1085h2M1879 1085h2M2026 1084h2M1874 1084h2M1870 778h2M1895 777h2M2055 778h2M1560 778h2M2020 779h2M1941 777h2M1843 778h2M1857 778h2M1955 777h2M1616 778h2M1872 925h2M1742 925h2M1713 926h2M1926 925h2M1972 925h2" stroke="#135a16" stroke-width="2" stroke-opacity="0.72" fill="none"/>
<path d="M1957 944h2M1720 1015h2M1947 858h2M1833 853h2M2119 807h2M1570 984h2M1560 995h2M2032 919h2M2027 686h2M2096 622h2M2038 1133h2M1868 644h2M1793 764h2M1909 585h2M1559 800h2M2102 931h2M1912 1057h2M1615 613h2M1998 791h2M1758 858h2M2044 979h2M1801 976h2M1707 688h2M1843 1090h2M1767 624h2M1571 929h2M1789 638h2M1793 600h2M1708 1087h2M1696 928h2M1995 889h2M1846 619h2M2079 826h2M1855 649h2M2028 664h2M1801 594h2M2126 833h2M1602 862h2M1613 570h2M1995 833h2M1727 791h2M1594 1083h2M2096 974h2M2085 758h2M1837 751h2M1844 768h2M2079 654h2M1812 949h2M1741 1093h2M1895 678h2M1631 741h2M1851 600h2M1640 807h2M1986 961h2M1796 971h2M1959 1013h2M2076 571h2M1667 1015h2M1557 868h2M1718 788h2M1989 600h2M1656 880h2M1774 623h2M1999 771h2M1679 1006h2M1792 902h2M2083 1075h2M1747 1106h2M1813 995h2M1787 1116h2M1900 1105h2M1746 953h2M1887 713h2M1738 811h2M1861 762h2M1817 613h2M1687 783h2M1706 896h2M1934 826h2M1924 1066h2M1778 566h2M1656 1006h2M1740 1052h2M2024 1035h2M1603 779h2M1735 1011h2M1751 714h2M1997 1105h2M1581 872h2M2095 609h2M1992 640h2M1806 638h2M1939 857h2M1572 868h2M1631 1025h2M1667 750h2M2049 662h2M1739 995h2M1761 740h2M1783 1082h2M2057 757h2M2076 921h2M1831 773h2M2035 780h2M1985 933h2M1909 995h2M1670 713h2M1842 1115h2M1715 1005h2M1945 568h2M1838 976h2M2055 1062h2M1817 816h2M1750 833h2M1558 1120h2M1582 666h2M1939 635h2M1914 776h2M2011 1098h2M2001 746h2M1862 873h2M1907 831h2M1941 708h2M2087 1116h2M2074 621h2M1910 880h2M1820 614h2M2125 649h2M1599 1132h2M1589 622h2M1655 952h2M1666 723h2M2058 809h2M2044 649h2M1656 780h2M1682 931h2M1946 690h2M1831 848h2M1631 896h2M2034 963h2M1668 725h2M1879 858h2M1684 765h2M1925 880h2M1991 848h2M2067 648h2M1625 928h2M1694 730h2M1862 893h2M1736 863h2M1589 1131h2M1992 672h2M1846 1071h2M1856 865h2M1911 990h2M1734 729h2M1911 1020h2M2050 1065h2M2113 863h2M1868 921h2M1879 582h2M1942 922h2M2053 842h2M1715 659h2M2069 622h2M1882 1104h2M1557 885h2M1644 591h2M2094 764h2M1604 769h2M1821 799h2M1584 1132h2M1696 816h2M1896 1058h2M1617 940h2M1968 861h2M1990 772h2M2105 603h2M1601 653h2M1642 996h2M1864 1130h2M1559 826h2M1735 670h2M1597 786h2M1789 886h2M2126 623h2M2012 944h2M1586 980h2M1915 794h2M1870 707h2M1808 1019h2M1975 907h2M1788 1069h2M1703 1081h2M1683 804h2M1805 702h2M1753 709h2M1857 1065h2M2100 741h2M1648 895h2M2014 1103h2M1562 1082h2M1918 1114h2M2058 928h2M1757 1011h2M2033 597h2M1670 634h2M1612 1065h2M1882 722h2M2025 577h2M1927 1060h2M2097 732h2M1557 914h2M1779 690h2M1977 877h2M1607 589h2M1792 898h2M1962 758h2M2045 974h2M2090 853h2M2091 808h2M1667 891h2M1789 693h2M1641 840h2M1709 651h2M1700 660h2M1942 565h2M2019 576h2M1666 966h2M1808 618h2M1603 928h2M1889 1108h2M1665 590h2M1596 1105h2M1614 620h2M1876 851h2M1606 664h2M1795 1007h2M2036 899h2M1983 626h2M1898 810h2M1761 605h2M1944 869h2M1900 583h2M1816 762h2M2023 791h2M1804 922h2M1739 698h2M1984 703h2M1955 734h2M1878 862h2M1995 738h2M1801 741h2M2016 785h2M1828 962h2M1928 819h2M1604 996h2M1875 727h2M2026 702h2M2016 942h2M1983 822h2M1641 667h2M1653 719h2M1867 1126h2M1770 796h2M1649 748h2M1779 710h2M2093 829h2M1794 654h2M1865 720h2M1787 604h2M1683 887h2M1652 1054h2M1643 628h2M1853 871h2M1631 863h2M1818 670h2M1882 1024h2M1848 707h2M1587 911h2M1774 583h2M1723 819h2M1820 785h2M1828 667h2M1724 1126h2M1998 755h2M1689 572h2M1722 1081h2M1938 760h2M1743 781h2M1843 599h2M2045 570h2M1849 605h2M2036 693h2M2041 848h2M1751 624h2M1866 623h2M1939 1125h2M1971 923h2M1675 683h2M1738 792h2M1860 1049h2M1752 656h2M1837 1019h2M1737 908h2M1973 1134h2M1662 775h2M2002 1038h2M2022 1104h2M1995 622h2M1918 805h2M1948 952h2M1651 696h2M2029 714h2M1976 801h2M2039 806h2M1851 1002h2M1601 918h2M2039 960h2M2009 823h2M1739 597h2M2106 1017h2M1808 1083h2M1855 588h2M2014 1119h2M1885 562h2M1608 765h2M1963 947h2M1592 572h2M2009 980h2M1775 804h2M1900 876h2M1620 968h2M1891 605h2M1776 972h2M1577 822h2M1627 744h2M1730 1131h2M1800 996h2M1855 679h2M1723 1008h2M2112 1019h2M2048 902h2M1740 592h2M2052 686h2M2098 955h2M1562 802h2M2041 873h2M1818 905h2M1738 600h2M2069 1015h2M1965 1001h2M1879 824h2M1563 1023h2M1898 619h2M2080 1111h2M1878 1110h2M1705 1063h2M1948 706h2M1939 950h2M2060 784h2M1785 983h2M2013 919h2M1627 910h2M1684 915h2M1632 855h2M2070 917h2M1891 684h2M1832 677h2M1862 575h2M1879 585h2M1818 861h2M1811 888h2M2018 774h2M1733 645h2M1590 725h2M2057 1113h2M1933 892h2M1812 712h2M1783 998h2M2082 1099h2M1824 834h2M2036 699h2M1789 829h2M2019 561h2M1950 735h2M2032 671h2M1951 619h2M1851 567h2M2000 829h2M2118 597h2M1830 938h2M1644 706h2M1641 1053h2M2112 646h2M1970 786h2M1886 647h2M1804 563h2M2033 956h2M1850 592h2M1735 621h2M1826 734h2M2030 576h2M1945 585h2M1922 675h2M1965 946h2M1858 1078h2M1842 974h2M2068 671h2M1969 599h2M1909 694h2M1567 781h2M2122 687h2M1600 770h2M1762 1048h2M1683 591h2M1665 706h2M1684 986h2M1579 711h2M1767 948h2M1609 1132h2M1795 1020h2M1743 965h2M2001 1058h2M1916 722h2M2089 886h2M1780 593h2M2055 774h2M1899 1050h2M1600 583h2M1893 1065h2M1846 954h2M1746 773h2M2015 737h2M1972 588h2M2085 668h2M1768 862h2M1938 1131h2M1582 625h2M1739 659h2M1926 943h2M1752 638h2M2093 1077h2M1636 862h2M1716 633h2M1649 876h2M1769 1004h2M1999 977h2M1844 1125h2M2039 786h2M2034 1047h2M2006 948h2M1924 946h2M1561 700h2M2101 858h2M2099 876h2M1822 731h2M1853 718h2M1840 840h2M2056 880h2M1913 737h2M1837 1043h2M2131 834h2M1675 1104h2M1807 1030h2M1774 722h2M1666 1058h2M1666 701h2M1845 726h2M1671 563h2M1878 894h2M1681 654h2M1951 637h2M1969 739h2M1682 734h2M1824 1004h2M1719 1024h2M1870 870h2M1569 620h2M1852 768h2M2063 987h2M1741 1073h2M1621 583h2M1568 829h2M1852 903h2M1688 1044h2M1966 629h2M1740 992h2M1681 999h2M2020 584h2M1570 686h2M1755 962h2M1985 668h2M1913 776h2M1763 1069h2M1807 748h2M1835 641h2M1598 590h2M1719 991h2M1845 781h2M2091 585h2M2066 564h2M1957 809h2M1717 852h2M1823 696h2M2051 1055h2M1683 599h2M1920 868h2M1803 650h2M1646 750h2M1916 700h2M2081 812h2M1649 596h2M1803 821h2M1674 781h2M1655 561h2M1846 852h2M2015 863h2M1998 818h2M1693 940h2M1999 626h2M2104 1038h2M2034 583h2M1885 931h2M1810 875h2M1976 1021h2M2061 678h2M1654 988h2M1798 598h2M1600 1029h2M1602 662h2M1934 692h2M2045 990h2M1704 938h2M1949 885h2M1812 575h2M1634 1009h2M2096 762h2M2027 616h2M1684 1104h2M1852 611h2M1923 979h2M1609 1098h2M1703 1098h2M1622 596h2M1611 803h2M1623 721h2M1579 565h2M1720 1032h2M1763 914h2M1636 649h2M1700 875h2M2032 937h2M2013 1036h2M1620 970h2M1722 1026h2M1776 1039h2M1974 1104h2M1800 835h2M1606 944h2M1805 568h2M2075 743h2M1650 767h2M1902 806h2M2122 800h2M1847 831h2M1638 1008h2M1795 1130h2M1796 908h2M2020 775h2M1930 1078h2M1628 857h2M1786 599h2M1791 691h2M2036 755h2M1811 717h2M2045 768h2M1781 1090h2M2043 860h2M1599 693h2M2047 1129h2M1887 765h2M2095 734h2M1870 943h2M1767 738h2M1657 914h2M1943 1053h2M1808 614h2M1826 566h2M2059 1068h2M1813 1068h2M1579 892h2M1683 966h2M1671 632h2M2001 986h2M1739 598h2M2095 764h2M1661 932h2M1988 888h2M1580 1083h2M1977 718h2M2090 827h2M1918 841h2M1854 790h2M2126 628h2M1760 596h2M2094 973h2M2018 1091h2M1780 1109h2M1645 1085h2M2038 863h2M1993 750h2M2058 1008h2M1705 783h2M1928 919h2M1958 991h2M1807 741h2M1600 607h2M1919 1084h2M1647 566h2M2022 1050h2M1589 1022h2M2049 1021h2M1681 858h2M1699 700h2M2069 618h2M1884 938h2M1998 730h2M1986 918h2M2131 806h2M1779 642h2M1801 1096h2M1853 1133h2M2070 1053h2M1684 1079h2M1954 929h2M1884 741h2M2126 990h2M1759 985h2M1783 833h2M1705 828h2M1916 974h2M1613 822h2M2064 832h2M1697 865h2M1981 1052h2M1632 682h2M1690 1026h2M1684 828h2M1569 636h2M1949 1026h2M1773 1015h2M1579 853h2M1706 1027h2M1648 1039h2M1917 700h2M1872 1132h2M1980 691h2M1688 729h2M2027 761h2M1677 747h2M1914 1133h2M2011 641h2M2053 1047h2M1576 623h2M1785 944h2M1800 808h2M2095 886h2M2011 1062h2M1948 824h2M1607 835h2M1672 785h2M2109 1060h2M1812 701h2M1680 1107h2M2077 941h2M1965 980h2M2023 1115h2M1855 1134h2M2011 1029h2M1772 1026h2M1695 631h2M1890 843h2M1936 854h2M1912 1055h2M1849 947h2M1981 650h2M1607 920h2M2017 1001h2M1970 1118h2M1841 1117h2M1566 1065h2M1965 652h2M1853 793h2M1805 922h2M1616 753h2M1568 1052h2M1955 1089h2M1852 613h2M1696 968h2M1827 1073h2M1557 561h2M1894 864h2M1831 645h2M1909 978h2M1853 921h2M1918 1066h2M1567 687h2M2057 744h2M1645 1089h2M1960 951h2M2050 836h2M2129 837h2M1963 847h2M1940 796h2M2126 1045h2M2044 1067h2M1647 1051h2M1827 589h2M1967 656h2M2097 1026h2M1746 1005h2M2028 1050h2M1907 580h2M1806 912h2M2015 1012h2M2087 586h2M2003 1103h2M1996 886h2M1690 1003h2M1611 1028h2M1656 749h2M1709 566h2M1855 844h2M1724 609h2M1803 678h2M1681 623h2M1729 902h2M1624 844h2M1817 605h2M1592 988h2M1751 623h2M1930 733h2M1706 887h2M1724 719h2M2050 909h2M1587 1079h2M2118 585h2M1900 1002h2M2061 1081h2M1927 580h2M1751 628h2M1672 1022h2M1673 1006h2M2078 1097h2M2116 1009h2M1755 703h2M1888 594h2M1591 597h2M1589 595h2M1591 598h2M1826 593h2M1785 596h2M1836 597h2M1838 596h2M1992 596h2M1990 595h2M1773 596h2M1616 596h2M1849 597h2M1845 598h2M1968 596h2M1692 597h2M1586 595h2M1774 598h2M1988 589h2M1986 596h2M1815 593h2M1796 603h2M1799 597h2M1603 596h2M2012 594h2M1698 598h2M1697 599h2M2034 594h2M2038 598h2M2040 595h2M1851 594h2M2049 595h2M1652 598h2M1803 597h2M1859 595h2M1713 594h2M2015 595h2M1687 595h2M1911 598h2M2066 600h2M2092 600h2M1777 596h2M1828 592h2M1953 595h2M1921 600h2M1924 595h2M1744 596h2M1804 596h2M1805 597h2M2003 592h2M1761 653h2M1602 652h2M1732 653h2M1825 655h2M1972 657h2M1604 658h2M1605 654h2M1770 654h2M1867 652h2M1919 656h2M1922 660h2M1849 657h2M1929 660h2M1578 651h2M1581 659h2M1582 656h2M1760 651h2M1634 653h2M1703 658h2M1694 657h2M1693 658h2M1695 655h2M1632 656h2M2056 656h2M1790 657h2M2060 658h2M1583 657h2M2008 661h2M1590 660h2M1591 656h2M1802 650h2M1999 653h2M1996 655h2M2093 652h2M2097 654h2M1717 662h2M1962 658h2M1963 660h2M2077 648h2M1628 656h2M2131 660h2M1728 655h2M1732 657h2M1596 658h2M1671 653h2M1669 663h2M1758 653h2M1961 654h2M1581 654h2M1577 653h2M1794 653h2M1925 650h2M2076 670h2M2077 670h2M1893 670h2M2075 670h2M2030 669h2M1643 669h2M1722 671h2M1592 670h2M2117 670h2M1961 669h2M1618 672h2M1760 671h2M1761 670h2M1662 671h2M1801 669h2M1969 668h2M1730 671h2M1728 671h2M1803 672h2M2059 670h2M1902 670h2M1966 670h2M1588 669h2M2061 669h2M1592 671h2M1951 670h2M1581 669h2M1718 668h2M1921 671h2M2130 671h2M1782 669h2M1932 669h2M1819 669h2M1850 668h2M1806 672h2M1705 668h2M1597 672h2M1708 668h2M1795 670h2M1723 668h2M1721 671h2M1854 669h2M1828 670h2M1707 671h2M2120 669h2M1773 671h2M1845 670h2M1591 671h2M1965 669h2M2086 668h2M2101 671h2M1599 671h2M1600 672h2M2018 670h2M1866 668h2M1864 670h2M1588 670h2M1765 671h2M1679 670h2M2018 669h2M1990 667h2M1986 671h2M1628 669h2M1612 669h2M1899 670h2M1900 671h2M2044 669h2M2046 669h2M1732 668h2M1721 671h2M1745 671h2M1979 698h2M2082 702h2M1614 700h2M1616 700h2M1684 700h2M1681 702h2M2106 696h2M1581 703h2M1735 696h2M1930 700h2M1931 700h2M1997 703h2M1627 700h2M1967 698h2M1721 699h2M1620 700h2M1921 701h2M1700 698h2M1764 698h2M1822 699h2M1751 701h2M1749 701h2M1753 701h2M1801 700h2M1800 701h2M1799 700h2M1910 700h2M1640 744h2M1796 742h2M1796 740h2M1675 742h2M1672 742h2M1932 746h2M1931 743h2M1986 744h2M1699 744h2M1700 744h2M1925 741h2M1708 744h2M1913 742h2M2131 742h2M2127 748h2M2130 742h2M1587 746h2M1815 742h2M1747 742h2M1579 744h2M1581 748h2M1657 744h2M1657 741h2M1561 741h2M2086 787h2M2088 788h2M1646 788h2M2061 789h2M1819 787h2M1579 786h2M1698 786h2M1671 786h2M1667 783h2M1925 786h2M1929 786h2M1615 789h2M1719 790h2M1837 788h2M1619 789h2M1656 788h2M1961 787h2M1579 788h2M1580 788h2M2104 816h2M1672 816h2M1672 818h2M1779 821h2M1710 818h2M1604 821h2M1779 815h2M1959 819h2M1963 817h2M1959 814h2M1798 816h2M1994 817h2M1613 814h2M2029 818h2M2046 821h2M2047 818h2M1967 818h2M2055 816h2M1698 819h2M2110 821h2M1871 818h2M1596 820h2M1987 817h2M1848 816h2M1748 819h2M1751 818h2M2041 818h2M2039 819h2M2037 816h2M1810 816h2M1805 816h2M1642 815h2M2007 817h2M1885 822h2M1887 817h2M2038 816h2M1808 816h2M2109 819h2M1813 815h2M2001 818h2M1651 819h2M1736 816h2M1580 816h2M1984 818h2M1588 815h2M2080 817h2M1841 816h2M1595 814h2M1797 816h2M2031 818h2M1865 818h2M1914 814h2M1919 816h2M1876 819h2M1685 819h2M1816 821h2M1815 820h2M1816 817h2M1925 814h2M1928 816h2M1760 817h2M2089 820h2M2090 819h2M1756 817h2M1725 816h2M2091 816h2M1730 815h2M1710 818h2M1615 818h2M1806 820h2M1605 816h2M1655 818h2M1953 819h2M1835 818h2M1658 818h2M1853 819h2M1647 817h2M1649 817h2M1568 817h2M1750 818h2M1826 817h2M1828 821h2M1890 817h2M1879 817h2M1623 814h2M1981 818h2M1944 817h2M1957 818h2M1754 817h2M1843 818h2M1803 821h2M1681 814h2M1801 815h2M1804 817h2M2066 817h2M2061 817h2M1962 820h2M1853 819h2M1856 816h2M1719 817h2M2116 815h2M1901 817h2M1898 815h2M1973 814h2M1706 816h2M1707 816h2M1743 817h2M1747 815h2M1893 817h2M1893 814h2M1894 819h2M1846 956h2M1939 960h2M1877 959h2M2096 954h2M2017 957h2M1716 957h2M1717 959h2M1949 956h2M1871 956h2M2117 959h2M1750 960h2M1751 961h2M2127 960h2M2023 955h2M1971 956h2M2058 959h2M1979 961h2M1977 957h2M1596 1013h2M1594 1011h2M2129 1011h2M1591 1015h2M1772 1013h2M1695 1011h2M1697 1012h2M1698 1011h2M2056 1008h2M2052 1008h2M1580 1011h2M1577 1012h2M2112 1012h2M1966 1016h2M1719 1011h2M2032 1012h2M2037 1012h2M2033 1009h2M1845 1012h2M1817 1009h2M1806 1013h2M1810 1009h2M1741 1014h2M1740 1010h2M1740 1013h2M1868 1012h2M1898 1014h2M1578 911h2M1584 912h2M1644 911h2M1685 911h2M1733 911h2M2117 911h2M1989 911h2M1781 911h2M1839 912h2M1770 912h2M2014 714h2M2104 714h2M2112 713h2M1581 714h2M2010 714h2M1645 713h2M1602 713h2M2026 714h2M1587 718h2M1814 719h2M2009 719h2M1983 779h2M1919 778h2M2058 780h2M2105 779h2M2015 779h2M1584 779h2M1738 779h2M2043 779h2M2051 983h2M1558 983h2M1671 982h2M1622 983h2M1682 983h2M1824 983h2M1884 983h2M1818 983h2M1749 984h2M1843 984h2M2125 983h2M1814 983h2M1869 638h2M1649 638h2M1978 638h2M1778 639h2M1636 637h2M1778 639h2M1598 638h2M2093 639h2M1584 638h2M1830 639h2M2129 639h2M1672 601h2M2091 602h2M1901 602h2M1881 602h2M1734 600h2M2044 601h2M1702 602h2M1853 601h2M1771 602h2M2000 602h2M1802 602h2M1865 601h2M1807 601h2M2130 601h2M1743 601h2M1721 602h2M1703 659h2M1596 659h2M1933 658h2M1921 659h2M1609 658h2M1560 658h2M1715 658h2M1694 658h2M2089 659h2M1830 659h2M1840 658h2M1885 658h2M1600 658h2M1867 658h2M1561 659h2M1660 733h2M1913 734h2M1592 734h2M1879 734h2M1730 734h2M1835 733h2M1747 734h2M2120 734h2M1889 1047h2M1615 1047h2M1751 1048h2M2041 1047h2M1600 1048h2M1734 1047h2M2031 1047h2M1788 1047h2M1878 1046h2M1800 1107h2M1928 1108h2M1871 1109h2M1835 1108h2M2035 1108h2M1581 1108h2M1638 1109h2M1730 1108h2M1632 1109h2M1929 1108h2M2070 1109h2M1757 1109h2M1847 1108h2M1597 610h2M1748 610h2M1862 609h2M1822 609h2M1841 610h2M2008 610h2M1764 610h2M1690 610h2M2095 609h2M1811 610h2M1815 611h2M1756 723h2M1827 723h2M1780 723h2M2104 723h2M1704 722h2M1939 724h2M1899 724h2M2109 723h2M1870 724h2M1664 722h2M1748 724h2M1787 724h2M1835 896h2M1712 898h2M1969 897h2M1617 897h2M1888 897h2M2016 897h2M1702 897h2M2035 897h2M1863 897h2M1595 829h2M1668 830h2M2000 830h2M1875 829h2M2042 830h2M1710 829h2M1664 830h2M2099 829h2M2030 830h2M2125 829h2M1563 829h2M1791 567h2M2124 567h2M1829 567h2M1993 567h2M1716 567h2M2015 567h2M2054 567h2M1689 567h2M1573 904h2M1726 904h2M1789 904h2M1681 905h2M1926 905h2M1857 905h2M1937 904h2M1563 776h2M1611 776h2M2049 776h2M1913 775h2M1967 775h2M2113 776h2M2124 776h2M1769 774h2M1718 776h2M1834 775h2M2048 775h2M1963 776h2M1845 776h2M1771 775h2M1643 1124h2M1842 1124h2M1842 1123h2M1640 1123h2M1622 1124h2M1712 1124h2M2018 1123h2M1615 1125h2M2044 1124h2M1999 1124h2M1603 1123h2M1793 1124h2M2096 1124h2M1965 897h2M2041 897h2M1709 896h2M1799 897h2M1563 897h2M1685 897h2M1644 897h2M1672 896h2M1716 898h2M1631 897h2M1586 897h2M1903 897h2M1927 813h2M2021 814h2M1998 813h2M1869 813h2M2122 814h2M1673 813h2M1662 851h2M1704 851h2M2065 851h2M1825 851h2M2048 851h2M1636 851h2M1558 851h2M2040 773h2M2076 773h2M1898 774h2M2010 773h2M1909 774h2M1817 774h2M2026 773h2M1618 773h2M1827 656h2M1806 654h2M2021 656h2M1601 655h2M1974 655h2M2058 655h2M1660 940h2M1571 940h2M1814 939h2M1912 939h2M2130 938h2M2012 939h2M1716 939h2M1924 577h2M1566 576h2M1801 576h2M1584 577h2M1708 576h2M1902 578h2M1982 578h2M2126 794h2M1931 794h2M1914 794h2M2088 794h2M1763 794h2M1647 794h2M1931 793h2M2032 794h2M1900 794h2M2000 1084h2M1726 1085h2M1606 1085h2M1919 1084h2M1700 1086h2M2109 1085h2M2064 1085h2M1870 1085h2M2125 1084h2M1908 1084h2M1617 1086h2M1795 778h2M1802 777h2M1602 777h2M2093 779h2M2061 777h2M1728 778h2M1816 778h2M1967 925h2M2035 926h2M1854 926h2M2089 926h2M1898 926h2M1590 925h2M1753 926h2M1651 925h2M2095 926h2M2030 925h2M1817 925h2M1945 926h2M1885 926h2" stroke="#3cc44e" stroke-width="2" stroke-opacity="0.72" fill="none"/>
<path d="M1755 1036h2M1760 1003h2M2036 1006h2M1591 651h2M2055 703h2M1932 742h2M1786 932h2M1985 775h2M1827 849h2M1965 1056h2M1871 925h2M1655 987h2M1942 613h2M1841 685h2M2027 1016h2M1878 1080h2M1574 696h2M1867 940h2M2111 944h2M1877 1062h2M1619 652h2M1872 629h2M1929 582h2M2049 899h2M1764 1060h2M1857 910h2M1990 875h2M1992 1110h2M2035 689h2M1578 813h2M1643 694h2M1826 636h2M1814 898h2M1649 683h2M1721 870h2M1590 751h2M1651 626h2M1985 776h2M1939 708h2M2033 1081h2M1583 987h2M1710 564h2M1610 618h2M1660 614h2M1779 603h2M1714 929h2M1875 1097h2M1800 1033h2M1727 853h2M1558 1032h2M1608 843h2M1940 1027h2M1939 875h2M2122 996h2M1940 881h2M2040 578h2M1760 731h2M1881 837h2M1668 901h2M1681 924h2M2075 1121h2M1759 1101h2M1754 921h2M1951 835h2M1690 954h2M1636 871h2M1798 976h2M2067 895h2M1633 718h2M2008 960h2M1879 647h2M2125 618h2M1978 861h2M1675 665h2M1747 746h2M2011 942h2M1702 839h2M1567 638h2M1764 847h2M1794 928h2M1773 1065h2M1595 1120h2M1602 1126h2M1852 822h2M1873 920h2M1619 634h2M1863 953h2M2089 978h2M1888 1114h2M1581 766h2M1709 1117h2M2061 711h2M1873 695h2M2003 842h2M2013 1092h2M1683 955h2M1722 1080h2M1928 1072h2M2122 1080h2M1633 948h2M2065 652h2M1847 1076h2M2062 675h2M1817 1117h2M1636 1006h2M1585 566h2M1707 615h2M1905 1015h2M2079 1108h2M1883 717h2M1609 734h2M1813 1032h2M1757 651h2M2063 867h2M2024 645h2M1603 961h2M1815 608h2M1896 649h2M2097 775h2M2091 918h2M1683 1070h2M2098 1131h2M1863 734h2M2091 870h2M1602 767h2M2006 564h2M1587 649h2M2111 1132h2M1884 665h2M1935 1009h2M1676 778h2M1676 1112h2M1802 1086h2M2115 792h2M1875 1125h2M1976 1023h2M2011 886h2M1786 1087h2M2080 562h2M1900 840h2M1628 806h2M1894 989h2M2011 1079h2M2073 1027h2M2041 830h2M2053 711h2M1988 763h2M2125 891h2M1952 719h2M1814 1024h2M1861 1050h2M1706 739h2M1802 718h2M1596 849h2M2038 916h2M1812 580h2M1905 740h2M1801 957h2M2002 878h2M1615 670h2M1654 1095h2M2071 730h2M1654 973h2M1635 762h2M1889 1041h2M1683 580h2M2102 849h2M1968 692h2M2077 892h2M1981 832h2M1937 594h2M1968 654h2M1785 611h2M1600 774h2M1702 708h2M1780 733h2M1626 578h2M1628 1020h2M1624 841h2M2053 674h2M1747 615h2M1673 596h2M1844 655h2M1776 1023h2M1853 1109h2M1626 590h2M1577 1064h2M1837 1083h2M1814 843h2M1768 846h2M1686 896h2M1809 1101h2M1701 894h2M1656 1066h2M1622 1007h2M1673 1047h2M2025 1097h2M2082 678h2M1866 757h2M1708 1035h2M1642 603h2M1557 753h2M2050 1062h2M2012 705h2M1653 846h2M1860 763h2M1782 1032h2M1607 617h2M1913 690h2M1705 812h2M1638 689h2M2021 592h2M1865 710h2M2041 690h2M1593 1021h2M1798 598h2M1993 897h2M1895 800h2M1592 818h2M1853 585h2M1561 633h2M2060 947h2M2036 814h2M1667 679h2M1666 823h2M1733 1032h2M2048 1026h2M1705 659h2M1894 844h2M2021 908h2M2025 567h2M1714 593h2M1836 751h2M1913 1009h2M1589 988h2M1853 793h2M1610 1131h2M1593 724h2M1679 1086h2M1749 781h2M1936 831h2M1824 979h2M1979 941h2M1665 968h2M1917 678h2M1621 1029h2M1753 1021h2M1947 660h2M1586 820h2M1600 1057h2M1618 780h2M2126 891h2M1621 875h2M1707 711h2M1978 1045h2M1642 697h2M1810 844h2M1950 1098h2M1932 1132h2M2031 1092h2M1818 775h2M1907 1085h2M2089 921h2M1593 602h2M2102 1058h2M1623 1115h2M1884 1013h2M1940 861h2M1713 715h2M1794 894h2M2096 1009h2M2035 768h2M1600 775h2M2104 1116h2M1691 1097h2M1947 993h2M1985 613h2M1689 903h2M1706 795h2M1586 841h2M1627 1073h2M1825 885h2M1850 1065h2M1900 641h2M1643 585h2M1950 837h2M2059 978h2M1568 901h2M1932 607h2M2085 1018h2M2057 564h2M1817 1045h2M1738 589h2M2127 927h2M1705 778h2M2059 1061h2M1744 939h2M1934 1084h2M2052 641h2M2064 808h2M1878 1067h2M1635 1130h2M1601 776h2M1679 657h2M1642 1048h2M2093 1086h2M1923 933h2M1590 1059h2M2041 1033h2M1941 618h2M1724 661h2M1617 820h2M1918 994h2M1803 568h2M2021 970h2M1637 1123h2M1637 988h2M1754 1015h2M1635 1087h2M1867 825h2M1785 804h2M1573 1093h2M2072 1047h2M1882 724h2M1896 773h2M1725 589h2M2070 1118h2M1831 817h2M1709 773h2M2090 1111h2M1839 1033h2M1607 783h2M1952 1090h2M1912 1010h2M2060 1015h2M1999 646h2M1631 744h2M1862 593h2M1784 789h2M1933 666h2M1796 1020h2M2019 672h2M1694 804h2M1796 723h2M1728 1035h2M1777 825h2M1764 600h2M1931 911h2M2101 943h2M1971 815h2M2014 1117h2M1696 770h2M1838 908h2M1900 934h2M1743 720h2M1609 972h2M1589 740h2M1831 943h2M1605 666h2M1712 812h2M1658 609h2M1820 1095h2M1748 950h2M1748 707h2M1662 841h2M2017 1103h2M1565 839h2M1727 1073h2M1566 956h2M1620 878h2M2050 965h2M1708 682h2M1575 930h2M1930 1113h2M1565 1054h2M1834 733h2M1742 896h2M1749 961h2M2098 896h2M1611 910h2M2126 921h2M2026 1119h2M1751 982h2M1643 814h2M2073 1098h2M1720 931h2M1953 662h2M1573 933h2M1961 993h2M1582 592h2M2107 569h2M2119 687h2M1639 714h2M1614 632h2M2113 587h2M2078 922h2M1597 627h2M1763 759h2M1568 681h2M1684 639h2M1869 817h2M2015 631h2M1602 878h2M1978 652h2M1708 931h2M1701 629h2M1997 1117h2M1833 695h2M1884 579h2M1567 785h2M1622 704h2M2005 1080h2M1660 590h2M1730 1039h2M1788 735h2M2052 1105h2M2039 848h2M2098 721h2M1836 895h2M1927 1094h2M2028 797h2M1789 1041h2M1668 580h2M1593 1058h2M2042 849h2M2105 907h2M2088 631h2M1574 1065h2M2009 1075h2M1811 805h2M2015 714h2M2013 872h2M1814 614h2M1774 625h2M1629 1091h2M1566 978h2M1887 636h2M2014 1074h2M1889 1061h2M1793 610h2M1703 698h2M2009 1076h2M1570 879h2M1764 673h2M1603 603h2M2076 949h2M1744 752h2M1993 728h2M1704 606h2M1844 999h2M1666 1012h2M1979 1045h2M1572 1110h2M1892 593h2M1912 986h2M1665 898h2M2035 703h2M1662 649h2M1988 1118h2M1709 647h2M1603 992h2M1886 596h2M1888 597h2M1841 593h2M1614 598h2M1998 596h2M1874 594h2M1977 595h2M1584 597h2M2004 598h2M2003 595h2M1671 594h2M1796 599h2M2069 596h2M1638 591h2M1800 597h2M1660 600h2M2044 600h2M2061 599h2M2002 599h2M1774 595h2M1635 598h2M1762 654h2M1855 657h2M1857 656h2M1721 655h2M2102 652h2M1797 659h2M1835 652h2M1975 655h2M1928 655h2M2112 656h2M2014 655h2M1629 650h2M2056 658h2M1626 653h2M1716 652h2M2128 658h2M2037 651h2M1595 654h2M1641 655h2M2114 655h2M2126 653h2M2066 671h2M1763 669h2M2071 668h2M2069 670h2M2022 670h2M2077 669h2M1900 670h2M1702 670h2M1983 670h2M1594 670h2M2047 668h2M2116 670h2M1939 669h2M1936 670h2M1959 669h2M1759 672h2M2064 671h2M1813 667h2M1977 670h2M1973 670h2M1589 669h2M1915 671h2M2034 669h2M1775 669h2M1822 671h2M1593 670h2M1641 669h2M1639 670h2M1894 671h2M2124 673h2M1593 670h2M2083 672h2M1954 670h2M1603 670h2M1768 670h2M1976 671h2M1796 669h2M1868 702h2M2080 699h2M1588 701h2M1741 702h2M1935 702h2M1735 699h2M1927 699h2M1616 701h2M1854 700h2M2019 698h2M1703 699h2M1811 700h2M2130 698h2M1762 702h2M2082 703h2M1913 701h2M1946 744h2M1851 745h2M1924 747h2M2126 739h2M1830 746h2M1587 743h2M1970 743h2M1638 743h2M1868 790h2M1795 788h2M2060 788h2M2058 790h2M1671 787h2M1667 786h2M1665 786h2M2089 789h2M2089 790h2M2085 786h2M1598 790h2M1654 786h2M1957 784h2M1583 790h2M2105 819h2M1597 819h2M1799 816h2M2094 815h2M1963 819h2M1696 818h2M1874 815h2M1868 816h2M2094 818h2M1705 817h2M1860 815h2M1863 816h2M1648 818h2M1647 815h2M2111 817h2M2002 820h2M2065 816h2M1859 818h2M1578 818h2M1611 817h2M1974 817h2M1788 822h2M1788 818h2M1947 817h2M1947 816h2M1872 818h2M1780 817h2M1764 819h2M2090 817h2M1576 817h2M1857 813h2M1858 819h2M1855 816h2M1581 817h2M1704 814h2M1708 818h2M1791 819h2M1981 819h2M1584 820h2M1937 817h2M1940 815h2M1687 816h2M1688 815h2M1574 821h2M2009 816h2M1924 816h2M1928 823h2M2025 814h2M1668 817h2M1680 821h2M1652 816h2M1847 816h2M1940 961h2M2028 959h2M1803 958h2M2008 960h2M2114 956h2M1947 962h2M1599 956h2M1604 959h2M1878 954h2M1874 1014h2M2038 911h2M2053 912h2M2045 912h2M1892 912h2M1688 911h2M1806 911h2M1896 714h2M1706 713h2M1647 713h2M1970 714h2M2111 714h2M2009 718h2M1742 718h2M2120 719h2M1823 718h2M1855 718h2M1696 718h2M2105 718h2M2125 719h2M1779 719h2M1967 719h2M2064 719h2M1970 718h2M1891 718h2M1981 779h2M1770 779h2M1791 780h2M1697 779h2M1723 779h2M1947 779h2M1710 779h2M2026 780h2M1947 780h2M2129 780h2M1648 982h2M1685 983h2M1675 983h2M1670 984h2M1588 982h2M1956 983h2M2032 982h2M1877 983h2M1941 638h2M1720 638h2M1780 601h2M1596 601h2M1903 601h2M1945 601h2M1691 658h2M2130 658h2M1659 658h2M1873 658h2M1574 659h2M2002 658h2M2076 734h2M1606 733h2M1812 733h2M1558 734h2M1661 734h2M1744 733h2M1934 733h2M1666 733h2M2086 733h2M2081 734h2M1607 1046h2M1648 1046h2M2023 1048h2M1857 1047h2M2077 1108h2M1962 1109h2M1722 1109h2M1665 1108h2M1746 1109h2M1973 1109h2M1876 610h2M1813 610h2M1638 610h2M2099 610h2M2029 610h2M1962 610h2M1959 610h2M1834 723h2M1711 723h2M1727 723h2M1829 723h2M1875 722h2M1918 723h2M1885 723h2M1820 724h2M1898 724h2M1860 898h2M2105 897h2M1714 897h2M2019 829h2M1576 829h2M2011 830h2M1641 829h2M1743 567h2M1613 567h2M1806 567h2M1902 568h2M2072 567h2M2010 568h2M2050 568h2M1890 567h2M1896 567h2M1985 567h2M1985 567h2M1700 567h2M1769 904h2M1718 904h2M1998 904h2M2111 904h2M2054 904h2M1665 905h2M1590 904h2M1881 776h2M2053 777h2M1889 776h2M1757 775h2M1896 776h2M1828 775h2M2020 776h2M2021 776h2M1754 1124h2M1587 1123h2M2056 1124h2M1560 1124h2M1770 1124h2M1980 1124h2M1754 1123h2M2081 1123h2M1818 1123h2M1721 1124h2M2054 1124h2M1885 897h2M1799 898h2M1841 897h2M1603 898h2M2110 897h2M1719 896h2M1976 897h2M1978 896h2M1985 897h2M1656 813h2M2045 814h2M1909 813h2M1589 814h2M1838 813h2M1809 814h2M1599 813h2M1934 813h2M1922 814h2M1722 852h2M1964 852h2M2104 851h2M1660 852h2M1883 851h2M1974 851h2M1984 851h2M1616 774h2M1677 773h2M2124 774h2M1886 773h2M1955 773h2M1978 773h2M1714 655h2M2049 655h2M1701 656h2M1734 655h2M1707 656h2M1721 656h2M1736 656h2M2042 655h2M2078 939h2M2105 939h2M1592 576h2M1619 577h2M1774 577h2M1672 576h2M1722 577h2M1858 577h2M1578 576h2M1687 576h2M1624 795h2M1940 794h2M1797 1085h2M1810 1085h2M2076 778h2M1591 778h2M1657 777h2M1573 778h2M1655 778h2M1974 777h2M1879 778h2M1827 777h2M1968 778h2M1612 925h2M1665 925h2" stroke="#d9732a" stroke-width="2" stroke-opacity="0.72" fill="none"/>
<path d="M1600 753h2M1706 946h2M1773 659h2M1666 907h2M1613 1016h2M2080 706h2M1588 966h2M1997 775h2M1601 722h2M1759 1095h2M1568 990h2M1723 813h2M1890 987h2M2108 957h2M1897 849h2M1785 975h2M1637 970h2M1789 623h2M1592 566h2M1586 968h2M1657 1029h2M1745 668h2M1919 762h2M1603 875h2M1987 577h2M2100 943h2M1669 784h2M1827 1094h2M1775 1112h2M1739 764h2M2113 895h2M1632 826h2M1771 1052h2M1669 672h2M1723 857h2M1948 753h2M1844 1098h2M1829 760h2M2031 590h2M1569 985h2M1915 839h2M1794 1077h2M1938 1127h2M1828 1113h2M1701 993h2M2044 659h2M1787 711h2M1956 731h2M1859 971h2M1737 650h2M1613 995h2M1783 1063h2M1783 725h2M1823 802h2M1621 1020h2M1614 1010h2M1987 1119h2M2129 864h2M2075 977h2M1870 1051h2M1596 1091h2M2076 832h2M1930 910h2M1860 594h2M1679 996h2M1883 854h2M1579 1015h2M1863 910h2M2098 1094h2M1792 679h2M1618 972h2M2096 712h2M1761 626h2M2111 1078h2M1898 1024h2M1988 792h2M1827 969h2M2111 674h2M2061 903h2M1692 1035h2M1733 991h2M1948 1114h2M1741 572h2M2035 834h2M2060 1077h2M2060 727h2M1692 834h2M2064 779h2M1686 945h2M1773 837h2M1693 642h2M1939 1115h2M1723 1132h2M1895 1019h2M1834 942h2M1599 773h2M1646 768h2M1774 935h2M1567 1127h2M2007 1056h2M1899 881h2M2050 894h2M1630 1131h2M1985 774h2M1650 561h2M1887 728h2M1846 1056h2M2031 573h2M1866 891h2M1789 974h2M1565 581h2M1822 952h2M1941 985h2M2000 693h2M2131 979h2M1929 654h2M2038 808h2M1665 1068h2M1710 815h2M1846 823h2M1650 797h2M1851 950h2M1654 992h2M1780 1079h2M1663 789h2M1782 572h2M1688 913h2M1951 641h2M1706 665h2M1846 851h2M1609 599h2M1621 1078h2M1736 652h2M1594 788h2M1683 678h2M1803 999h2M1744 865h2M1620 1086h2M1864 1114h2M2119 1097h2M1988 1114h2M1712 957h2M1814 936h2M2047 870h2M1751 647h2M1789 836h2M1932 1103h2M1735 827h2M2036 899h2M1911 1079h2M1807 1127h2M1635 921h2M1880 632h2M1735 918h2M2057 1027h2M1609 858h2M1869 638h2M2021 973h2M1566 567h2M1662 607h2M1653 880h2M1999 1071h2M1632 1067h2M1599 1111h2M1733 1002h2M1689 730h2M1591 826h2M2047 770h2M1997 796h2M1626 969h2M1563 1104h2M1594 967h2M1971 1087h2M1899 998h2M2083 970h2M2114 755h2M1886 785h2M1858 1101h2M2121 1071h2M1957 1131h2M2023 573h2M1597 881h2M1818 1100h2M1983 949h2M1735 1111h2M1890 648h2M1936 1011h2M1817 656h2M2016 955h2M1669 1087h2M1792 809h2M1803 717h2M1734 1056h2M1934 863h2M1854 871h2M1937 606h2M1566 1007h2M1925 644h2M1861 873h2M1690 617h2M1563 948h2M1926 762h2M1703 722h2M1960 742h2M1935 949h2M1838 679h2M1722 589h2M1707 591h2M1816 591h2M1612 1001h2M1769 663h2M1832 963h2M1708 885h2M1820 896h2M2069 815h2M2005 1010h2M1791 1064h2M1648 952h2M1623 600h2M2045 725h2M1826 576h2M1813 950h2M1765 1119h2M1981 897h2M1836 822h2M1707 1106h2M2077 838h2M1694 1121h2M1632 930h2M1635 822h2M1949 984h2M1675 641h2M1800 894h2M1652 982h2M1601 652h2M1884 682h2M1937 796h2M1691 756h2M2128 631h2M1574 596h2M2017 596h2M2002 597h2M1563 595h2M1816 597h2M1881 595h2M1699 598h2M1671 595h2M1821 594h2M2093 596h2M2097 595h2M1772 594h2M1832 595h2M1922 595h2M1633 596h2M1718 654h2M1800 657h2M1869 654h2M2116 655h2M1592 654h2M1807 654h2M2095 653h2M1995 654h2M1633 657h2M1673 655h2M1581 660h2M1866 658h2M2128 654h2M1767 670h2M2078 671h2M1985 670h2M1934 671h2M1959 671h2M1994 670h2M1995 669h2M1900 669h2M1883 669h2M1897 670h2M1827 671h2M1707 669h2M1596 671h2M1766 670h2M1721 670h2M1867 699h2M2112 702h2M1745 699h2M1920 701h2M1580 703h2M1997 698h2M2018 700h2M1701 702h2M1813 704h2M2019 743h2M2057 784h2M2062 784h2M1618 792h2M1875 791h2M1617 785h2M1841 786h2M1601 788h2M1615 818h2M2108 813h2M2095 818h2M1700 815h2M2042 818h2M2036 821h2M1781 819h2M1842 818h2M1953 818h2M2038 817h2M1580 818h2M2109 816h2M1914 816h2M1696 816h2M2049 818h2M1731 818h2M1575 819h2M1960 818h2M1747 820h2M1653 815h2M1880 820h2M1975 819h2M2093 964h2M1660 956h2M1882 961h2M1879 957h2M1596 1012h2M1774 1011h2M1691 1012h2M1963 911h2M1796 912h2M2053 912h2M1828 911h2M1581 912h2M1900 714h2M1795 714h2M2017 779h2M2059 983h2M2122 984h2M1647 638h2M2119 601h2M1819 601h2M1963 601h2M1629 602h2M1648 659h2M1561 658h2M1583 658h2M1582 658h2M1866 658h2M2082 732h2M1859 1047h2M1892 1046h2M1891 1108h2M1997 1109h2M2049 610h2M1840 610h2M1646 611h2M2042 609h2M1900 723h2M1820 723h2M1768 898h2M1713 897h2M1937 897h2M1704 830h2M1698 830h2M1901 830h2M1628 829h2M2076 567h2M1896 567h2M1902 904h2M1621 905h2M2028 904h2M2102 775h2M1632 776h2M2053 775h2M1812 775h2M1840 1124h2M1656 1124h2M1605 1124h2M2013 897h2M2049 897h2M1700 897h2M1692 814h2M2032 814h2M1723 813h2M1938 814h2M2102 851h2M1700 851h2M1781 774h2M1745 774h2M1637 774h2M1863 656h2M1616 939h2M1595 577h2M1782 576h2M2010 576h2M2023 794h2M1765 794h2M1571 793h2M1916 794h2M1792 794h2M1624 1085h2M1998 1084h2M1923 1084h2M1790 1085h2M1724 778h2M2028 778h2M2043 777h2M1747 777h2M1863 778h2M1921 778h2M1631 779h2M2096 925h2M1775 925h2M1939 925h2M1675 926h2" stroke="#fdd54d" stroke-width="2" stroke-opacity="0.72" fill="none"/>
<path d="M1599.6 546.6V559.1M1638.5 546.6V559.1M1680.9 546.6V559.1M1720.6 546.6V559.1M1757.1 546.6V559.1M1796.9 546.6V559.1M1833.2 546.6V559.1M1868.3 546.6V559.1M1903.6 546.6V559.1M1937.8 546.6V559.1M1969.6 546.6V559.1M1997.7 546.6V559.1M2024.6 546.6V559.1M2049.4 546.6V559.1M2070.6 546.6V559.1M2093.7 546.6V559.1M2114.5 546.6V559.1M2134.5 580H2147.8M2134.5 601.1H2147.8M2134.5 624.5H2147.8M2134.5 645.1H2147.8M2134.5 670.6H2147.8M2134.5 697.6H2147.8M2134.5 726.1H2147.8M2134.5 759.3H2147.8M2134.5 793.4H2147.8M2134.5 826.7H2147.8M2134.5 861.3H2147.8M2134.5 897.2H2147.8M2134.5 935.6H2147.8M2134.5 973.2H2147.8M2134.5 1012.8H2147.8M2134.5 1054.7H2147.8M2134.5 1092.3H2147.8" stroke="#333" stroke-width="1.5" fill="none"/>
<path d="M1613.67 1135.9V1143.9M1671.54 1135.9V1143.9M1729.41 1135.9V1143.9M1787.28 1135.9V1143.9M1845.15 1135.9V1143.9M1903.02 1135.9V1143.9M1960.89 1135.9V1143.9M2018.76 1135.9V1143.9M2076.63 1135.9V1143.9M1547.8 1078.22H1555.8M1547.8 1020.54H1555.8M1547.8 962.86H1555.8M1547.8 905.18H1555.8M1547.8 847.5H1555.8M1547.8 789.82H1555.8M1547.8 732.14H1555.8M1547.8 674.46H1555.8M1547.8 616.78H1555.8" stroke="#555" stroke-width="1.8" fill="none"/>
<text x="1571.47" y="554.3" font-size="11.01" fill="#222" textLength="12.11" lengthAdjust="spacingAndGlyphs">1C</text>
<text x="1612.94" y="554.3" font-size="11.01" fill="#222" textLength="12.11" lengthAdjust="spacingAndGlyphs">2C</text>
<text x="1653.65" y="554.3" font-size="11.01" fill="#222" textLength="12.11" lengthAdjust="spacingAndGlyphs">3C</text>
<text x="1694.77" y="554.3" font-size="11.01" fill="#222" textLength="12.11" lengthAdjust="spacingAndGlyphs">4C</text>
<text x="1732.79" y="554.3" font-size="11.01" fill="#222" textLength="12.11" lengthAdjust="spacingAndGlyphs">5C</text>
<text x="1770.89" y="554.3" font-size="11.01" fill="#222" textLength="12.11" lengthAdjust="spacingAndGlyphs">6C</text>
<text x="1808.94" y="554.3" font-size="11.01" fill="#222" textLength="12.11" lengthAdjust="spacingAndGlyphs">7C</text>
<text x="1844.68" y="554.3" font-size="11.01" fill="#222" textLength="12.11" lengthAdjust="spacingAndGlyphs">8C</text>
<text x="1879.86" y="554.3" font-size="11.01" fill="#222" textLength="12.11" lengthAdjust="spacingAndGlyphs">9C</text>
<text x="1911.83" y="554.3" font-size="11.01" fill="#222" textLength="17.38" lengthAdjust="spacingAndGlyphs">10C</text>
<text x="1945.19" y="554.3" font-size="11.01" fill="#222" textLength="16.67" lengthAdjust="spacingAndGlyphs">11C</text>
<text x="1974.78" y="554.3" font-size="11.01" fill="#222" textLength="17.38" lengthAdjust="spacingAndGlyphs">12C</text>
<text x="2002.28" y="554.3" font-size="11.01" fill="#222" textLength="17.38" lengthAdjust="spacingAndGlyphs">13C</text>
<text x="2028.13" y="554.3" font-size="11.01" fill="#222" textLength="17.38" lengthAdjust="spacingAndGlyphs">14C</text>
<text x="2051.13" y="554.3" font-size="11.01" fill="#222" textLength="17.38" lengthAdjust="spacingAndGlyphs">15C</text>
<text x="2073.28" y="554.3" font-size="11.01" fill="#222" textLength="17.38" lengthAdjust="spacingAndGlyphs">16C</text>
<text x="2095.23" y="554.3" font-size="11.01" fill="#222" textLength="17.38" lengthAdjust="spacingAndGlyphs">17C</text>
<text x="2115.63" y="554.3" font-size="11.01" fill="#222" textLength="17.38" lengthAdjust="spacingAndGlyphs">18C</text>
<text transform="translate(2140 1114.1) rotate(90)" x="-6.18" y="0" font-size="11.01" fill="#222" textLength="12.11" lengthAdjust="spacingAndGlyphs">1D</text>
<text transform="translate(2140 1073.5) rotate(90)" x="-6.06" y="0" font-size="11.01" fill="#222" textLength="12.11" lengthAdjust="spacingAndGlyphs">2D</text>
<text transform="translate(2140 1033.75) rotate(90)" x="-6" y="0" font-size="11.01" fill="#222" textLength="12.11" lengthAdjust="spacingAndGlyphs">3D</text>
<text transform="translate(2140 993) rotate(90)" x="-5.93" y="0" font-size="11.01" fill="#222" textLength="12.11" lengthAdjust="spacingAndGlyphs">4D</text>
<text transform="translate(2140 954.4) rotate(90)" x="-6.02" y="0" font-size="11.01" fill="#222" textLength="12.11" lengthAdjust="spacingAndGlyphs">5D</text>
<text transform="translate(2140 916.4) rotate(90)" x="-6.06" y="0" font-size="11.01" fill="#222" textLength="12.11" lengthAdjust="spacingAndGlyphs">6D</text>
<text transform="translate(2140 879.25) rotate(90)" x="-6.06" y="0" font-size="11.01" fill="#222" textLength="12.11" lengthAdjust="spacingAndGlyphs">7D</text>
<text transform="translate(2140 844) rotate(90)" x="-6.03" y="0" font-size="11.01" fill="#222" textLength="12.11" lengthAdjust="spacingAndGlyphs">8D</text>
<text transform="translate(2140 810.05) rotate(90)" x="-6.04" y="0" font-size="11.01" fill="#222" textLength="12.11" lengthAdjust="spacingAndGlyphs">9D</text>
<text transform="translate(2140 776.35) rotate(90)" x="-8.82" y="0" font-size="11.01" fill="#222" textLength="17.38" lengthAdjust="spacingAndGlyphs">10D</text>
<text transform="translate(2140 742.7) rotate(90)" x="-8.47" y="0" font-size="11.01" fill="#222" textLength="16.67" lengthAdjust="spacingAndGlyphs">11D</text>
<text transform="translate(2140 711.85) rotate(90)" x="-8.82" y="0" font-size="11.01" fill="#222" textLength="17.38" lengthAdjust="spacingAndGlyphs">12D</text>
<text transform="translate(2140 684.1) rotate(90)" x="-8.82" y="0" font-size="11.01" fill="#222" textLength="17.38" lengthAdjust="spacingAndGlyphs">13D</text>
<text transform="translate(2140 657.85) rotate(90)" x="-8.82" y="0" font-size="11.01" fill="#222" textLength="17.38" lengthAdjust="spacingAndGlyphs">14D</text>
<text transform="translate(2140 634.8) rotate(90)" x="-8.82" y="0" font-size="11.01" fill="#222" textLength="17.38" lengthAdjust="spacingAndGlyphs">15D</text>
<text transform="translate(2140 612.8) rotate(90)" x="-8.82" y="0" font-size="11.01" fill="#222" textLength="17.38" lengthAdjust="spacingAndGlyphs">16D</text>
<text transform="translate(2140 590.55) rotate(90)" x="-8.82" y="0" font-size="11.01" fill="#222" textLength="17.38" lengthAdjust="spacingAndGlyphs">17D</text>
<text transform="translate(2140 569.55) rotate(90)" x="-8.82" y="0" font-size="11.01" fill="#222" textLength="17.38" lengthAdjust="spacingAndGlyphs">18D</text>
<text x="1591.86" y="1161.2" font-size="15.36" fill="#111" textLength="43.68" lengthAdjust="spacingAndGlyphs">12.3 M</text>
<text x="1649.91" y="1161.2" font-size="15.36" fill="#111" textLength="43.68" lengthAdjust="spacingAndGlyphs">24.7 M</text>
<text x="1713.84" y="1161.2" font-size="15.36" fill="#111" textLength="31.76" lengthAdjust="spacingAndGlyphs">37 M</text>
<text x="1765.85" y="1161.2" font-size="15.36" fill="#111" textLength="43.68" lengthAdjust="spacingAndGlyphs">49.3 M</text>
<text x="1823.52" y="1161.2" font-size="15.36" fill="#111" textLength="43.68" lengthAdjust="spacingAndGlyphs">61.6 M</text>
<text x="1887.36" y="1161.2" font-size="15.36" fill="#111" textLength="31.76" lengthAdjust="spacingAndGlyphs">74 M</text>
<text x="1939.32" y="1161.2" font-size="15.36" fill="#111" textLength="43.68" lengthAdjust="spacingAndGlyphs">86.3 M</text>
<text x="1997.17" y="1161.2" font-size="15.36" fill="#111" textLength="43.68" lengthAdjust="spacingAndGlyphs">98.6 M</text>
<text x="2051.4" y="1161.2" font-size="15.36" fill="#111" textLength="50.56" lengthAdjust="spacingAndGlyphs">110.9 M</text>
<text transform="translate(1544 1078.92) rotate(-90)" x="-22.05" y="0" font-size="16.23" fill="#111" textLength="44.17" lengthAdjust="spacingAndGlyphs">12.2 M</text>
<text transform="translate(1544 1021.24) rotate(-90)" x="-21.87" y="0" font-size="16.23" fill="#111" textLength="44.17" lengthAdjust="spacingAndGlyphs">24.4 M</text>
<text transform="translate(1544 963.56) rotate(-90)" x="-21.78" y="0" font-size="16.23" fill="#111" textLength="44.17" lengthAdjust="spacingAndGlyphs">36.6 M</text>
<text transform="translate(1544 905.88) rotate(-90)" x="-21.67" y="0" font-size="16.23" fill="#111" textLength="44.17" lengthAdjust="spacingAndGlyphs">48.7 M</text>
<text transform="translate(1544 848.2) rotate(-90)" x="-21.87" y="0" font-size="16.23" fill="#111" textLength="44.17" lengthAdjust="spacingAndGlyphs">60.9 M</text>
<text transform="translate(1544 790.52) rotate(-90)" x="-21.87" y="0" font-size="16.23" fill="#111" textLength="44.17" lengthAdjust="spacingAndGlyphs">73.1 M</text>
<text transform="translate(1544 732.84) rotate(-90)" x="-21.81" y="0" font-size="16.23" fill="#111" textLength="44.17" lengthAdjust="spacingAndGlyphs">85.3 M</text>
<text transform="translate(1544 675.16) rotate(-90)" x="-21.83" y="0" font-size="16.23" fill="#111" textLength="44.17" lengthAdjust="spacingAndGlyphs">97.5 M</text>
<text transform="translate(1544 617.48) rotate(-90)" x="-26.06" y="0" font-size="16.23" fill="#111" textLength="52.2" lengthAdjust="spacingAndGlyphs">109.7 M</text>
<text x="1807.31" y="538.9" font-size="15.8" font-style="italic" fill="#111" textLength="80.01" lengthAdjust="spacingAndGlyphs">20QLD87_C</text>
<text transform="translate(2154.6 847.5) rotate(90)" x="-37.5" y="0" font-size="15.8" font-style="italic" fill="#111" textLength="75.53" lengthAdjust="spacingAndGlyphs">20QLD87_D</text>
<path d="M252.2 1279.7 L830.8 1279.7 L863.1 1312 L863.1 1889.1 L830.8 1921.4 L252.2 1921.4 L219.9 1889.1 L219.9 1312 Z" fill="#f3f3f3"/>
<rect x="252.2" y="1312" width="578.6" height="577.1" fill="#fff"/>
<path d="M296.5 1312V1889.1M334.6 1312V1889.1M376.7 1312V1889.1M417.5 1312V1889.1M455.7 1312V1889.1M494.6 1312V1889.1M530.8 1312V1889.1M566 1312V1889.1M598.6 1312V1889.1M633.4 1312V1889.1M666.7 1312V1889.1M695.3 1312V1889.1M722.3 1312V1889.1M747.4 1312V1889.1M768.6 1312V1889.1M788.8 1312V1889.1M810.3 1312V1889.1M252.2 1332.4H830.8M252.2 1354.1H830.8M252.2 1376.4H830.8M252.2 1397.5H830.8M252.2 1422.1H830.8M252.2 1448.6H830.8M252.2 1476.9H830.8M252.2 1510H830.8M252.2 1545.4H830.8M252.2 1577.9H830.8M252.2 1612.5H830.8M252.2 1649.1H830.8M252.2 1687.5H830.8M252.2 1725.5H830.8M252.2 1766.2H830.8M252.2 1808.4H830.8M252.2 1845.9H830.8" stroke="#8c8c8c" stroke-width="1.1" stroke-dasharray="3 2.9" fill="none"/>
<path d="M409 1363h2M384 1364h2M266 1364h2M270 1364h2M752 1364h2M704 1364h2M290 1363h2M734 1364h2M730 1364h2M809 1364h2M797 1364h2M612 1365h2M479 1364h2M792 1364h2M572 1364h2M320 1364h2M325 1364h2M825 1364h2M615 1365h2M473 1363h2M601 1365h2M509 1364h2M560 1364h2M493 1364h2M677 1365h2M605 1365h2M614 1364h2M613 1366h2M360 1365h2M614 1364h2M408 1365h2M596 1364h2M678 1365h2M768 1366h2M816 1364h2M758 1365h2M762 1362h2M615 1365h2M519 1363h2M718 1364h2M779 1364h2M766 1364h2M826 1365h2M520 1365h2M697 1364h2M604 1365h2M606 1364h2M786 1363h2M741 1365h2M258 1364h2M571 1365h2M707 1364h2M779 1364h2M300 1364h2M734 1365h2M372 1364h2M406 1364h2M789 1366h2M314 1648h2M719 1649h2M556 1648h2M256 1647h2M607 1649h2M292 1647h2M768 1648h2M773 1649h2M515 1648h2M731 1649h2M610 1647h2M612 1647h2M361 1648h2M498 1648h2M802 1648h2M514 1648h2M559 1649h2M630 1660h2M590 1660h2M592 1660h2M526 1660h2M517 1659h2M332 1660h2M286 1660h2M421 1660h2M416 1661h2M401 1660h2M425 1660h2M263 1698h2M492 1700h2M717 1699h2M766 1699h2M518 1698h2M314 1699h2M718 1699h2M719 1697h2M705 1697h2M267 1697h2M299 1703h2M299 1703h2M685 1702h2M645 1703h2M584 1703h2M325 1703h2M367 1703h2M302 1702h2M418 1766h2M807 1767h2M653 1766h2M557 1766h2M556 1767h2M768 1767h2M654 1767h2M345 1767h2M780 1767h2M713 1767h2M723 1766h2M598 1767h2M357 1766h2M355 1767h2M314 1767h2M548 1767h2M404 1768h2M724 1767h2M502 1767h2M594 1767h2M698 1351h2M698 1351h2M546 1404h2M514 1445h2M312 1445h2M309 1452h2M817 1452h2M667 1452h2M409 1537h2M730 1543h2M416 1543h2M281 1543h2M362 1543h2M553 1555h2M428 1572h2M590 1572h2M696 1590h2M624 1628h2M578 1628h2M627 1666h2M566 1672h2M761 1741h2M596 1741h2M344 1741h2M346 1741h2M306 1741h2M379 1763h2M807 1763h2M466 1834h2M451 1834h2M717 1834h2M310 1860h2M682 1860h2M255 1860h2M657 1860h2M608 1875h2M716 1875h2" stroke="#135a16" stroke-width="2" stroke-opacity="0.72" fill="none"/>
<path d="M646 1364h2M284 1364h2M483 1364h2M751 1363h2M325 1363h2M348 1367h2M705 1364h2M466 1365h2M259 1365h2M706 1365h2M728 1364h2M683 1364h2M743 1364h2M610 1364h2M449 1365h2M449 1364h2M480 1365h2M341 1364h2M570 1364h2M571 1363h2M541 1364h2M319 1364h2M362 1364h2M601 1363h2M338 1363h2M808 1365h2M805 1363h2M805 1364h2M647 1364h2M499 1363h2M747 1364h2M652 1364h2M656 1365h2M764 1364h2M284 1363h2M670 1366h2M620 1365h2M529 1363h2M772 1365h2M526 1365h2M524 1364h2M524 1363h2M715 1364h2M715 1362h2M713 1364h2M465 1363h2M467 1364h2M417 1364h2M513 1366h2M537 1363h2M541 1364h2M538 1365h2M424 1365h2M476 1364h2M258 1363h2M444 1364h2M461 1365h2M678 1363h2M627 1364h2M650 1364h2M768 1363h2M543 1365h2M819 1364h2M706 1365h2M760 1364h2M795 1363h2M823 1365h2M758 1364h2M759 1364h2M682 1365h2M683 1365h2M431 1365h2M307 1363h2M764 1364h2M521 1364h2M777 1364h2M779 1364h2M667 1363h2M666 1364h2M357 1363h2M529 1364h2M528 1365h2M694 1365h2M635 1364h2M636 1364h2M320 1364h2M586 1364h2M279 1364h2M281 1364h2M784 1364h2M743 1364h2M702 1365h2M637 1365h2M638 1365h2M591 1364h2M587 1364h2M355 1364h2M354 1363h2M350 1364h2M709 1364h2M706 1364h2M789 1364h2M719 1649h2M334 1648h2M304 1648h2M298 1648h2M740 1647h2M258 1649h2M293 1648h2M297 1648h2M289 1649h2M281 1648h2M430 1647h2M545 1647h2M542 1648h2M716 1647h2M715 1648h2M628 1647h2M657 1647h2M656 1649h2M546 1648h2M361 1648h2M499 1648h2M799 1649h2M519 1649h2M825 1649h2M442 1649h2M727 1647h2M727 1648h2M730 1647h2M487 1661h2M633 1661h2M633 1660h2M785 1660h2M525 1660h2M568 1661h2M519 1660h2M283 1661h2M283 1660h2M813 1661h2M336 1660h2M340 1660h2M423 1660h2M563 1660h2M347 1662h2M299 1659h2M296 1660h2M726 1660h2M727 1659h2M673 1697h2M672 1699h2M496 1697h2M620 1698h2M718 1698h2M720 1699h2M551 1699h2M708 1698h2M718 1696h2M797 1699h2M689 1697h2M566 1698h2M314 1698h2M317 1698h2M449 1700h2M608 1697h2M705 1698h2M770 1699h2M473 1698h2M477 1698h2M689 1697h2M283 1704h2M280 1703h2M646 1703h2M326 1702h2M605 1702h2M531 1702h2M462 1703h2M680 1702h2M485 1700h2M793 1704h2M301 1703h2M302 1702h2M601 1702h2M621 1703h2M619 1703h2M267 1768h2M518 1767h2M422 1767h2M781 1767h2M667 1767h2M577 1767h2M675 1766h2M692 1767h2M329 1767h2M327 1766h2M489 1766h2M486 1767h2M345 1767h2M346 1767h2M777 1767h2M782 1768h2M419 1767h2M281 1767h2M355 1767h2M687 1767h2M687 1767h2M287 1768h2M386 1767h2M703 1767h2M714 1767h2M362 1766h2M595 1768h2M311 1767h2M312 1767h2M623 1767h2M811 1767h2M720 1766h2M736 1767h2M384 1767h2M476 1767h2M597 1767h2M744 1325h2M582 1325h2M358 1325h2M530 1325h2M674 1325h2M577 1351h2M476 1351h2M662 1351h2M706 1351h2M447 1351h2M721 1404h2M565 1445h2M651 1445h2M716 1452h2M632 1537h2M699 1537h2M300 1537h2M335 1537h2M721 1543h2M535 1543h2M437 1555h2M430 1555h2M782 1572h2M267 1572h2M588 1572h2M621 1590h2M772 1590h2M805 1590h2M366 1603h2M815 1603h2M545 1628h2M620 1666h2M738 1666h2M455 1666h2M286 1666h2M482 1672h2M495 1672h2M437 1672h2M562 1672h2M290 1741h2M331 1741h2M384 1741h2M327 1741h2M454 1763h2M670 1763h2M355 1834h2M762 1834h2M425 1834h2M616 1837h2M727 1860h2M260 1860h2M307 1860h2" stroke="#3cc44e" stroke-width="2" stroke-opacity="0.72" fill="none"/>
<path d="M646 1364h2M383 1363h2M754 1363h2M349 1363h2M707 1364h2M796 1365h2M651 1363h2M257 1364h2M729 1363h2M719 1364h2M716 1365h2M742 1365h2M489 1364h2M452 1364h2M345 1364h2M361 1364h2M601 1364h2M498 1364h2M722 1365h2M719 1364h2M747 1363h2M368 1363h2M823 1364h2M637 1364h2M603 1364h2M724 1364h2M523 1365h2M509 1365h2M699 1365h2M563 1363h2M676 1364h2M799 1364h2M417 1363h2M607 1364h2M714 1364h2M608 1364h2M480 1364h2M459 1363h2M324 1365h2M676 1365h2M742 1364h2M745 1364h2M743 1363h2M651 1364h2M419 1363h2M427 1364h2M616 1364h2M794 1364h2M519 1364h2M309 1365h2M306 1365h2M351 1364h2M778 1363h2M298 1363h2M528 1363h2M690 1364h2M669 1365h2M750 1364h2M319 1363h2M319 1364h2M583 1364h2M581 1362h2M605 1364h2M704 1364h2M262 1364h2M325 1364h2M488 1364h2M494 1364h2M628 1364h2M405 1364h2M715 1647h2M259 1647h2M402 1649h2M348 1648h2M346 1648h2M772 1647h2M770 1648h2M690 1648h2M609 1648h2M362 1648h2M654 1648h2M560 1647h2M441 1647h2M392 1660h2M782 1660h2M525 1661h2M495 1661h2M421 1659h2M764 1660h2M661 1660h2M564 1660h2M295 1660h2M616 1699h2M262 1698h2M668 1698h2M673 1698h2M299 1699h2M297 1698h2M768 1699h2M454 1696h2M592 1698h2M720 1696h2M798 1698h2M445 1698h2M774 1698h2M267 1698h2M297 1703h2M685 1705h2M403 1703h2M727 1704h2M648 1704h2M517 1702h2M516 1703h2M749 1703h2M780 1704h2M527 1703h2M277 1702h2M682 1703h2M293 1703h2M563 1766h2M514 1767h2M781 1767h2M408 1766h2M563 1767h2M438 1767h2M280 1767h2M384 1767h2M716 1767h2M358 1767h2M467 1767h2M463 1767h2M713 1768h2M621 1767h2M384 1767h2M534 1325h2M414 1351h2M683 1445h2M564 1445h2M384 1445h2M282 1445h2M526 1445h2M675 1537h2M433 1537h2M319 1537h2M341 1543h2M530 1543h2M794 1555h2M389 1603h2M331 1628h2M329 1628h2M502 1666h2M366 1666h2M347 1666h2M723 1666h2M314 1672h2M751 1672h2M364 1741h2M611 1834h2M477 1837h2M694 1837h2M552 1860h2M346 1860h2M299 1875h2M496 1875h2" stroke="#d9732a" stroke-width="2" stroke-opacity="0.72" fill="none"/>
<path d="M482 1364h2M762 1366h2M704 1364h2M798 1364h2M510 1364h2M652 1364h2M652 1364h2M481 1366h2M453 1363h2M340 1363h2M492 1363h2M528 1364h2M635 1363h2M635 1364h2M678 1364h2M718 1364h2M614 1363h2M356 1363h2M614 1365h2M551 1365h2M348 1364h2M450 1365h2M517 1363h2M696 1365h2M661 1364h2M786 1364h2M563 1364h2M257 1365h2M272 1363h2M825 1365h2M731 1364h2M785 1363h2M295 1649h2M259 1648h2M737 1648h2M510 1647h2M403 1648h2M745 1649h2M468 1649h2M515 1648h2M364 1648h2M519 1648h2M720 1647h2M524 1647h2M495 1660h2M698 1698h2M719 1699h2M445 1699h2M605 1698h2M769 1698h2M370 1701h2M529 1703h2M363 1704h2M279 1701h2M620 1704h2M514 1767h2M588 1767h2M782 1767h2M577 1767h2M576 1767h2M654 1767h2M690 1767h2M810 1767h2M807 1767h2M749 1351h2M461 1404h2M354 1404h2M284 1445h2M716 1555h2M520 1555h2M798 1590h2M290 1628h2M294 1837h2" stroke="#fdd54d" stroke-width="2" stroke-opacity="0.72" fill="none"/>
<path d="M296.5 1299.5V1312M334.6 1299.5V1312M376.7 1299.5V1312M417.5 1299.5V1312M455.7 1299.5V1312M494.6 1299.5V1312M530.8 1299.5V1312M566 1299.5V1312M598.6 1299.5V1312M633.4 1299.5V1312M666.7 1299.5V1312M695.3 1299.5V1312M722.3 1299.5V1312M747.4 1299.5V1312M768.6 1299.5V1312M788.8 1299.5V1312M810.3 1299.5V1312M830.8 1332.4H844.1M830.8 1354.1H844.1M830.8 1376.4H844.1M830.8 1397.5H844.1M830.8 1422.1H844.1M830.8 1448.6H844.1M830.8 1476.9H844.1M830.8 1510H844.1M830.8 1545.4H844.1M830.8 1577.9H844.1M830.8 1612.5H844.1M830.8 1649.1H844.1M830.8 1687.5H844.1M830.8 1725.5H844.1M830.8 1766.2H844.1M830.8 1808.4H844.1M830.8 1845.9H844.1" stroke="#333" stroke-width="1.5" fill="none"/>
<path d="M310.06 1889.1V1897.1M367.92 1889.1V1897.1M425.78 1889.1V1897.1M483.64 1889.1V1897.1M541.5 1889.1V1897.1M599.36 1889.1V1897.1M657.22 1889.1V1897.1M715.08 1889.1V1897.1M772.94 1889.1V1897.1M244.2 1831.39H252.2M244.2 1773.68H252.2M244.2 1715.97H252.2M244.2 1658.26H252.2M244.2 1600.55H252.2M244.2 1542.84H252.2M244.2 1485.13H252.2M244.2 1427.42H252.2M244.2 1369.71H252.2" stroke="#555" stroke-width="1.8" fill="none"/>
<text x="268.45" y="1307.2" font-size="11.01" fill="#222" textLength="11.59" lengthAdjust="spacingAndGlyphs">1B</text>
<text x="309.77" y="1307.2" font-size="11.01" fill="#222" textLength="11.59" lengthAdjust="spacingAndGlyphs">2B</text>
<text x="349.93" y="1307.2" font-size="11.01" fill="#222" textLength="11.59" lengthAdjust="spacingAndGlyphs">3B</text>
<text x="391.45" y="1307.2" font-size="11.01" fill="#222" textLength="11.59" lengthAdjust="spacingAndGlyphs">4B</text>
<text x="430.87" y="1307.2" font-size="11.01" fill="#222" textLength="11.59" lengthAdjust="spacingAndGlyphs">5B</text>
<text x="469.37" y="1307.2" font-size="11.01" fill="#222" textLength="11.59" lengthAdjust="spacingAndGlyphs">6B</text>
<text x="506.92" y="1307.2" font-size="11.01" fill="#222" textLength="11.59" lengthAdjust="spacingAndGlyphs">7B</text>
<text x="542.66" y="1307.2" font-size="11.01" fill="#222" textLength="11.59" lengthAdjust="spacingAndGlyphs">8B</text>
<text x="576.55" y="1307.2" font-size="11.01" fill="#222" textLength="11.59" lengthAdjust="spacingAndGlyphs">9B</text>
<text x="607.46" y="1307.2" font-size="11.01" fill="#222" textLength="16.85" lengthAdjust="spacingAndGlyphs">10B</text>
<text x="641.87" y="1307.2" font-size="11.01" fill="#222" textLength="16.15" lengthAdjust="spacingAndGlyphs">11B</text>
<text x="672.46" y="1307.2" font-size="11.01" fill="#222" textLength="16.85" lengthAdjust="spacingAndGlyphs">12B</text>
<text x="700.26" y="1307.2" font-size="11.01" fill="#222" textLength="16.85" lengthAdjust="spacingAndGlyphs">13B</text>
<text x="726.31" y="1307.2" font-size="11.01" fill="#222" textLength="16.85" lengthAdjust="spacingAndGlyphs">14B</text>
<text x="749.46" y="1307.2" font-size="11.01" fill="#222" textLength="16.85" lengthAdjust="spacingAndGlyphs">15B</text>
<text x="770.16" y="1307.2" font-size="11.01" fill="#222" textLength="16.85" lengthAdjust="spacingAndGlyphs">16B</text>
<text x="791.01" y="1307.2" font-size="11.01" fill="#222" textLength="16.85" lengthAdjust="spacingAndGlyphs">17B</text>
<text x="812.01" y="1307.2" font-size="11.01" fill="#222" textLength="16.85" lengthAdjust="spacingAndGlyphs">18B</text>
<text transform="translate(836.3 1867.5) rotate(90)" x="-5.9" y="0" font-size="11.01" fill="#222" textLength="11.59" lengthAdjust="spacingAndGlyphs">1B</text>
<text transform="translate(836.3 1827.15) rotate(90)" x="-5.78" y="0" font-size="11.01" fill="#222" textLength="11.59" lengthAdjust="spacingAndGlyphs">2B</text>
<text transform="translate(836.3 1787.3) rotate(90)" x="-5.72" y="0" font-size="11.01" fill="#222" textLength="11.59" lengthAdjust="spacingAndGlyphs">3B</text>
<text transform="translate(836.3 1745.85) rotate(90)" x="-5.65" y="0" font-size="11.01" fill="#222" textLength="11.59" lengthAdjust="spacingAndGlyphs">4B</text>
<text transform="translate(836.3 1706.5) rotate(90)" x="-5.73" y="0" font-size="11.01" fill="#222" textLength="11.59" lengthAdjust="spacingAndGlyphs">5B</text>
<text transform="translate(836.3 1668.3) rotate(90)" x="-5.78" y="0" font-size="11.01" fill="#222" textLength="11.59" lengthAdjust="spacingAndGlyphs">6B</text>
<text transform="translate(836.3 1630.8) rotate(90)" x="-5.78" y="0" font-size="11.01" fill="#222" textLength="11.59" lengthAdjust="spacingAndGlyphs">7B</text>
<text transform="translate(836.3 1595.2) rotate(90)" x="-5.74" y="0" font-size="11.01" fill="#222" textLength="11.59" lengthAdjust="spacingAndGlyphs">8B</text>
<text transform="translate(836.3 1561.65) rotate(90)" x="-5.75" y="0" font-size="11.01" fill="#222" textLength="11.59" lengthAdjust="spacingAndGlyphs">9B</text>
<text transform="translate(836.3 1527.7) rotate(90)" x="-8.54" y="0" font-size="11.01" fill="#222" textLength="16.85" lengthAdjust="spacingAndGlyphs">10B</text>
<text transform="translate(836.3 1493.45) rotate(90)" x="-8.18" y="0" font-size="11.01" fill="#222" textLength="16.15" lengthAdjust="spacingAndGlyphs">11B</text>
<text transform="translate(836.3 1462.75) rotate(90)" x="-8.54" y="0" font-size="11.01" fill="#222" textLength="16.85" lengthAdjust="spacingAndGlyphs">12B</text>
<text transform="translate(836.3 1435.35) rotate(90)" x="-8.54" y="0" font-size="11.01" fill="#222" textLength="16.85" lengthAdjust="spacingAndGlyphs">13B</text>
<text transform="translate(836.3 1409.8) rotate(90)" x="-8.54" y="0" font-size="11.01" fill="#222" textLength="16.85" lengthAdjust="spacingAndGlyphs">14B</text>
<text transform="translate(836.3 1386.95) rotate(90)" x="-8.54" y="0" font-size="11.01" fill="#222" textLength="16.85" lengthAdjust="spacingAndGlyphs">15B</text>
<text transform="translate(836.3 1365.25) rotate(90)" x="-8.54" y="0" font-size="11.01" fill="#222" textLength="16.85" lengthAdjust="spacingAndGlyphs">16B</text>
<text transform="translate(836.3 1343.25) rotate(90)" x="-8.54" y="0" font-size="11.01" fill="#222" textLength="16.85" lengthAdjust="spacingAndGlyphs">17B</text>
<text transform="translate(836.3 1322.2) rotate(90)" x="-8.54" y="0" font-size="11.01" fill="#222" textLength="16.85" lengthAdjust="spacingAndGlyphs">18B</text>
<text x="288.25" y="1914.4" font-size="15.36" fill="#111" textLength="43.68" lengthAdjust="spacingAndGlyphs">12.2 M</text>
<text x="346.29" y="1914.4" font-size="15.36" fill="#111" textLength="43.68" lengthAdjust="spacingAndGlyphs">24.3 M</text>
<text x="404.24" y="1914.4" font-size="15.36" fill="#111" textLength="43.68" lengthAdjust="spacingAndGlyphs">36.5 M</text>
<text x="462.21" y="1914.4" font-size="15.36" fill="#111" textLength="43.68" lengthAdjust="spacingAndGlyphs">48.6 M</text>
<text x="519.87" y="1914.4" font-size="15.36" fill="#111" textLength="43.68" lengthAdjust="spacingAndGlyphs">60.8 M</text>
<text x="577.73" y="1914.4" font-size="15.36" fill="#111" textLength="43.68" lengthAdjust="spacingAndGlyphs">72.9 M</text>
<text x="635.65" y="1914.4" font-size="15.36" fill="#111" textLength="43.68" lengthAdjust="spacingAndGlyphs">85.1 M</text>
<text x="693.49" y="1914.4" font-size="15.36" fill="#111" textLength="43.68" lengthAdjust="spacingAndGlyphs">97.3 M</text>
<text x="747.17" y="1914.4" font-size="15.36" fill="#111" textLength="51.62" lengthAdjust="spacingAndGlyphs">109.4 M</text>
<text transform="translate(240.4 1832.09) rotate(-90)" x="-22.05" y="0" font-size="16.23" fill="#111" textLength="44.17" lengthAdjust="spacingAndGlyphs">12.2 M</text>
<text transform="translate(240.4 1774.38) rotate(-90)" x="-21.87" y="0" font-size="16.23" fill="#111" textLength="44.17" lengthAdjust="spacingAndGlyphs">24.4 M</text>
<text transform="translate(240.4 1716.67) rotate(-90)" x="-21.78" y="0" font-size="16.23" fill="#111" textLength="44.17" lengthAdjust="spacingAndGlyphs">36.6 M</text>
<text transform="translate(240.4 1658.96) rotate(-90)" x="-21.67" y="0" font-size="16.23" fill="#111" textLength="44.17" lengthAdjust="spacingAndGlyphs">48.8 M</text>
<text transform="translate(240.4 1601.25) rotate(-90)" x="-15.84" y="0" font-size="16.23" fill="#111" textLength="32.12" lengthAdjust="spacingAndGlyphs">61 M</text>
<text transform="translate(240.4 1543.54) rotate(-90)" x="-21.87" y="0" font-size="16.23" fill="#111" textLength="44.17" lengthAdjust="spacingAndGlyphs">73.2 M</text>
<text transform="translate(240.4 1485.83) rotate(-90)" x="-21.81" y="0" font-size="16.23" fill="#111" textLength="44.17" lengthAdjust="spacingAndGlyphs">85.5 M</text>
<text transform="translate(240.4 1428.12) rotate(-90)" x="-21.83" y="0" font-size="16.23" fill="#111" textLength="44.17" lengthAdjust="spacingAndGlyphs">97.7 M</text>
<text transform="translate(240.4 1370.41) rotate(-90)" x="-26.06" y="0" font-size="16.23" fill="#111" textLength="52.2" lengthAdjust="spacingAndGlyphs">109.9 M</text>
<text x="520.49" y="1291.8" font-size="15.8" font-style="italic" fill="#111" textLength="45.06" lengthAdjust="spacingAndGlyphs">Pt76_B</text>
<text transform="translate(850.9 1600.55) rotate(90)" x="-39.23" y="0" font-size="15.8" font-style="italic" fill="#111" textLength="78.54" lengthAdjust="spacingAndGlyphs">19NSW04_B</text>
<path d="M1343.2 1275.9 L1921.5 1275.9 L1953.8 1308.2 L1953.8 1885.3 L1921.5 1917.6 L1343.2 1917.6 L1310.9 1885.3 L1310.9 1308.2 Z" fill="#f3f3f3"/>
<rect x="1343.2" y="1308.2" width="578.3" height="577.1" fill="#fff"/>
<path d="M1386.7 1308.2V1885.3M1420.5 1308.2V1885.3M1462.7 1308.2V1885.3M1502.4 1308.2V1885.3M1539.4 1308.2V1885.3M1584.6 1308.2V1885.3M1620.8 1308.2V1885.3M1656 1308.2V1885.3M1689 1308.2V1885.3M1722.8 1308.2V1885.3M1754.6 1308.2V1885.3M1783.1 1308.2V1885.3M1809.7 1308.2V1885.3M1835.2 1308.2V1885.3M1856.2 1308.2V1885.3M1879.6 1308.2V1885.3M1901.3 1308.2V1885.3M1343.2 1328.3H1921.5M1343.2 1349.1H1921.5M1343.2 1372.2H1921.5M1343.2 1392.6H1921.5M1343.2 1417.5H1921.5M1343.2 1444.5H1921.5M1343.2 1472.7H1921.5M1343.2 1504.8H1921.5M1343.2 1538.6H1921.5M1343.2 1573.7H1921.5M1343.2 1608.6H1921.5M1343.2 1644.6H1921.5M1343.2 1684.7H1921.5M1343.2 1721.2H1921.5M1343.2 1760.7H1921.5M1343.2 1802.9H1921.5M1343.2 1841.6H1921.5" stroke="#8c8c8c" stroke-width="1.1" stroke-dasharray="3 2.9" fill="none"/>
<path d="M1703 1460h2M1469 1460h2M1604 1460h2M1893 1460h2M1488 1460h2M1642 1460h2M1383 1349h2M1514 1349h2M1576 1349h2M1813 1349h2M1678 1348h2M1491 1609h2M1907 1609h2M1351 1609h2M1409 1608h2M1780 1574h2M1459 1574h2M1388 1574h2M1670 1574h2M1764 1827h2M1713 1828h2M1527 1311h2" stroke="#135a16" stroke-width="2" stroke-opacity="0.72" fill="none"/>
<path d="M1347 1460h2M1706 1460h2M1760 1460h2M1757 1460h2M1521 1460h2M1520 1460h2M1608 1460h2M1582 1460h2M1893 1460h2M1490 1461h2M1640 1460h2M1370 1460h2M1380 1460h2M1823 1460h2M1434 1460h2M1431 1460h2M1432 1460h2M1797 1349h2M1590 1349h2M1516 1349h2M1666 1609h2M1440 1608h2M1444 1608h2M1405 1608h2M1405 1608h2M1491 1609h2M1905 1609h2M1791 1609h2M1461 1574h2M1832 1574h2M1439 1827h2M1760 1827h2M1712 1827h2M1674 1311h2M1673 1311h2M1477 1311h2M1531 1312h2" stroke="#3cc44e" stroke-width="2" stroke-opacity="0.72" fill="none"/>
<path d="M1520 1460h2M1585 1460h2M1372 1460h2M1793 1349h2M1581 1348h2M1425 1348h2M1400 1349h2M1667 1608h2M1380 1609h2M1409 1609h2M1779 1574h2M1837 1574h2M1436 1827h2M1713 1827h2M1478 1311h2" stroke="#d9732a" stroke-width="2" stroke-opacity="0.72" fill="none"/>
<path d="M1793 1349h2M1812 1348h2M1674 1312h2M1371 1311h2" stroke="#fdd54d" stroke-width="2" stroke-opacity="0.72" fill="none"/>
<path d="M1386.7 1295.7V1308.2M1420.5 1295.7V1308.2M1462.7 1295.7V1308.2M1502.4 1295.7V1308.2M1539.4 1295.7V1308.2M1584.6 1295.7V1308.2M1620.8 1295.7V1308.2M1656 1295.7V1308.2M1689 1295.7V1308.2M1722.8 1295.7V1308.2M1754.6 1295.7V1308.2M1783.1 1295.7V1308.2M1809.7 1295.7V1308.2M1835.2 1295.7V1308.2M1856.2 1295.7V1308.2M1879.6 1295.7V1308.2M1901.3 1295.7V1308.2M1921.5 1328.3H1934.8M1921.5 1349.1H1934.8M1921.5 1372.2H1934.8M1921.5 1392.6H1934.8M1921.5 1417.5H1934.8M1921.5 1444.5H1934.8M1921.5 1472.7H1934.8M1921.5 1504.8H1934.8M1921.5 1538.6H1934.8M1921.5 1573.7H1934.8M1921.5 1608.6H1934.8M1921.5 1644.6H1934.8M1921.5 1684.7H1934.8M1921.5 1721.2H1934.8M1921.5 1760.7H1934.8M1921.5 1802.9H1934.8M1921.5 1841.6H1934.8" stroke="#333" stroke-width="1.5" fill="none"/>
<path d="M1401.03 1885.3V1893.3M1458.86 1885.3V1893.3M1516.69 1885.3V1893.3M1574.52 1885.3V1893.3M1632.35 1885.3V1893.3M1690.18 1885.3V1893.3M1748.01 1885.3V1893.3M1805.84 1885.3V1893.3M1863.67 1885.3V1893.3M1335.2 1827.59H1343.2M1335.2 1769.88H1343.2M1335.2 1712.17H1343.2M1335.2 1654.46H1343.2M1335.2 1596.75H1343.2M1335.2 1539.04H1343.2M1335.2 1481.33H1343.2M1335.2 1423.62H1343.2M1335.2 1365.91H1343.2" stroke="#555" stroke-width="1.8" fill="none"/>
<text x="1358.72" y="1303.4" font-size="11.01" fill="#222" textLength="12.11" lengthAdjust="spacingAndGlyphs">1C</text>
<text x="1397.49" y="1303.4" font-size="11.01" fill="#222" textLength="12.11" lengthAdjust="spacingAndGlyphs">2C</text>
<text x="1435.55" y="1303.4" font-size="11.01" fill="#222" textLength="12.11" lengthAdjust="spacingAndGlyphs">3C</text>
<text x="1476.57" y="1303.4" font-size="11.01" fill="#222" textLength="12.11" lengthAdjust="spacingAndGlyphs">4C</text>
<text x="1514.84" y="1303.4" font-size="11.01" fill="#222" textLength="12.11" lengthAdjust="spacingAndGlyphs">5C</text>
<text x="1555.89" y="1303.4" font-size="11.01" fill="#222" textLength="12.11" lengthAdjust="spacingAndGlyphs">6C</text>
<text x="1596.59" y="1303.4" font-size="11.01" fill="#222" textLength="12.11" lengthAdjust="spacingAndGlyphs">7C</text>
<text x="1632.33" y="1303.4" font-size="11.01" fill="#222" textLength="12.11" lengthAdjust="spacingAndGlyphs">8C</text>
<text x="1666.41" y="1303.4" font-size="11.01" fill="#222" textLength="12.11" lengthAdjust="spacingAndGlyphs">9C</text>
<text x="1697.03" y="1303.4" font-size="11.01" fill="#222" textLength="17.38" lengthAdjust="spacingAndGlyphs">10C</text>
<text x="1730.19" y="1303.4" font-size="11.01" fill="#222" textLength="16.67" lengthAdjust="spacingAndGlyphs">11C</text>
<text x="1759.98" y="1303.4" font-size="11.01" fill="#222" textLength="17.38" lengthAdjust="spacingAndGlyphs">12C</text>
<text x="1787.53" y="1303.4" font-size="11.01" fill="#222" textLength="17.38" lengthAdjust="spacingAndGlyphs">13C</text>
<text x="1813.58" y="1303.4" font-size="11.01" fill="#222" textLength="17.38" lengthAdjust="spacingAndGlyphs">14C</text>
<text x="1836.83" y="1303.4" font-size="11.01" fill="#222" textLength="17.38" lengthAdjust="spacingAndGlyphs">15C</text>
<text x="1859.03" y="1303.4" font-size="11.01" fill="#222" textLength="17.38" lengthAdjust="spacingAndGlyphs">16C</text>
<text x="1881.58" y="1303.4" font-size="11.01" fill="#222" textLength="17.38" lengthAdjust="spacingAndGlyphs">17C</text>
<text x="1902.53" y="1303.4" font-size="11.01" fill="#222" textLength="17.38" lengthAdjust="spacingAndGlyphs">18C</text>
<text transform="translate(1927 1863.45) rotate(90)" x="-6.23" y="0" font-size="11.01" fill="#222" textLength="12.11" lengthAdjust="spacingAndGlyphs">1C</text>
<text transform="translate(1927 1822.25) rotate(90)" x="-6.11" y="0" font-size="11.01" fill="#222" textLength="12.11" lengthAdjust="spacingAndGlyphs">2C</text>
<text transform="translate(1927 1781.8) rotate(90)" x="-6.05" y="0" font-size="11.01" fill="#222" textLength="12.11" lengthAdjust="spacingAndGlyphs">3C</text>
<text transform="translate(1927 1740.95) rotate(90)" x="-5.98" y="0" font-size="11.01" fill="#222" textLength="12.11" lengthAdjust="spacingAndGlyphs">4C</text>
<text transform="translate(1927 1702.95) rotate(90)" x="-6.06" y="0" font-size="11.01" fill="#222" textLength="12.11" lengthAdjust="spacingAndGlyphs">5C</text>
<text transform="translate(1927 1664.65) rotate(90)" x="-6.11" y="0" font-size="11.01" fill="#222" textLength="12.11" lengthAdjust="spacingAndGlyphs">6C</text>
<text transform="translate(1927 1626.6) rotate(90)" x="-6.11" y="0" font-size="11.01" fill="#222" textLength="12.11" lengthAdjust="spacingAndGlyphs">7C</text>
<text transform="translate(1927 1591.15) rotate(90)" x="-6.07" y="0" font-size="11.01" fill="#222" textLength="12.11" lengthAdjust="spacingAndGlyphs">8C</text>
<text transform="translate(1927 1556.15) rotate(90)" x="-6.09" y="0" font-size="11.01" fill="#222" textLength="12.11" lengthAdjust="spacingAndGlyphs">9C</text>
<text transform="translate(1927 1521.7) rotate(90)" x="-8.87" y="0" font-size="11.01" fill="#222" textLength="17.38" lengthAdjust="spacingAndGlyphs">10C</text>
<text transform="translate(1927 1488.75) rotate(90)" x="-8.51" y="0" font-size="11.01" fill="#222" textLength="16.67" lengthAdjust="spacingAndGlyphs">11C</text>
<text transform="translate(1927 1458.6) rotate(90)" x="-8.87" y="0" font-size="11.01" fill="#222" textLength="17.38" lengthAdjust="spacingAndGlyphs">12C</text>
<text transform="translate(1927 1431) rotate(90)" x="-8.87" y="0" font-size="11.01" fill="#222" textLength="17.38" lengthAdjust="spacingAndGlyphs">13C</text>
<text transform="translate(1927 1405.05) rotate(90)" x="-8.87" y="0" font-size="11.01" fill="#222" textLength="17.38" lengthAdjust="spacingAndGlyphs">14C</text>
<text transform="translate(1927 1382.4) rotate(90)" x="-8.87" y="0" font-size="11.01" fill="#222" textLength="17.38" lengthAdjust="spacingAndGlyphs">15C</text>
<text transform="translate(1927 1360.65) rotate(90)" x="-8.87" y="0" font-size="11.01" fill="#222" textLength="17.38" lengthAdjust="spacingAndGlyphs">16C</text>
<text transform="translate(1927 1338.7) rotate(90)" x="-8.87" y="0" font-size="11.01" fill="#222" textLength="17.38" lengthAdjust="spacingAndGlyphs">17C</text>
<text transform="translate(1927 1318.25) rotate(90)" x="-8.87" y="0" font-size="11.01" fill="#222" textLength="17.38" lengthAdjust="spacingAndGlyphs">18C</text>
<text x="1379.22" y="1910.6" font-size="15.36" fill="#111" textLength="43.68" lengthAdjust="spacingAndGlyphs">12.3 M</text>
<text x="1437.23" y="1910.6" font-size="15.36" fill="#111" textLength="43.68" lengthAdjust="spacingAndGlyphs">24.6 M</text>
<text x="1501.12" y="1910.6" font-size="15.36" fill="#111" textLength="31.76" lengthAdjust="spacingAndGlyphs">37 M</text>
<text x="1553.09" y="1910.6" font-size="15.36" fill="#111" textLength="43.68" lengthAdjust="spacingAndGlyphs">49.3 M</text>
<text x="1610.72" y="1910.6" font-size="15.36" fill="#111" textLength="43.68" lengthAdjust="spacingAndGlyphs">61.6 M</text>
<text x="1668.55" y="1910.6" font-size="15.36" fill="#111" textLength="43.68" lengthAdjust="spacingAndGlyphs">73.9 M</text>
<text x="1726.44" y="1910.6" font-size="15.36" fill="#111" textLength="43.68" lengthAdjust="spacingAndGlyphs">86.3 M</text>
<text x="1784.25" y="1910.6" font-size="15.36" fill="#111" textLength="43.68" lengthAdjust="spacingAndGlyphs">98.6 M</text>
<text x="1838.44" y="1910.6" font-size="15.36" fill="#111" textLength="50.56" lengthAdjust="spacingAndGlyphs">110.9 M</text>
<text transform="translate(1331.4 1828.29) rotate(-90)" x="-22.05" y="0" font-size="16.23" fill="#111" textLength="44.17" lengthAdjust="spacingAndGlyphs">12.3 M</text>
<text transform="translate(1331.4 1770.58) rotate(-90)" x="-21.87" y="0" font-size="16.23" fill="#111" textLength="44.17" lengthAdjust="spacingAndGlyphs">24.7 M</text>
<text transform="translate(1331.4 1712.87) rotate(-90)" x="-15.75" y="0" font-size="16.23" fill="#111" textLength="32.12" lengthAdjust="spacingAndGlyphs">37 M</text>
<text transform="translate(1331.4 1655.16) rotate(-90)" x="-21.67" y="0" font-size="16.23" fill="#111" textLength="44.17" lengthAdjust="spacingAndGlyphs">49.3 M</text>
<text transform="translate(1331.4 1597.45) rotate(-90)" x="-21.87" y="0" font-size="16.23" fill="#111" textLength="44.17" lengthAdjust="spacingAndGlyphs">61.6 M</text>
<text transform="translate(1331.4 1539.74) rotate(-90)" x="-15.84" y="0" font-size="16.23" fill="#111" textLength="32.12" lengthAdjust="spacingAndGlyphs">74 M</text>
<text transform="translate(1331.4 1482.03) rotate(-90)" x="-21.81" y="0" font-size="16.23" fill="#111" textLength="44.17" lengthAdjust="spacingAndGlyphs">86.3 M</text>
<text transform="translate(1331.4 1424.32) rotate(-90)" x="-21.83" y="0" font-size="16.23" fill="#111" textLength="44.17" lengthAdjust="spacingAndGlyphs">98.6 M</text>
<text transform="translate(1331.4 1366.61) rotate(-90)" x="-25.52" y="0" font-size="16.23" fill="#111" textLength="51.13" lengthAdjust="spacingAndGlyphs">110.9 M</text>
<text x="1591.85" y="1288" font-size="15.8" font-style="italic" fill="#111" textLength="82.26" lengthAdjust="spacingAndGlyphs">19NSW04_C</text>
<text transform="translate(1941.6 1596.75) rotate(90)" x="-37.75" y="0" font-size="15.8" font-style="italic" fill="#111" textLength="75.53" lengthAdjust="spacingAndGlyphs">20QLD87_C</text>
<path d="M32.2 1141.4 L352.6 820.6" stroke="#0b5510" stroke-width="1.9" fill="none" stroke-linecap="butt"/>
<path d="M355.3 818.2 L610.8 564" stroke="#0b5510" stroke-width="1.9" fill="none" stroke-linecap="butt"/>
<path d="M1555.8 1135.9 L1874.4 818.5" stroke="#0b5510" stroke-width="1.9" fill="none" stroke-linecap="butt"/>
<path d="M1882.1 816 L1886.6 809 L2134.5 559.1" stroke="#0b5510" stroke-width="1.9" fill="none" stroke-linecap="butt"/>
<path d="M252.2 1889.9 L830.8 1312" stroke="#0b5510" stroke-width="1.6" fill="none" stroke-linecap="butt"/>
<path d="M791.3 1140.8 L860.2 1070.7" stroke="#0b5510" stroke-width="1.9" fill="none" stroke-linecap="butt"/>
<path d="M872 1064.2 L1025.7 912.3" stroke="#0b5510" stroke-width="1.9" fill="none" stroke-linecap="butt"/>
<path d="M859.9 912 L872 900.4" stroke="#0b5510" stroke-width="1.9" fill="none" stroke-linecap="butt"/>
<path d="M1025.4 1071.2 L1031.6 1064.2" stroke="#0b5510" stroke-width="1.9" fill="none" stroke-linecap="butt"/>
<path d="M1031.6 900.4 L1369.2 564" stroke="#0b5510" stroke-width="1.9" fill="none" stroke-linecap="butt"/>
<path d="M1343.2 1885.3 L1413.5 1814.8" stroke="#0b5510" stroke-width="1.5" fill="none" stroke-linecap="butt"/>
<path d="M1420.1 1802.7 L1572.8 1651.6" stroke="#0b5510" stroke-width="1.5" fill="none" stroke-linecap="butt"/>
<path d="M1413.5 1651.6 L1420.1 1645.8" stroke="#0b5510" stroke-width="1.5" fill="none" stroke-linecap="butt"/>
<path d="M1572.8 1814.8 L1584.5 1802.7" stroke="#0b5510" stroke-width="1.5" fill="none" stroke-linecap="butt"/>
<path d="M1584.5 1644.6 L1888.4 1339.3" stroke="#0b5510" stroke-width="1.5" fill="none" stroke-linecap="butt"/>
<path d="M1890.2 1339.9 L1921.5 1308.2" stroke="#0b5510" stroke-width="1.5" fill="none" stroke-linecap="butt"/>
<text x="254.41" y="1217.7" font-size="34.2" font-style="italic" fill="#000" textLength="28.05" lengthAdjust="spacingAndGlyphs">Pt</text>
<text x="285.75" y="1217.7" font-size="34.2" fill="#000" textLength="103.27" lengthAdjust="spacingAndGlyphs">76 A/B</text>
<text x="963.53" y="1217.8" font-size="34.2" fill="#000" textLength="222.45" lengthAdjust="spacingAndGlyphs">19NSW04 B/C</text>
<text x="1708.26" y="1217.8" font-size="34.2" fill="#000" textLength="218.03" lengthAdjust="spacingAndGlyphs">20QLD87 C/D</text>
<text x="395.11" y="1964.7" font-size="34.2" font-style="italic" fill="#000" textLength="28.05" lengthAdjust="spacingAndGlyphs">Pt</text>
<text x="426.53" y="1964.7" font-size="34.2" fill="#000" textLength="262.13" lengthAdjust="spacingAndGlyphs">76 B/19NSW04 B</text>
<text x="1439.92" y="1964.4" font-size="34.2" fill="#000" textLength="382.34" lengthAdjust="spacingAndGlyphs">19NSW04 C/20QLD87 C</text>
<rect x="1084.5" y="1411.5" width="55" height="106.3" fill="#0a4b0c"/>
<rect x="1084.5" y="1517.5" width="55" height="106.6" fill="#2fbb42"/>
<rect x="1084.5" y="1623.9" width="55" height="109.2" fill="#d4660c"/>
<rect x="1084.5" y="1732.9" width="55" height="98.1" fill="#fdd54d"/>
<text x="997.69" y="1389.4" font-size="26.67" fill="#000" textLength="96.37" lengthAdjust="spacingAndGlyphs">Legend</text>
<text x="1026.14" y="1420" font-size="23.62" fill="#000" textLength="45.78" lengthAdjust="spacingAndGlyphs">1.00</text>
<text x="1028.36" y="1524" font-size="23.62" fill="#000" textLength="43.57" lengthAdjust="spacingAndGlyphs">0.75</text>
<text x="1023.36" y="1628.7" font-size="23.62" fill="#000" textLength="48.61" lengthAdjust="spacingAndGlyphs">0.50</text>
<text x="1025.71" y="1733.6" font-size="23.62" fill="#000" textLength="46.28" lengthAdjust="spacingAndGlyphs">0.25</text>
<text x="1057.31" y="1837.6" font-size="23.62" fill="#000" textLength="14.72" lengthAdjust="spacingAndGlyphs">0</text>
<text transform="translate(997 1620.5) rotate(-90)" x="-49.91" y="0" font-size="27.54" fill="#000" textLength="97.09" lengthAdjust="spacingAndGlyphs">Identity</text>
</svg>
</body></html>
